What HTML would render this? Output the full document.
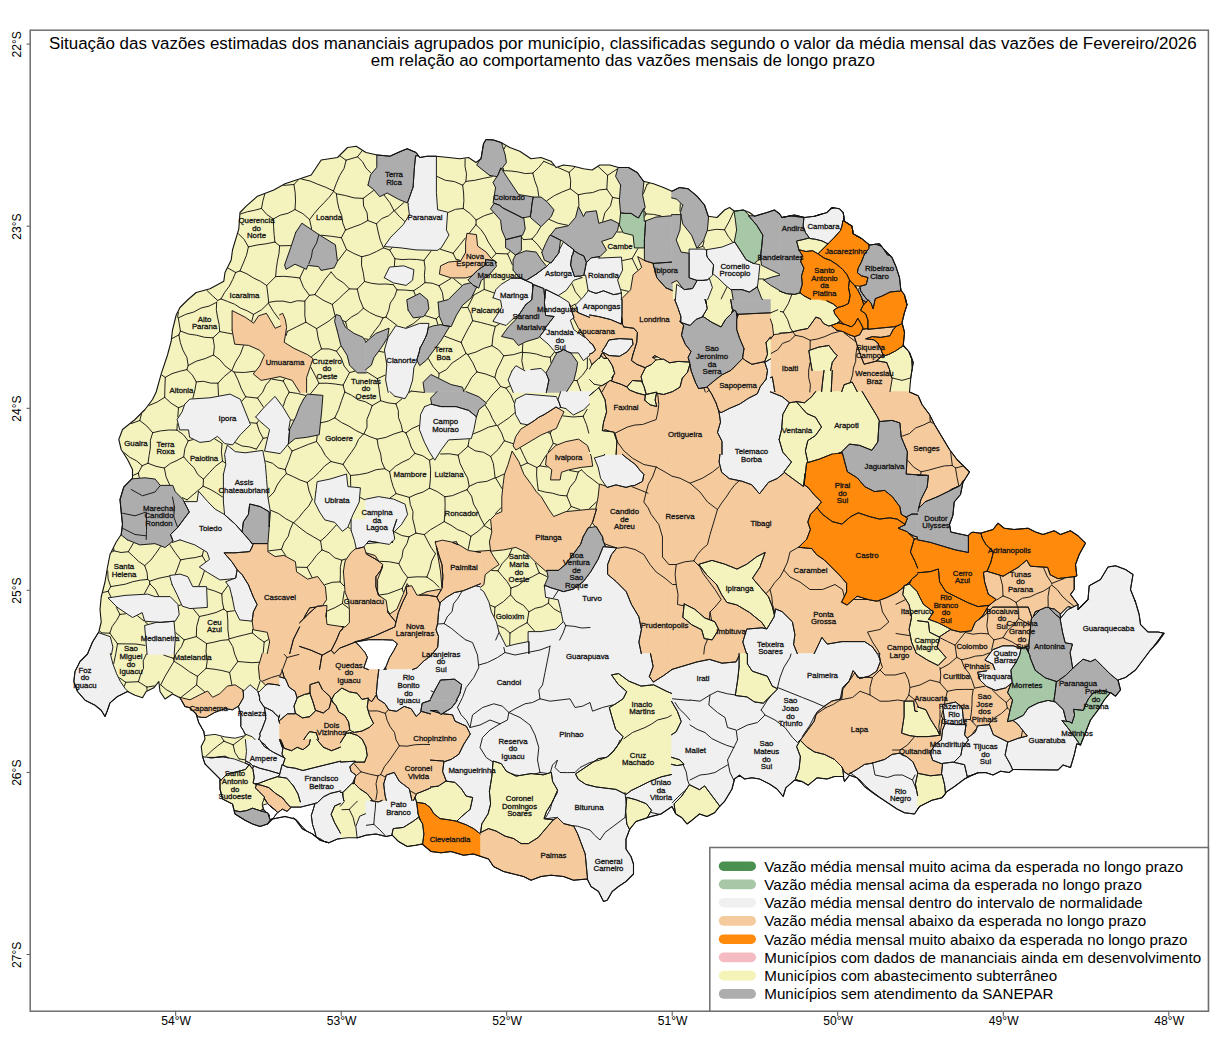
<!DOCTYPE html><html><head><meta charset="utf-8"><style>html,body{margin:0;padding:0;background:#fff}svg{display:block}text{font-family:"Liberation Sans",sans-serif;fill:#000}</style></head><body>
<svg width="1224" height="1049" viewBox="0 0 1224 1049">
<rect width="1224" height="1049" fill="#fff"/>
<path d="M156.2,392.0L152.5,399.5L145.0,409.5L135.0,419.5L122.5,429.5L118.8,439.5L121.2,449.5L127.5,459.5L132.5,469.5L132.5,478.2L123.8,487.0L120.0,499.5L121.2,512.0L122.5,524.5L121.2,534.5L116.2,542.0L110.0,554.5L107.5,567.0L105.0,582.0L101.2,597.0L100.0,609.5L101.2,622.0L98.8,632.0L92.5,642.0L87.5,654.0L80.0,661.5L75.0,671.5L73.8,681.5L77.5,691.5L85.0,700.2L95.0,705.2L101.2,710.2L105.0,716.5L107.5,710.2L110.0,702.8L117.5,696.5L127.5,691.5L135.0,695.2L142.5,697.8L146.2,691.5L153.8,687.8L158.8,681.5L160.0,691.5L165.0,699.0L172.5,694.0L180.0,697.8L185.0,706.5L190.0,707.8L196.2,714.0L198.8,722.8L203.8,731.5L205.0,739.0L201.2,746.5L202.5,756.5L205.0,764.0L212.5,771.5L220.0,779.0L220.0,789.0L222.5,799.0L232.5,804.0L235.0,814.0L245.0,820.2L252.5,824.0L260.0,826.5L267.5,824.0L272.5,819.0L285.0,816.5L295.0,819.0L302.5,829.0L312.5,834.0L320.0,840.2L328.8,842.8L337.5,839.0L347.5,837.8L357.5,837.8L366.0,835.2L376.0,834.0L386.0,836.5L392.2,835.2L398.5,841.5L407.2,846.5L416.0,845.2L422.2,844.0L431.0,851.5L441.0,852.8L451.0,851.5L463.5,855.2L473.5,854.0L481.0,856.5L488.5,859.0L493.5,866.5L503.5,871.5L513.5,874.0L523.5,876.5L531.0,880.2L541.0,876.5L551.0,875.2L563.5,876.5L573.5,880.2L587.2,879.0L591.0,886.5L598.5,891.5L603.5,901.5L607.2,900.2L612.2,891.5L618.5,886.5L626.0,881.5L633.5,874.0L633.5,864.0L631.0,856.5L626.0,849.0L626.0,839.0L629.8,829.0L636.0,821.5L651.0,816.5L661.0,814.0L672.0,806.5L675.8,814.0L682.0,817.8L687.0,824.0L692.0,820.2L699.5,814.0L707.0,816.5L714.5,812.8L719.5,806.5L724.5,801.5L732.0,789.0L734.5,779.0L739.5,775.2L744.5,779.0L752.0,777.8L759.5,779.0L769.5,784.0L777.0,789.0L783.2,796.5L785.8,787.8L794.5,780.2L802.0,781.5L808.2,785.2L817.0,777.8L827.0,779.0L834.5,776.5L843.2,776.5L844.5,781.5L849.5,775.2L857.0,777.8L864.5,786.5L874.5,794.0L882.0,799.0L889.5,804.0L897.0,809.0L904.5,812.8L914.5,814.0L919.5,806.5L924.5,804.0L932.0,800.2L942.0,797.8L947.0,791.5L954.5,786.5L964.5,779.0L972.0,775.2L978.0,772.8L985.5,772.5L993.0,775.0L1000.5,771.2L1009.2,772.5L1013.0,769.5L1058.0,770.0L1063.0,765.0L1070.5,767.5L1074.2,755.0L1076.8,743.8L1080.5,745.0L1085.5,732.5L1090.5,720.0L1098.0,710.0L1104.2,700.0L1110.5,692.5L1115.5,696.2L1120.5,690.0L1118.0,680.0L1125.5,677.5L1135.5,670.0L1143.0,660.0L1150.5,650.0L1158.0,642.0L1164.2,633.2L1158.0,632.0L1148.0,632.0L1140.5,624.5L1139.2,614.5L1135.5,602.0L1130.5,589.5L1133.0,574.5L1125.5,569.5L1115.5,565.8L1108.0,567.0L1100.5,579.5L1089.2,585.8L1088.0,599.5L1078.0,609.5L1078.0,604.5L1070.5,594.5L1074.2,589.5L1074.2,577.0L1076.8,575.8L1075.5,564.5L1079.2,554.5L1085.5,543.2L1078.0,535.8L1070.5,530.8L1060.5,534.5L1054.2,530.8L1043.0,534.5L1035.5,532.0L1028.0,528.2L1014.2,529.5L1004.2,528.2L998.0,523.2L993.0,529.5L980.5,533.2L973.1,532.2L971.0,532.8L968.0,535.8L962.3,534.5L962.0,534.5L950.8,532.0L949.5,524.5L952.6,516.2L953.0,514.5L954.2,502.0L960.5,494.5L963.0,482.0L963.1,482.4L963.2,482.0L969.5,472.0L957.0,459.5L949.5,449.5L942.0,437.0L934.5,424.5L929.5,414.5L922.0,404.5L918.2,395.8L909.5,392.0L910.8,377.5L913.2,362.5L909.5,352.5L903.2,345.0L904.5,332.5L902.0,322.5L904.5,312.5L907.0,305.0L904.5,295.0L900.8,290.0L899.5,277.5L895.8,266.2L892.0,257.5L884.5,250.0L879.5,243.8L869.5,245.0L862.0,238.8L853.2,233.8L852.0,226.2L844.5,221.2L843.2,212.5L839.5,208.8L832.0,207.5L827.0,212.5L814.5,216.2L804.5,217.5L794.5,215.0L782.0,217.5L779.5,213.8L774.5,210.0L767.0,212.5L754.5,216.2L749.5,212.5L743.2,210.0L734.5,211.2L729.5,207.5L724.5,210.0L717.0,217.5L708.2,216.2L704.5,205.0L697.0,196.2L688.2,188.8L679.5,187.5L672.0,191.2L663.5,187.5L653.5,183.8L643.5,181.2L637.2,172.5L628.5,167.5L618.5,167.5L609.8,165.0L599.8,165.0L592.2,170.0L583.5,168.8L573.5,166.2L563.5,165.0L556.0,167.5L551.0,161.2L541.0,157.5L531.0,158.8L519.8,151.2L509.8,147.5L501.0,142.5L493.5,140.0L486.0,139.5L483.5,143.8L481.0,158.8L476.0,162.5L468.5,157.5L459.8,158.8L448.5,157.5L436.0,156.2L427.2,156.2L419.8,157.5L416.0,152.5L407.2,148.8L401.0,151.2L389.8,156.2L377.2,155.0L366.0,152.5L356.2,146.2L347.5,147.5L337.5,157.5L321.2,160.0L311.2,175.0L300.0,178.8L285.0,183.8L273.8,190.0L257.5,196.2L246.2,206.2L240.0,212.5L238.8,228.8L232.5,250.0L231.2,260.0L225.0,272.5L223.8,281.2L210.0,288.8L196.2,292.5L187.5,300.0L180.0,307.5L176.2,315.0L172.5,330.0L171.2,341.2L167.5,355.0L161.2,373.8Z" fill="#f4f3bd" stroke="none"/>
<path d="M295.8,232.3L290.8,247.4L284.6,265.0L286.0,269.4L295.0,264.2L306.4,269.3L307.8,265.4L318.6,266.6L321.0,270.4L334.1,267.9L337.4,261.3L335.4,244.8L319.0,234.7L301.9,223.2Z" fill="#adadad" stroke="#adadad" stroke-width="0.6"/>
<path d="M232.1,330.0L234.7,344.2L248.7,345.4L259.8,350.3L264.5,355.1L259.7,366.0L253.2,373.9L261.1,380.4L267.6,379.2L280.0,376.6L292.2,380.3L299.8,392.4L306.6,392.4L306.6,377.6L310.4,366.3L313.0,358.7L307.7,354.7L294.0,348.4L284.2,342.3L286.6,327.5L285.4,319.9L282.7,313.3L279.6,314.8L280.8,325.9L275.2,328.3L270.3,319.8L266.4,313.3L258.5,315.9L253.7,323.2L245.2,317.2L232.1,310.6Z" fill="#f5cb9d" stroke="#f5cb9d" stroke-width="0.6"/>
<path d="M337.1,330.1L340.8,345.2L347.1,355.2L349.6,365.2L357.3,372.9L366.4,372.9L366.4,369.0L365.6,369.6L365.6,342.3L366.1,341.9L362.8,337.2L354.0,333.4L345.3,327.2L340.3,315.9L335.9,314.5L334.6,321.2Z" fill="#adadad" stroke="#adadad" stroke-width="0.6"/>
<path d="M368.0,185.2L373.2,189.1L379.7,196.7L387.2,193.0L398.3,199.2L407.4,203.0L413.1,187.2L414.4,167.5L415.6,155.8L418.6,155.8L416.0,152.5L407.2,148.8L401.0,151.2L389.8,156.2L376.8,154.9L376.8,167.4L370.6,174.8Z" fill="#adadad" stroke="#adadad" stroke-width="0.6"/>
<path d="M413.1,187.0L407.4,203.0L408.5,203.5L408.1,205.0L409.4,214.9L403.2,224.7L390.7,237.2L384.1,246.5L401.0,247.9L416.0,249.9L437.3,250.4L441.3,247.8L449.0,235.0L446.4,229.9L447.6,212.2L437.6,209.7L436.4,192.5L436.4,156.2L427.2,156.2L419.8,157.5L418.5,155.8L415.6,155.8L414.4,167.5Z" fill="#f0f0f0" stroke="#f0f0f0" stroke-width="0.6"/>
<path d="M489.6,175.4L497.0,176.6L498.1,174.8L500.9,167.9L501.7,169.1L502.5,167.7L506.4,162.6L505.2,154.9L501.5,142.8L501.0,142.5L493.5,140.0L486.0,139.5L483.5,143.8L481.0,158.8L480.1,159.4L476.7,165.1Z" fill="#adadad" stroke="#adadad" stroke-width="0.6"/>
<path d="M495.6,187.6L493.1,202.8L499.6,205.3L502.9,208.0L516.2,214.6L522.5,217.9L530.1,216.5L531.1,211.9L531.8,204.9L533.2,197.1L533.5,197.1L526.1,195.8L518.7,194.6L508.8,179.8L500.9,167.9L498.1,174.8L493.0,182.5Z" fill="#adadad" stroke="#adadad" stroke-width="0.6"/>
<path d="M505.6,239.7L521.4,235.7L521.4,235.9L522.5,235.3L525.2,228.9L523.7,217.6L522.4,217.8L503.1,208.1L499.6,205.3L494.2,203.2L490.5,208.8L500.6,220.2L501.8,230.1L505.6,238.9Z" fill="#adadad" stroke="#adadad" stroke-width="0.6"/>
<path d="M509.6,250.3L515.5,255.1L515.7,254.7L517.6,254.0L521.4,250.2L521.4,235.7L515.9,237.1L505.6,239.7L505.6,247.7Z" fill="#adadad" stroke="#adadad" stroke-width="0.6"/>
<path d="M531.2,211.6L530.1,216.6L530.7,216.5L530.6,217.7L541.0,226.7L551.3,216.4L554.0,209.9L547.5,202.2L541.1,197.1L533.2,197.1L531.8,204.9Z" fill="#adadad" stroke="#adadad" stroke-width="0.6"/>
<path d="M555.8,228.4L550.4,235.1L563.3,241.5L565.6,243.5L574.0,249.8L573.8,250.6L579.4,254.0L583.8,255.9L586.4,262.5L586.4,262.7L591.2,257.9L600.0,256.6L606.5,250.1L601.6,241.4L612.5,237.8L617.6,230.2L619.0,223.6L611.0,219.6L598.8,223.3L596.3,210.8L585.7,212.1L583.5,216.6L578.4,206.4L575.6,217.3L568.3,225.8Z" fill="#adadad" stroke="#adadad" stroke-width="0.6"/>
<path d="M620.6,185.1L619.4,200.0L620.6,212.9L624.8,213.4L631.1,213.4L636.3,216.9L638.5,218.0L643.9,208.5L643.9,209.7L645.2,207.6L642.6,195.0L643.9,181.3L643.5,181.2L637.2,172.5L628.5,167.5L618.5,167.5L618.1,167.4L615.6,176.3Z" fill="#adadad" stroke="#adadad" stroke-width="0.6"/>
<path d="M644.4,240.2L645.7,220.9L644.2,221.4L643.9,208.5L638.5,217.9L636.1,216.7L631.1,213.4L625.1,213.4L620.6,212.8L619.5,223.9L618.9,223.6L618.8,223.9L623.2,232.8L633.1,235.3L634.4,247.9L644.4,247.9Z" fill="#a6c8a6" stroke="#a6c8a6" stroke-width="0.6"/>
<path d="M671.6,262.1L671.6,215.8L655.9,217.1L645.6,220.9L644.4,240.0L644.4,260.5L653.5,263.4Z" fill="#adadad" stroke="#adadad" stroke-width="0.6"/>
<path d="M654.7,355.6L652.5,357.4L653.0,357.7L657.3,356.9ZM665.8,287.8L656.8,277.7L653.0,263.4L653.5,263.4L645.0,260.8L637.7,256.6L641.7,267.4L633.1,274.8L630.6,289.8L621.4,299.0L621.4,299.6L622.0,299.6L672.4,299.6L672.4,290.6Z" fill="#f5cb9d" stroke="#f5cb9d" stroke-width="0.6"/>
<path d="M665.8,287.8L672.4,290.6L672.4,282.7L671.6,283.1L671.6,262.1L653.0,263.4L656.8,277.7Z" fill="#adadad" stroke="#adadad" stroke-width="0.6"/>
<path d="M612.1,377.4L612.3,378.7L613.2,375.7ZM600.9,355.5L603.8,358.4L606.8,358.4L603.3,353.3L602.2,352.9ZM589.6,341.7L589.6,317.3L578.2,312.7L578.2,313.0L569.4,304.1L574.0,317.7L573.3,318.1L578.2,327.7L585.7,337.8ZM592.9,345.0L592.6,344.4L591.4,343.5Z" fill="#f5cb9d" stroke="#f5cb9d" stroke-width="0.6"/>
<path d="M588.1,290.3L590.6,291.5L596.0,293.4L603.5,290.8L613.5,294.6L618.3,293.8L621.5,292.8L617.6,280.0L622.6,270.1L621.4,257.1L598.4,258.1L600.0,256.5L591.2,257.8L586.3,262.7L583.8,275.4L585.6,275.1Z" fill="#f0f0f0" stroke="#f0f0f0" stroke-width="0.6"/>
<path d="M589.6,299.6L621.4,299.6L621.4,292.7L618.0,293.9L613.5,294.6L603.5,290.8L596.0,293.4L590.8,291.6L588.1,290.2L588.2,290.9L583.2,297.2L575.5,304.9L578.2,312.8L589.6,317.4ZM621.8,317.7L621.3,323.4L622.6,324.7L622.4,320.9Z" fill="#f0f0f0" stroke="#f0f0f0" stroke-width="0.6"/>
<path d="M536.2,274.1L526.1,280.4L518.2,276.4L519.8,278.5L521.1,278.5L532.5,283.6L532.9,287.0L533.2,284.5L543.8,288.6L544.8,298.5L545.7,289.5L558.5,295.8L558.3,295.6L566.3,290.3L573.7,280.3L582.3,277.5L578.2,276.1L574.5,276.6L570.6,265.0L571.8,256.0L572.7,254.8L574.0,249.8L563.4,241.9L559.2,250.2L558.9,252.7L551.1,263.0L550.3,262.6L545.8,267.2L544.1,268.1Z" fill="#f0f0f0" stroke="#f0f0f0" stroke-width="0.6"/>
<path d="M570.6,265.0L574.5,276.6L583.8,275.4L586.4,262.5L583.8,255.9L579.6,254.1L573.7,250.5L572.6,254.9L571.8,256.0Z" fill="#adadad" stroke="#adadad" stroke-width="0.6"/>
<path d="M513.1,270.1L518.2,276.5L526.0,280.5L536.2,274.1L543.9,268.3L545.8,267.2L546.6,266.4L541.3,259.8L536.2,252.1L526.0,250.8L515.7,254.7L513.1,259.9Z" fill="#adadad" stroke="#adadad" stroke-width="0.6"/>
<path d="M541.8,252.5L544.5,260.3L551.1,263.0L558.9,252.7L560.5,240.1L550.4,235.1L549.9,235.8L549.6,235.6L545.6,243.6Z" fill="#adadad" stroke="#adadad" stroke-width="0.6"/>
<path d="M493.0,297.8L500.6,300.3L501.8,307.4L492.9,321.4L506.1,325.5L511.3,320.3L519.4,314.2L525.7,304.7L531.8,299.8L532.9,286.8L532.6,283.5L521.1,278.4L510.9,278.4L500.7,284.7L495.7,289.8Z" fill="#f0f0f0" stroke="#f0f0f0" stroke-width="0.6"/>
<path d="M525.7,304.7L515.7,319.7L508.2,327.2L501.5,336.5L513.3,339.2L518.4,345.5L526.1,341.6L538.7,337.8L543.7,331.3L545.7,327.3L554.1,316.5L545.6,315.4L544.4,302.5L544.8,298.3L543.9,288.5L533.1,284.4L531.8,299.8Z" fill="#adadad" stroke="#adadad" stroke-width="0.6"/>
<path d="M543.8,331.1L539.5,336.8L548.2,344.1L555.9,353.0L560.8,351.3L563.5,349.5L568.5,352.1L570.9,352.9L578.3,352.9L583.4,360.6L589.6,355.5L589.6,354.1L592.7,352.9L595.5,349.9L592.9,344.9L589.6,342.1L589.6,341.6L585.5,337.4L585.1,337.7L573.8,329.7L570.3,320.2L574.0,317.7L568.8,302.2L558.7,295.9L545.7,289.4L544.4,302.5L545.6,315.4L554.1,316.5L545.7,327.3Z" fill="#f0f0f0" stroke="#f0f0f0" stroke-width="0.6"/>
<path d="M548.9,380.0L546.3,392.4L560.4,392.4L560.7,391.6L566.7,391.6L573.9,380.2L576.4,370.1L577.6,362.4L570.8,352.9L571.0,352.9L568.3,352.0L563.5,349.5L561.0,351.2L555.8,352.9L556.8,354.0L555.7,354.7L550.6,364.8L545.9,373.1L546.3,373.6Z" fill="#adadad" stroke="#adadad" stroke-width="0.6"/>
<path d="M511.9,371.0L508.1,380.0L513.2,392.4L546.3,392.4L548.9,380.0L546.3,373.6L541.1,368.4L530.9,369.6L524.9,370.8L515.9,365.7Z" fill="#f0f0f0" stroke="#f0f0f0" stroke-width="0.6"/>
<path d="M465.6,252.4L460.8,260.8L448.4,262.1L440.6,265.9L439.4,274.1L450.9,277.9L466.1,277.9L472.0,275.9L478.2,269.7L485.6,264.8L485.6,259.5L494.3,260.7L491.3,258.5L486.3,252.2L477.6,246.0L476.4,234.6L466.9,233.3L465.6,242.5ZM496.6,262.4L495.3,261.5L495.8,263.5Z" fill="#f5cb9d" stroke="#f5cb9d" stroke-width="0.6"/>
<path d="M485.6,264.8L478.2,269.7L467.9,280.0L473.3,285.3L478.7,288.1L481.3,280.3L488.8,275.3L496.4,266.3L495.1,260.8L485.6,259.5Z" fill="#adadad" stroke="#adadad" stroke-width="0.6"/>
<path d="M438.1,302.2L439.4,316.3L443.2,325.3L451.2,326.6L456.4,315.2L462.5,305.3L471.3,297.8L476.7,287.0L473.3,285.3L470.8,282.8L463.3,284.6L448.3,299.6Z" fill="#adadad" stroke="#adadad" stroke-width="0.6"/>
<path d="M408.1,310.1L413.3,317.9L423.7,316.6L428.9,308.9L427.6,299.8L419.9,293.3L406.8,299.8Z" fill="#adadad" stroke="#adadad" stroke-width="0.6"/>
<path d="M384.3,277.7L393.4,282.9L406.1,285.4L412.6,280.2L413.9,269.7L403.6,265.8L389.5,267.1Z" fill="#f0f0f0" stroke="#f0f0f0" stroke-width="0.6"/>
<path d="M386.8,365.0L385.6,380.0L388.2,392.4L390.8,392.4L390.0,391.6L409.0,391.6L412.6,380.1L413.9,367.6L417.2,360.9L416.8,360.0L419.4,351.4L420.2,347.7L421.7,345.1L425.6,337.3L427.2,333.3L429.0,323.4L419.7,323.4L406.0,328.4L395.8,325.7L388.1,337.3L384.4,350.0ZM408.8,392.4L408.9,392.2L408.7,392.4Z" fill="#f0f0f0" stroke="#f0f0f0" stroke-width="0.6"/>
<path d="M365.6,369.6L371.3,365.2L373.9,357.7L381.3,347.7L387.6,337.6L389.0,328.2L375.8,333.5L365.6,342.3Z" fill="#adadad" stroke="#adadad" stroke-width="0.6"/>
<path d="M416.8,360.0L419.7,365.6L426.3,360.3L441.3,340.2L449.7,326.3L443.2,325.3L441.0,324.6L433.4,325.8L428.2,327.7L427.1,333.5L425.6,337.3L421.8,344.9L420.1,347.6L419.3,351.6Z" fill="#adadad" stroke="#adadad" stroke-width="0.6"/>
<path d="M424.5,392.4L436.2,392.4L437.0,391.6L463.8,391.6L462.5,387.2L451.1,384.6L430.9,374.5L423.1,382.4Z" fill="#adadad" stroke="#adadad" stroke-width="0.6"/>
<path d="M891.7,377.8L889.5,370.5L832.3,370.5L831.2,391.6L841.7,391.6L844.2,384.7L852.2,382.0L857.2,391.6L862.2,391.6L890.0,391.6L892.3,378.0ZM867.9,328.4L867.9,328.4L867.9,328.1L867.9,328.4ZM815.6,391.6L821.6,391.6L822.8,380.0L824.0,370.5L812.1,370.5L779.6,370.5L779.6,333.9L773.6,334.6L773.6,335.1L770.4,339.0L770.4,358.1L770.4,359.0L770.4,377.7L772.3,376.9L774.8,391.6Z" fill="#f5cb9d" stroke="#f5cb9d" stroke-width="0.6"/>
<path d="M772.4,324.9L770.4,319.0L770.4,337.1L770.4,338.3L770.4,339.0L773.6,335.1ZM737.4,316.1L737.3,317.1L737.9,315.3L737.7,314.9L737.1,315.6Z" fill="#f5cb9d" stroke="#f5cb9d" stroke-width="0.6"/>
<path d="M830.6,370.5L824.0,370.5L822.8,380.0L821.6,391.6L831.2,391.6L832.3,370.5Z" fill="#f4f3bd" stroke="#f4f3bd" stroke-width="0.6"/>
<path d="M844.2,384.7L841.7,391.6L857.2,391.6L852.2,382.0Z" fill="#f4f3bd" stroke="#f4f3bd" stroke-width="0.6"/>
<path d="M910.8,377.9L910.8,377.5L912.1,369.3L911.9,370.5L890.8,370.5L889.9,370.5L889.5,370.5L891.7,377.8L902.0,380.4ZM913.2,362.5L909.5,352.5L908.9,351.8L911.7,358.8L912.3,367.9ZM903.5,345.3L902.8,345.7L906.4,348.8Z" fill="#f4f3bd" stroke="#f4f3bd" stroke-width="0.6"/>
<path d="M774.8,391.6L772.3,376.9L770.4,377.7L770.4,391.6Z" fill="#f0f0f0" stroke="#f0f0f0" stroke-width="0.6"/>
<path d="M682.7,205.1L680.4,212.5L680.8,214.6L681.2,214.6L680.9,217.7L681.5,217.7L682.8,224.0L691.6,235.2L696.9,248.3L703.6,240.2L707.4,230.1L708.6,216.3L708.2,216.2L704.5,205.0L697.0,196.2L688.2,188.8L679.5,187.5L672.0,191.2L671.6,191.0L671.6,197.8L676.8,199.2Z" fill="#adadad" stroke="#adadad" stroke-width="0.6"/>
<path d="M682.8,288.4L684.6,289.6L692.6,288.5L697.2,280.4L696.9,280.4L689.1,277.8L689.1,253.3L681.1,252.1L676.2,240.0L679.9,230.1L681.2,214.6L671.6,214.6L671.6,283.1L676.9,280.5Z" fill="#adadad" stroke="#adadad" stroke-width="0.6"/>
<path d="M734.2,242.2L734.7,242.0L739.8,249.8L746.1,259.7L753.3,263.4L754.1,263.6L760.5,258.3L760.4,257.5L761.6,247.5L762.8,235.1L756.7,225.2L748.6,215.8L749.7,215.8L744.2,210.4L743.2,210.0L734.5,211.2L734.0,210.9L735.4,220.1L736.6,230.0Z" fill="#a6c8a6" stroke="#a6c8a6" stroke-width="0.6"/>
<path d="M725.5,285.3L731.6,290.2L731.5,289.6L742.1,289.6L749.4,292.1L757.2,286.9L757.4,287.4L758.6,277.5L759.9,264.7L753.3,263.4L746.1,259.7L739.8,249.8L734.7,242.0L721.9,247.1L706.6,249.7L706.6,254.9L707.4,257.3L713.6,264.9L712.6,273.5L717.9,277.8Z" fill="#f0f0f0" stroke="#f0f0f0" stroke-width="0.6"/>
<path d="M702.8,280.4L707.8,279.8L712.4,275.2L713.6,264.9L707.4,257.3L706.6,255.0L706.6,249.7L705.1,249.9L704.8,249.1L689.1,249.1L689.1,277.8L696.9,280.4Z" fill="#f0f0f0" stroke="#f0f0f0" stroke-width="0.6"/>
<path d="M709.3,278.2L707.7,279.8L703.1,280.4L697.2,280.3L692.6,288.5L684.6,289.6L676.7,284.3L675.4,299.6L705.0,299.6L706.4,304.0L705.7,299.6L707.6,299.6L712.4,287.5Z" fill="#f0f0f0" stroke="#f0f0f0" stroke-width="0.6"/>
<path d="M779.6,274.2L779.6,214.1L779.7,214.2L779.5,213.8L774.5,210.0L767.0,212.5L754.5,216.2L754.0,215.8L748.6,215.8L756.7,225.2L762.8,235.1L761.6,247.5L760.4,257.5L761.6,265.3ZM763.7,279.9L770.6,285.3L779.6,290.5L779.6,275.2L771.9,277.1ZM782.0,217.5L790.2,215.9L803.9,217.4L794.5,215.0Z" fill="#adadad" stroke="#adadad" stroke-width="0.6"/>
<path d="M844.4,220.7L844.5,221.2L843.2,212.5L843.9,217.3L843.6,220.9L844.1,221.1L844.3,220.6ZM830.7,208.8L834.3,207.9L832.0,207.5ZM820.9,214.3L822.0,214.2L822.4,213.9L814.5,216.2Z" fill="#f0f0f0" stroke="#f0f0f0" stroke-width="0.6"/>
<path d="M860.7,291.0L860.1,287.5L857.7,289.9L861.4,297.2L862.3,299.8L866.1,302.2L867.8,300.5L864.0,295.8ZM901.0,290.3L900.8,290.0L900.7,288.7L900.4,290.7ZM890.2,255.7L884.5,250.0L883.7,249.1L887.3,254.8ZM875.8,244.2L881.6,246.4L879.5,243.8ZM869.5,245.0L869.2,244.7L869.2,244.7Z" fill="#adadad" stroke="#adadad" stroke-width="0.6"/>
<path d="M844.1,221.1L845.0,221.6L852.0,226.2L844.5,221.2L844.4,220.7L844.3,220.6ZM852.0,226.2L852.9,231.7L852.6,232.3L853.0,232.8L853.2,233.8ZM853.2,233.8L855.2,234.9L856.4,236.1L858.3,236.7L862.0,238.8ZM859.9,286.3L859.8,286.3L859.9,286.3ZM856.7,288.5L855.3,285.7L854.6,285.6ZM905.3,298.2L905.2,298.8L905.6,299.4ZM866.1,302.2L862.3,299.7L862.1,299.4L863.7,304.6ZM905.6,299.4L907.0,305.0L905.6,299.4ZM843.5,324.1L840.0,320.5L838.9,321.4L839.1,322.3L837.0,323.3L838.4,322.8Z" fill="#ff8a0b" stroke="#ff8a0b" stroke-width="0.6"/>
<path d="M737.2,313.5L737.9,315.3L738.1,314.8ZM757.2,286.9L749.4,292.1L742.1,289.6L731.5,289.6L733.2,299.6L762.3,299.6L761.2,297.3Z" fill="#adadad" stroke="#adadad" stroke-width="0.6"/>
<path d="M737.2,317.4L737.3,317.1L737.4,316.1L736.8,315.2ZM732.7,309.9L731.9,312.2L734.1,310.8L733.5,309.7L733.2,309.5Z" fill="#adadad" stroke="#adadad" stroke-width="0.6"/>
<path d="M184.7,404.3L182.1,411.8L177.1,419.4L179.7,429.9L188.5,429.9L189.6,437.3L199.9,442.4L210.1,441.2L217.5,436.3L224.8,443.6L232.7,444.9L240.3,434.8L250.5,424.6L240.3,399.2L230.1,394.1L210.0,397.8L189.8,399.1Z" fill="#f0f0f0" stroke="#f0f0f0" stroke-width="0.6"/>
<path d="M255.7,417.0L259.7,421.1L269.6,429.6L264.5,451.1L280.2,453.6L286.6,446.0L286.6,445.5L288.4,444.1L289.7,429.3L289.1,430.4L288.6,430.2L290.4,419.4L282.8,406.8L275.0,396.4L264.7,406.7Z" fill="#f0f0f0" stroke="#f0f0f0" stroke-width="0.6"/>
<path d="M303.5,399.3L299.6,406.8L295.8,416.8L289.6,429.4L288.3,444.1L295.2,438.6L306.3,437.4L319.2,434.8L321.6,412.0L322.9,395.4L307.3,394.1Z" fill="#adadad" stroke="#adadad" stroke-width="0.6"/>
<path d="M223.4,474.5L223.4,502.0L224.6,514.7L224.7,514.8L235.3,524.2L242.1,531.9L243.4,521.9L248.4,514.4L249.7,504.0L260.2,506.6L269.2,511.8L269.2,527.0L270.4,512.0L267.9,497.0L266.6,479.5L265.4,464.4L262.8,450.4L245.0,452.8L235.2,451.6L227.3,445.1L224.6,454.5L225.8,464.5ZM252.2,543.5L250.3,541.4L251.8,543.0Z" fill="#f0f0f0" stroke="#f0f0f0" stroke-width="0.6"/>
<path d="M242.1,531.9L245.3,535.5L250.3,541.4L252.3,543.6L267.5,543.6L267.9,543.6L269.2,527.0L269.2,511.8L260.2,506.6L249.7,504.0L248.4,514.4L243.4,521.9Z" fill="#adadad" stroke="#adadad" stroke-width="0.6"/>
<path d="M180.0,539.9L194.8,544.9L207.2,552.3L209.5,559.4L199.3,567.0L207.3,572.3L219.9,579.9L233.4,578.8L235.8,577.9L237.1,569.6L232.2,562.2L224.1,552.8L235.0,552.8L249.7,551.6L252.1,547.0L253.0,544.4L245.3,535.5L235.3,524.2L224.0,514.2L215.2,509.2L207.8,501.7L198.5,491.1L197.1,501.6L184.0,501.6L189.3,512.0L185.3,517.2L177.8,527.3L170.5,534.6L173.0,540.9L172.0,541.7L172.2,542.5Z" fill="#f0f0f0" stroke="#f0f0f0" stroke-width="0.6"/>
<path d="M232.1,597.1L234.6,609.6L239.7,619.9L252.2,621.2L253.4,611.9L257.1,604.5L253.4,597.2L248.4,584.7L242.2,574.8L237.1,569.6L235.8,577.9L233.6,578.8L231.3,578.9L231.5,579.6L225.6,581.8L229.6,587.2Z" fill="#f0f0f0" stroke="#f0f0f0" stroke-width="0.6"/>
<path d="M172.1,584.6L177.1,594.7L182.2,606.1L190.0,608.6L207.4,607.4L206.6,586.6L192.7,586.6L187.8,576.7L180.0,574.1L169.5,575.5Z" fill="#f0f0f0" stroke="#f0f0f0" stroke-width="0.6"/>
<path d="M117.2,607.3L132.5,617.5L142.2,612.6L144.7,621.2L160.0,622.4L175.2,621.2L179.2,614.6L177.9,604.3L170.2,596.6L155.1,596.6L147.6,594.1L125.0,595.4L108.0,597.9Z" fill="#f0f0f0" stroke="#f0f0f0" stroke-width="0.6"/>
<path d="M147.1,654.4L174.2,654.4L175.4,637.0L174.0,621.2L160.0,622.4L156.4,622.1L156.4,622.4L144.6,625.5Z" fill="#f0f0f0" stroke="#f0f0f0" stroke-width="0.6"/>
<path d="M110.3,653.6L110.5,654.4L111.5,654.4L112.9,647.0L110.3,636.7L98.6,632.7L98.8,631.9L92.5,642.0L87.6,653.6Z" fill="#f0f0f0" stroke="#f0f0f0" stroke-width="0.6"/>
<path d="M127.3,539.8L139.9,544.9L154.9,543.6L165.1,547.5L173.0,540.9L170.5,534.6L177.8,527.3L185.3,517.2L189.3,512.0L182.8,499.3L175.3,491.8L172.8,485.4L160.2,485.4L155.2,479.1L145.0,477.8L131.8,478.9L123.8,487.0L120.0,499.5L121.2,512.0L122.5,524.5L121.2,534.5L121.0,534.8Z" fill="#adadad" stroke="#adadad" stroke-width="0.6"/>
<path d="M315.8,492.0L314.6,502.1L319.7,512.2L324.8,519.9L334.8,522.4L342.4,531.3L347.8,527.3L352.9,514.7L359.2,502.1L360.4,487.8L347.9,486.6L346.5,474.0L329.9,479.1L317.1,481.7Z" fill="#f0f0f0" stroke="#f0f0f0" stroke-width="0.6"/>
<path d="M253.4,597.2L257.1,604.5L253.4,611.9L252.1,620.8L253.4,629.8L267.2,632.3L269.6,642.0L267.2,653.6L289.7,653.6L293.4,639.4L299.6,626.9L299.6,622.8L303.6,618.8L305.8,614.3L309.8,607.8L316.1,607.1L317.0,606.3L322.5,605.8L326.6,599.6L325.4,586.8L317.7,576.5L307.6,579.1L296.6,571.8L295.4,561.7L283.9,555.4L275.1,556.6L267.9,551.8L267.9,543.6L252.3,543.6L251.6,542.8L252.9,544.4L252.0,547.2L249.7,551.6L235.0,552.8L224.1,552.8L232.2,562.2L237.2,569.8L242.2,574.8L248.4,584.7Z" fill="#f5cb9d" stroke="#f5cb9d" stroke-width="0.6"/>
<path d="M299.6,646.4L299.6,626.9L293.4,639.4L289.7,653.6L299.6,653.6L299.6,647.3ZM341.8,629.8L342.4,629.3L342.6,628.4ZM343.0,626.6L340.9,626.5L342.9,626.8ZM326.2,616.8L326.6,611.8L326.5,611.7L326.1,616.1ZM310.0,612.4L316.1,607.1L309.8,607.8L305.8,614.3L303.6,618.8Z" fill="#f5cb9d" stroke="#f5cb9d" stroke-width="0.6"/>
<path d="M431.7,404.3L441.0,406.6L456.1,406.6L468.7,410.4L476.4,416.8L476.4,417.1L478.8,409.7L486.6,403.2L478.7,396.7L466.1,391.6L437.0,391.6L430.6,398.1Z" fill="#adadad" stroke="#adadad" stroke-width="0.6"/>
<path d="M424.5,406.7L420.6,414.4L419.4,429.6L424.4,442.2L429.5,452.2L434.8,460.2L441.3,449.7L448.7,439.9L471.3,438.6L473.9,429.6L476.4,416.8L468.7,410.4L456.1,406.6L441.0,406.6L431.0,404.1Z" fill="#f0f0f0" stroke="#f0f0f0" stroke-width="0.6"/>
<path d="M394.6,396.2L405.0,398.7L409.2,391.6L390.0,391.6Z" fill="#f0f0f0" stroke="#f0f0f0" stroke-width="0.6"/>
<path d="M520.7,423.6L527.7,424.8L530.8,422.9L534.0,420.8L538.7,417.3L543.6,414.9L550.8,410.5L556.0,407.0L558.3,408.4L561.0,407.4L560.7,407.3L558.8,401.8L556.3,396.6L541.0,395.4L525.9,394.1L515.7,399.2L514.4,404.5L515.6,414.6Z" fill="#f0f0f0" stroke="#f0f0f0" stroke-width="0.6"/>
<path d="M565.8,408.6L573.4,415.0L583.7,409.8L589.6,404.0L589.6,395.4L594.1,391.6L560.7,391.6L557.9,400.0L558.9,402.0L560.7,407.3Z" fill="#f0f0f0" stroke="#f0f0f0" stroke-width="0.6"/>
<path d="M543.8,414.8L538.7,417.3L533.8,421.0L520.7,429.2L515.6,436.8L513.1,445.9L515.9,450.0L541.2,434.9L556.3,428.5L560.2,419.7L564.0,411.8L556.0,407.0Z" fill="#f5cb9d" stroke="#f5cb9d" stroke-width="0.6"/>
<path d="M626.0,487.4L616.0,484.9L607.0,487.5L606.2,486.2L599.5,484.0L598.1,496.9L595.7,509.1L596.5,509.1L592.6,522.2L592.2,522.7L595.3,526.7L596.2,526.6L602.6,536.9L603.0,540.3L605.5,546.8L616.8,547.9L611.4,554.7L607.6,564.6L607.6,574.3L616.3,581.7L626.3,591.8L631.4,604.3L638.9,616.9L641.4,629.5L638.9,642.0L641.3,653.6L650.5,653.6L671.6,653.6L671.6,454.4L622.3,454.4L625.8,457.3L635.7,464.8L639.8,470.2L643.9,474.4L642.6,481.1L641.9,481.4L641.8,481.7L634.7,485.4L631.5,485.8Z" fill="#f5cb9d" stroke="#f5cb9d" stroke-width="0.6"/>
<path d="M631.3,485.9L634.7,485.5L641.9,481.8L642.0,481.4L642.6,481.1L643.9,474.4L640.0,470.4L635.7,464.7L625.8,457.3L622.4,454.3L604.5,454.3L604.6,455.1L594.3,457.9L598.1,467.1L600.6,478.4L607.0,487.5L616.0,484.9L626.0,487.4Z" fill="#f0f0f0" stroke="#f0f0f0" stroke-width="0.6"/>
<path d="M545.6,464.7L551.8,469.7L550.5,479.9L560.1,479.9L561.4,472.3L568.6,469.9L581.1,467.4L592.7,466.2L591.4,456.9L590.5,454.4L589.6,454.4L589.6,451.6L587.5,445.6L578.6,439.1L565.9,441.6L555.8,445.5L546.8,454.3Z" fill="#f5cb9d" stroke="#f5cb9d" stroke-width="0.6"/>
<path d="M504.4,474.4L503.1,484.5L501.8,497.0L501.8,511.7L495.8,514.2L490.6,519.4L491.8,532.0L489.4,542.0L490.7,551.2L503.6,549.9L515.9,547.4L525.8,552.3L535.7,562.3L545.8,571.2L546.9,571.2L546.7,570.4L558.4,570.4L565.7,564.2L580.6,544.3L583.1,536.8L588.2,527.8L589.3,527.7L592.6,522.2L596.5,509.1L591.0,509.1L578.5,510.4L565.9,511.6L553.7,516.5L548.8,509.3L541.3,496.8L536.3,491.7L531.3,484.3L523.9,474.3L518.9,461.8L512.1,451.0L508.1,464.4Z" fill="#f5cb9d" stroke="#f5cb9d" stroke-width="0.6"/>
<path d="M565.7,564.2L558.4,570.4L546.7,570.4L548.1,577.0L544.6,585.3L551.1,587.8L563.5,591.6L573.3,589.1L583.2,581.7L590.7,571.8L598.1,559.3L603.2,546.6L605.6,546.8L603.0,540.1L602.6,536.9L596.2,526.6L588.2,527.8L583.1,536.8L580.6,544.3ZM544.4,586.1L544.4,585.7L544.3,586.0Z" fill="#adadad" stroke="#adadad" stroke-width="0.6"/>
<path d="M583.2,581.7L573.3,589.1L563.5,591.6L551.1,587.8L544.3,585.2L545.6,597.3L558.2,599.8L560.6,609.6L563.1,621.9L555.8,629.1L541.0,631.6L528.1,631.6L528.1,641.7L528.9,641.5L528.9,653.6L641.3,653.6L638.9,642.0L641.4,629.5L638.9,616.9L631.4,604.3L626.3,591.8L616.3,581.7L607.6,574.3L607.6,564.6L611.4,554.7L616.8,547.9L603.2,546.6L598.1,559.3L590.7,571.8Z" fill="#f0f0f0" stroke="#f0f0f0" stroke-width="0.6"/>
<path d="M498.9,631.9L496.4,621.9L491.4,611.9L488.9,601.9L483.8,591.7L480.4,589.1L480.4,653.6L528.9,653.6L528.9,641.5L515.9,644.1L506.2,646.5Z" fill="#f0f0f0" stroke="#f0f0f0" stroke-width="0.6"/>
<path d="M480.4,583.8L480.4,587.3L483.9,584.7L485.2,574.7L491.2,569.8L499.1,564.6L493.8,556.8L490.0,550.4L475.1,551.5L480.4,552.3L480.4,582.9ZM456.2,541.6L452.2,542.3L458.3,544.8ZM435.5,541.4L435.6,541.9L436.4,541.7ZM440.6,572.0L441.8,587.1L442.1,587.9L442.9,576.6L442.0,564.7L438.6,554.4L436.3,546.2Z" fill="#f5cb9d" stroke="#f5cb9d" stroke-width="0.6"/>
<path d="M427.1,591.6L419.3,595.1L427.0,595.1L437.1,596.8L441.4,589.5L441.2,589.1ZM408.8,586.1L407.1,583.6L406.0,586.6ZM389.9,613.9L387.6,610.5L387.9,612.5L395.9,622.1L398.3,612.6L402.6,602.2L406.8,593.7L406.0,586.7L403.1,594.4L396.9,609.2ZM382.2,566.3L381.0,570.0L375.9,576.7L375.9,586.8L378.4,595.2L379.7,596.1L377.6,591.9L377.6,579.6L382.6,567.0ZM375.7,559.2L379.2,561.7L375.1,555.5L366.0,552.8L366.4,554.0Z" fill="#f5cb9d" stroke="#f5cb9d" stroke-width="0.6"/>
<path d="M378.3,542.6L368.8,541.0L366.6,543.6ZM392.6,542.4L392.7,541.1L391.4,542.4ZM393.9,532.2L401.3,524.8L407.6,514.6L405.1,504.2L393.6,499.1L378.5,496.6L365.6,499.2L365.6,519.6L396.7,519.6L393.1,530.3L393.7,533.4Z" fill="#f0f0f0" stroke="#f0f0f0" stroke-width="0.6"/>
<path d="M909.1,533.5L914.6,539.1L917.6,538.6L917.6,537.2L914.3,536.2ZM804.1,484.7L805.5,472.5L804.9,474.6L803.5,486.5L794.3,479.8L784.5,472.5L777.2,478.5L768.5,482.3L759.5,493.8L751.8,484.8L741.9,481.2L729.3,478.6L721.6,472.2L719.1,462.0L719.9,454.4L671.6,454.4L671.6,653.6L672.4,653.6L739.1,653.6L740.1,653.6L746.5,653.6L742.8,642.0L746.7,629.1L762.0,627.8L766.1,628.8L761.7,622.3L749.3,612.3L736.8,604.9L726.8,602.4L721.7,594.7L716.7,584.7L706.7,574.8L698.8,564.3L712.0,560.4L724.6,564.1L737.0,569.1L746.8,564.2L756.8,556.7L765.2,552.4L759.9,567.2L752.5,578.2L759.8,586.7L768.5,596.8L772.4,606.9L774.4,615.1L775.5,608.9L782.2,611.7L792.4,621.8L794.9,634.5L793.6,644.4L797.3,653.6L814.2,653.6L821.9,637.4L827.2,644.1L842.0,641.6L864.6,641.6L872.3,646.7L877.2,653.6L879.0,653.6L916.4,653.6L911.6,642.1L909.1,629.5L911.6,617.0L909.1,604.7L902.8,594.6L904.0,586.8L897.2,592.3L887.2,597.4L877.0,601.2L869.4,599.9L857.1,596.2L847.1,605.0L841.5,602.2L846.6,591.9L846.6,583.3L839.2,574.8L824.2,559.8L816.7,554.8L811.8,548.6L798.6,547.3L806.7,539.3L810.4,529.5L807.8,522.0L810.5,514.3L816.7,507.9L821.5,502.0L814.2,494.8L807.9,487.3ZM684.2,603.9L694.7,609.2L704.7,617.9L714.8,621.7L718.7,629.5L712.2,639.9L704.2,638.6L701.7,629.8L691.8,624.8L682.8,617.2ZM906.1,585.0L909.2,584.2L910.8,581.0ZM906.4,517.4L906.5,517.2L905.4,516.8ZM841.8,452.8L841.7,452.5L838.8,453.2ZM925.3,501.7L937.8,496.6L949.6,490.8L951.8,489.2L958.7,486.2L960.2,485.5L963.7,480.1L963.8,480.2L963.5,481.5L969.5,472.0L957.0,459.5L949.5,449.5L942.0,437.0L934.5,424.5L929.5,414.5L922.0,404.5L918.2,395.8L909.5,392.0L909.5,391.6L862.2,391.6L877.4,416.8L879.7,421.6L892.0,420.4L899.9,422.9L901.2,436.9L907.4,451.9L906.2,474.1L927.0,475.4L928.4,475.4L927.2,487.1L920.9,499.6L919.4,505.7L919.2,507.7ZM797.2,401.6L804.4,402.8L811.7,396.7L815.6,391.6L770.4,391.6L770.4,391.9L782.2,396.7L789.6,402.8L796.2,401.7L796.0,401.4L797.0,401.6L797.2,401.6Z" fill="#f5cb9d" stroke="#f5cb9d" stroke-width="0.6"/>
<path d="M722.0,454.4L719.9,454.4L719.1,462.0L721.6,472.2L729.3,478.6L741.9,481.2L751.8,484.8L759.5,493.8L768.5,482.3L777.2,478.5L784.5,472.5L783.9,472.1L791.5,462.0L782.8,452.2L779.1,439.5L781.6,429.4L782.8,414.4L789.2,402.8L789.6,402.8L782.2,396.7L770.4,391.9L770.4,454.4L722.8,454.4Z" fill="#f0f0f0" stroke="#f0f0f0" stroke-width="0.6"/>
<path d="M779.1,439.5L782.8,452.2L791.5,462.0L783.9,472.1L794.3,479.8L803.5,486.5L804.9,474.6L805.5,472.5L806.6,462.9L808.4,462.4L807.9,462.5L805.4,450.8L807.8,440.6L815.5,435.5L821.5,427.0L815.5,417.3L806.8,413.5L796.2,401.7L789.2,402.8L782.8,414.4L781.6,429.4ZM797.0,401.6L797.2,401.6L797.2,401.6Z" fill="#f4f3bd" stroke="#f4f3bd" stroke-width="0.6"/>
<path d="M815.5,417.3L821.5,427.0L815.5,435.5L807.8,440.6L805.4,450.8L807.9,462.5L808.4,462.4L819.4,459.1L831.9,454.1L838.8,453.2L841.7,452.5L841.6,451.9L849.4,444.1L859.6,445.4L871.9,450.3L877.8,441.9L879.1,421.6L879.7,421.6L877.4,416.8L862.2,391.6L815.6,391.6L811.7,396.7L804.4,402.8L796.0,401.4L806.8,413.5Z" fill="#f4f3bd" stroke="#f4f3bd" stroke-width="0.6"/>
<path d="M841.6,451.9L841.8,452.8L842.3,452.8L847.3,471.7L857.3,477.9L864.8,486.7L874.6,491.6L884.6,490.4L892.3,496.7L899.9,506.8L901.2,514.3L905.4,516.8L906.5,517.2L906.7,516.7L911.9,514.1L917.6,514.1L917.6,511.5L917.6,509.3L917.6,475.4L927.0,475.4L906.2,474.1L907.4,451.9L901.2,436.9L899.9,422.9L892.0,420.4L879.1,421.6L877.8,441.9L871.9,450.3L859.6,445.4L849.4,444.1ZM919.2,507.7L919.4,505.7L918.7,508.2Z" fill="#adadad" stroke="#adadad" stroke-width="0.6"/>
<path d="M911.9,514.1L906.7,516.7L906.4,517.4L907.5,518.0L905.0,524.3L905.3,524.6L904.8,524.8L904.7,525.1L904.5,525.0L898.0,528.2L907.2,531.7L909.1,533.5L914.3,536.2L917.6,537.2L917.6,514.1ZM951.8,489.2L949.6,490.8L950.3,490.4L958.7,486.2Z" fill="#adadad" stroke="#adadad" stroke-width="0.6"/>
<path d="M807.9,487.3L814.2,494.8L821.5,502.0L816.7,507.9L817.0,507.6L822.3,514.2L832.2,521.6L841.9,524.1L850.6,516.7L858.2,512.8L869.6,516.6L879.5,519.1L889.5,517.8L897.2,519.1L905.0,524.3L907.5,518.0L901.2,514.3L899.9,506.8L892.3,496.7L884.6,490.4L874.6,491.6L864.8,486.7L857.3,477.9L847.3,471.7L842.3,452.8L831.9,454.1L819.4,459.1L806.6,462.9L804.1,484.7ZM904.7,525.1L904.8,524.8L904.5,525.0Z" fill="#ff8a0b" stroke="#ff8a0b" stroke-width="0.6"/>
<path d="M811.8,548.6L816.7,554.8L824.2,559.8L839.2,574.8L846.6,583.3L846.6,591.9L841.5,602.2L847.1,605.0L857.1,596.2L869.4,599.9L877.0,601.2L887.2,597.4L897.2,592.3L904.0,586.8L904.1,585.5L906.1,585.0L910.8,581.0L911.7,579.2L917.6,574.3L917.6,573.6L917.6,572.8L917.6,568.0L915.4,562.2L910.4,552.0L914.2,539.1L914.6,539.1L907.2,531.7L898.0,528.2L905.3,524.6L897.2,519.1L889.5,517.8L879.5,519.1L869.6,516.6L858.2,512.8L850.6,516.7L841.9,524.1L832.2,521.6L822.3,514.2L817.0,507.6L810.5,514.3L807.8,522.0L810.4,529.5L806.7,539.3L798.6,547.3Z" fill="#ff8a0b" stroke="#ff8a0b" stroke-width="0.6"/>
<path d="M914.2,539.1L910.4,552.0L915.4,562.2L917.6,568.0L917.6,539.8L917.6,539.0L917.6,538.6Z" fill="#ff8a0b" stroke="#ff8a0b" stroke-width="0.6"/>
<path d="M909.2,584.2L909.6,584.1L917.6,592.0L917.6,574.3L911.7,579.2Z" fill="#ff8a0b" stroke="#ff8a0b" stroke-width="0.6"/>
<path d="M917.6,653.6L917.6,653.1L917.6,620.7L917.6,594.6L917.6,592.8L917.6,592.0L909.6,584.1L904.1,585.5L902.8,594.6L909.1,604.7L911.6,617.0L909.1,629.5L911.6,642.1L916.4,653.6Z" fill="#f4f3bd" stroke="#f4f3bd" stroke-width="0.6"/>
<path d="M716.7,584.7L721.7,594.7L726.8,602.4L736.8,604.9L749.3,612.3L761.7,622.3L766.1,628.8L766.8,629.0L774.1,616.9L774.4,615.1L772.4,606.9L768.5,596.8L759.8,586.7L752.5,578.2L759.9,567.2L765.2,552.4L756.8,556.7L746.8,564.2L737.0,569.1L724.6,564.1L712.0,560.4L698.8,564.3L706.7,574.8Z" fill="#f4f3bd" stroke="#f4f3bd" stroke-width="0.6"/>
<path d="M682.8,617.2L691.8,624.8L701.7,629.8L704.2,638.6L712.2,639.9L718.7,629.5L714.8,621.7L704.7,617.9L694.7,609.2L684.2,603.9Z" fill="#f4f3bd" stroke="#f4f3bd" stroke-width="0.6"/>
<path d="M747.4,653.6L797.3,653.6L793.6,644.4L794.9,634.5L792.4,621.8L782.2,611.7L775.5,608.9L774.1,616.9L766.8,629.0L762.0,627.8L746.7,629.1L742.8,642.0L746.5,653.6Z" fill="#f0f0f0" stroke="#f0f0f0" stroke-width="0.6"/>
<path d="M872.3,646.7L864.6,641.6L842.0,641.6L827.2,644.1L821.9,637.4L814.2,653.6L877.2,653.6Z" fill="#f0f0f0" stroke="#f0f0f0" stroke-width="0.6"/>
<path d="M1072.0,607.6L1077.6,604.8L1077.6,604.0L1078.0,604.5L1070.5,594.5L1074.2,589.5L1074.2,577.0L1074.6,576.8L1074.6,576.6L1057.9,578.6L1050.2,574.8L1047.7,567.4L1030.3,566.2L1026.7,560.1L1018.2,567.3L1003.1,576.2L986.8,571.2L983.4,572.3L984.6,581.9L988.3,594.2L996.2,599.5L988.3,606.1L983.3,614.7L977.8,620.3L985.2,614.7L992.8,607.1L1028.3,607.1L1032.0,618.1L1033.3,616.7L1035.2,611.7L1039.8,610.1L1040.3,609.7L1042.7,608.8L1045.5,607.4L1046.3,607.6L1048.1,607.0L1049.1,608.0L1054.4,609.1L1060.5,614.0L1067.9,606.6ZM1025.7,647.0L1026.7,649.1L1028.4,649.1L1028.4,649.6L1029.1,648.2L1028.9,645.6L1025.3,647.1Z" fill="#f5cb9d" stroke="#f5cb9d" stroke-width="0.6"/>
<path d="M1003.1,576.2L1018.2,567.3L1026.7,560.1L1030.3,566.2L1047.7,567.4L1050.2,574.8L1057.9,578.6L1068.1,577.4L1075.6,576.4L1076.8,575.8L1075.5,564.5L1079.2,554.5L1085.5,543.2L1078.0,535.8L1070.5,530.8L1060.5,534.5L1054.2,530.8L1043.0,534.5L1035.5,532.0L1028.0,528.2L1014.2,529.5L1004.2,528.2L998.0,523.2L993.0,529.5L980.5,533.2L980.9,533.1L982.2,538.0L985.8,544.3L993.4,551.9L990.9,562.1L987.1,571.1L986.8,571.2Z" fill="#ff8a0b" stroke="#ff8a0b" stroke-width="0.6"/>
<path d="M988.3,594.2L984.6,581.9L983.4,572.3L987.1,571.1L990.9,562.1L993.4,551.9L985.8,544.3L982.2,538.0L980.9,533.1L980.5,533.2L973.1,532.2L971.0,532.8L968.3,535.5L968.4,535.5L968.4,552.5L955.4,549.9L942.9,546.2L930.4,542.4L917.6,539.8L917.6,572.8L930.4,571.6L938.4,569.0L939.6,581.9L945.8,591.7L955.7,596.6L968.2,602.8L978.1,606.6L988.7,605.3L988.3,606.1L996.2,599.5Z" fill="#ff8a0b" stroke="#ff8a0b" stroke-width="0.6"/>
<path d="M983.3,614.7L988.7,605.3L978.1,606.6L968.2,602.8L955.7,596.6L945.8,591.7L939.6,581.9L938.4,569.0L930.4,571.6L917.6,572.8L917.6,592.8L923.3,604.2L933.5,611.9L928.6,619.3L938.2,622.8L951.2,629.4L950.9,629.7L960.5,632.1L971.5,630.8L975.2,622.2L977.8,620.3Z" fill="#ff8a0b" stroke="#ff8a0b" stroke-width="0.6"/>
<path d="M937.8,496.6L925.3,501.7L918.7,508.2L917.9,511.5L917.6,511.5L917.6,539.8L930.4,542.4L942.9,546.2L955.4,549.9L968.4,552.5L968.4,535.5L968.3,535.5L968.0,535.8L962.3,534.5L962.0,534.5L950.8,532.0L949.5,524.5L952.6,516.2L953.0,514.5L954.2,502.0L960.5,494.5L963.0,482.0L963.1,482.4L963.2,482.0L963.5,481.5L963.8,480.2L963.7,480.1L960.2,485.5L950.3,490.4Z" fill="#adadad" stroke="#adadad" stroke-width="0.6"/>
<path d="M917.6,511.5L917.9,511.5L920.9,499.6L927.2,487.1L928.4,475.4L917.6,475.4Z" fill="#adadad" stroke="#adadad" stroke-width="0.6"/>
<path d="M1060.5,614.0L1054.4,609.1L1049.1,608.0L1055.8,614.7L1060.4,618.3L1060.6,618.1L1060.1,614.4ZM1033.3,616.7L1039.8,610.1L1035.2,611.7Z" fill="#adadad" stroke="#adadad" stroke-width="0.6"/>
<path d="M1060.6,618.1L1067.7,609.7L1072.0,607.6L1067.9,606.6L1060.1,614.4ZM1158.0,642.0L1164.2,633.2L1163.4,633.0L1158.3,640.2L1153.0,647.3ZM1130.5,589.5L1133.0,574.5L1125.5,569.5L1115.5,565.8L1108.0,567.0L1100.5,579.5L1089.2,585.8L1088.0,599.5L1078.0,609.5L1087.9,599.6L1134.5,599.6L1135.5,602.0Z" fill="#f0f0f0" stroke="#f0f0f0" stroke-width="0.6"/>
<path d="M928.6,619.3L933.5,611.9L923.3,604.2L917.6,592.8L917.6,620.7L928.4,622.1L929.6,632.2L939.2,637.0L950.4,629.6L950.9,629.7L951.2,629.4L938.2,622.8Z" fill="#f4f3bd" stroke="#f4f3bd" stroke-width="0.6"/>
<path d="M1026.7,649.1L1028.4,652.4L1028.4,649.1Z" fill="#a6c8a6" stroke="#a6c8a6" stroke-width="0.6"/>
<path d="M128.2,691.6L125.3,688.7L120.3,681.3L116.6,673.8L112.9,663.9L110.3,653.6L87.7,653.6L87.5,654.0L80.0,661.5L75.0,671.5L73.8,681.5L77.5,691.5L85.0,700.2L95.0,705.2L101.2,710.2L105.0,716.5L107.5,710.2L110.0,702.8L117.5,696.5L127.5,691.5L128.0,691.7Z" fill="#f0f0f0" stroke="#f0f0f0" stroke-width="0.6"/>
<path d="M185.0,706.5L190.0,707.8L196.2,714.0L196.4,714.8L198.6,716.9L201.6,717.4L206.1,717.4L214.8,712.4L225.0,708.6L232.4,709.8L238.5,706.2L243.4,697.7L243.4,693.1L242.9,690.0L235.1,684.8L227.3,686.1L219.8,693.7L212.6,697.3L207.6,691.0L199.8,694.8L190.0,699.8L179.2,697.2L179.3,697.5L180.0,697.8Z" fill="#f5cb9d" stroke="#f5cb9d" stroke-width="0.6"/>
<path d="M203.8,731.5L204.2,734.1L204.7,735.6L215.0,734.4L224.9,736.9L235.0,738.2L245.6,735.5L243.4,730.5L240.8,726.6L240.8,714.1L238.4,706.5L238.5,706.2L232.4,709.8L225.0,708.6L214.8,712.4L206.1,717.4L201.9,717.4L198.6,716.8L196.3,714.6L198.8,722.8Z" fill="#ffffff" stroke="#ffffff" stroke-width="0.6"/>
<path d="M255.0,739.6L258.7,739.6L260.2,735.7L259.6,734.0L262.1,728.8L265.8,718.9L264.6,707.9L259.6,700.3L259.6,697.4L257.9,691.3L250.0,684.7L244.0,690.7L242.8,689.9L243.4,693.3L243.4,697.7L238.4,706.5L240.8,714.1L240.8,726.6L243.2,730.3L244.8,733.9L252.3,736.8Z" fill="#f0f0f0" stroke="#f0f0f0" stroke-width="0.6"/>
<path d="M279.6,685.6L277.6,684.8L269.0,683.8L266.8,684.1L258.8,692.1L257.8,691.2L259.6,697.5L259.6,700.3L264.6,707.9L264.5,707.1L272.8,711.2L275.4,714.3L278.7,716.9L279.1,716.9L279.6,715.1Z" fill="#f0f0f0" stroke="#f0f0f0" stroke-width="0.6"/>
<path d="M282.2,747.1L279.5,739.6L279.6,739.6L279.6,723.1L278.4,719.0L279.1,716.8L278.7,716.9L275.2,714.1L272.8,711.2L264.5,707.1L265.8,718.9L262.1,728.8L259.6,734.0L260.2,735.7L258.6,739.6L259.7,739.6L261.8,742.8L264.0,743.7L268.7,749.3L273.4,752.3L283.6,757.4L282.0,753.8L283.0,747.6Z" fill="#f0f0f0" stroke="#f0f0f0" stroke-width="0.6"/>
<path d="M261.8,742.8L264.4,746.6L268.7,749.3L264.0,743.7ZM245.9,761.1L245.6,763.4L249.1,764.8L249.2,764.6L249.8,765.0L249.6,765.2L252.5,769.0L253.4,766.4L250.1,763.2Z" fill="#f0f0f0" stroke="#f0f0f0" stroke-width="0.6"/>
<path d="M215.0,757.4L207.8,757.4L211.4,757.9L222.9,756.8L228.7,757.9L225.1,756.1Z" fill="#f0f0f0" stroke="#f0f0f0" stroke-width="0.6"/>
<path d="M344.0,800.4L343.7,800.4L342.8,800.4L340.4,800.4L340.4,803.5L340.4,804.4L340.4,806.2L344.2,801.6ZM320.0,840.2L328.8,842.8L328.8,842.8L328.7,842.8L324.6,841.6L319.9,838.8L315.7,836.7L315.6,836.6L315.3,836.3L315.1,836.1L313.0,834.4ZM342.8,792.6L342.4,792.9L342.8,795.1Z" fill="#f0f0f0" stroke="#f0f0f0" stroke-width="0.6"/>
<path d="M266.7,812.6L267.8,812.9L268.4,814.2L269.2,815.1L269.0,816.5L270.1,819.6L273.0,818.6L277.5,812.4L275.8,810.6L270.9,806.8L267.6,803.6L262.4,805.2L263.3,808.8L262.0,809.6L264.0,809.9ZM293.7,818.2L292.6,818.4L294.8,818.9ZM268.0,823.5L269.4,822.1L269.4,821.4ZM267.8,823.7L267.9,823.6L267.9,823.6ZM295.1,819.2L302.5,829.0L306.4,830.9L302.6,827.2L296.9,820.4Z" fill="#ffffff" stroke="#ffffff" stroke-width="0.6"/>
<path d="M267.5,824.0L267.6,823.9L267.4,824.0ZM268.0,823.5L268.0,823.5L267.9,823.6ZM269.2,815.1L268.2,814.0L269.0,816.5ZM264.0,809.8L262.2,809.6L260.4,810.8L266.7,812.6Z" fill="#adadad" stroke="#adadad" stroke-width="0.6"/>
<path d="M266.7,802.0L264.2,798.1L264.0,798.8ZM275.8,810.6L274.0,808.9L270.0,805.7L270.9,806.8ZM256.6,784.0L256.3,783.9L255.1,783.9L256.0,784.2Z" fill="#f5cb9d" stroke="#f5cb9d" stroke-width="0.6"/>
<path d="M346.5,731.9L346.1,732.2L345.8,733.4ZM279.6,720.5L279.6,719.4L279.6,715.1L278.4,719.0L279.6,723.1Z" fill="#f5cb9d" stroke="#f5cb9d" stroke-width="0.6"/>
<path d="M265.7,685.3L266.9,684.1L268.8,683.8L277.6,684.9L279.7,685.6L279.6,676.9L284.4,678.1L282.0,669.6L299.6,669.6L299.6,653.6L262.2,653.6L258.4,666.5L259.6,679.2ZM331.6,700.4L331.7,700.8L333.2,702.5L332.0,700.4Z" fill="#f5cb9d" stroke="#f5cb9d" stroke-width="0.6"/>
<path d="M354.8,778.3L352.8,782.9L353.2,783.6L354.1,783.6Z" fill="#f5cb9d" stroke="#f5cb9d" stroke-width="0.6"/>
<path d="M357.1,837.8L357.5,837.8L365.6,835.3L365.6,813.7L359.7,816.2L355.8,826.4Z" fill="#f0f0f0" stroke="#f0f0f0" stroke-width="0.6"/>
<path d="M370.6,800.4L365.6,800.4L365.6,835.3L366.0,835.2L376.0,834.0L386.0,836.5L392.2,835.2L391.8,835.3L393.2,828.6L403.4,827.4L413.3,821.2L418.6,817.2L420.3,820.1L418.1,814.1L416.8,802.9L415.0,797.2L413.6,800.4L411.9,800.4L411.1,800.4L387.1,800.4L386.3,800.4L382.1,800.4L378.5,801.9L370.8,800.6ZM625.6,811.5L626.8,797.3L636.1,799.8L646.2,803.7L651.5,810.2L647.2,817.8L651.0,816.5L661.0,814.0L671.7,806.7L671.6,806.6L671.6,774.5L661.1,776.9L648.7,781.9L638.7,786.9L631.2,790.5L626.0,794.5L615.9,789.4L606.0,788.2L595.9,786.9L585.8,784.4L578.2,779.3L575.5,773.9L598.4,758.6L607.0,757.4L613.2,751.2L620.7,741.3L623.0,736.6L615.6,729.2L611.8,716.6L609.3,707.6L615.8,703.7L623.2,698.7L626.7,691.6L618.2,684.3L611.5,674.9L618.6,673.6L628.7,681.1L641.1,686.1L653.6,684.8L666.2,691.1L671.6,693.4L671.6,669.8L663.7,675.5L653.4,682.0L649.3,676.6L653.1,666.5L650.5,653.6L480.4,653.6L480.4,700.4L457.0,700.4L456.3,701.7L451.3,708.1L442.2,713.7L452.5,714.8L455.1,721.2L466.3,726.2L470.3,734.0L463.8,744.2L458.8,754.3L451.2,759.4L443.9,761.8L442.6,771.5L446.3,781.1L455.0,782.4L461.3,788.7L466.2,796.1L472.7,797.5L470.2,809.2L461.3,816.8L456.7,821.3L466.2,824.8L473.7,828.7L480.2,833.8L480.6,841.5L480.6,833.5L480.5,833.5L480.6,832.8L480.6,832.6L480.6,832.5L481.8,823.9L488.1,813.8L490.6,804.0L489.4,791.5L491.8,776.5L493.1,761.0L501.3,763.7L506.3,771.2L516.1,776.1L531.0,773.6L543.5,774.8L551.3,772.3L552.6,781.4L557.6,790.2L552.6,801.7L546.4,811.7L544.0,818.7L553.4,819.8L557.3,817.3L563.7,823.6L573.8,826.2L577.6,833.8L585.2,853.9L587.6,879.4L587.4,879.4L591.0,886.5L598.5,891.5L603.5,901.5L607.2,900.2L612.2,891.5L618.5,886.5L626.0,881.5L633.5,874.0L633.5,864.0L631.0,856.5L626.0,849.0L626.0,839.0L629.8,829.0L629.6,829.6L626.8,824.1ZM384.4,669.1L384.4,669.0L384.0,669.6L384.8,669.6ZM431.2,710.6L439.6,713.2L437.0,710.6Z" fill="#f0f0f0" stroke="#f0f0f0" stroke-width="0.6"/>
<path d="M384.8,669.6L385.9,669.6L385.6,667.1L384.4,669.0L384.4,669.1Z" fill="#f5cb9d" stroke="#f5cb9d" stroke-width="0.6"/>
<path d="M463.8,744.2L470.3,734.0L466.3,726.2L455.1,721.2L452.5,714.8L442.2,713.7L440.9,714.5L439.6,713.2L431.2,710.6L430.4,710.6L430.4,713.1L430.4,713.9L430.4,760.1L444.0,761.1L443.9,761.8L451.2,759.4L458.8,754.3Z" fill="#f5cb9d" stroke="#f5cb9d" stroke-width="0.6"/>
<path d="M445.9,781.1L446.3,781.1L442.6,771.5L444.0,761.1L430.4,760.1L430.4,787.1L438.4,786.1Z" fill="#f5cb9d" stroke="#f5cb9d" stroke-width="0.6"/>
<path d="M372.5,800.4L371.5,800.4L370.6,800.4L370.8,800.6L378.5,801.9L382.1,800.4Z" fill="#f5cb9d" stroke="#f5cb9d" stroke-width="0.6"/>
<path d="M437.0,710.6L440.9,714.5L451.3,708.1L456.3,701.7L457.0,700.4L456.3,700.4L430.4,700.4L430.4,700.4L430.4,701.3L430.4,710.6Z" fill="#adadad" stroke="#adadad" stroke-width="0.6"/>
<path d="M470.2,809.2L472.7,797.5L466.2,796.1L461.3,788.7L455.0,782.4L445.9,781.1L438.4,786.1L430.4,787.1L430.4,788.1L422.7,791.3L416.7,793.6L415.0,797.2L416.8,802.9L416.7,802.3L425.0,803.6L430.1,807.5L433.8,813.7L440.0,818.6L448.6,819.8L456.1,821.1L456.7,821.3L461.3,816.8Z" fill="#f4f3bd" stroke="#f4f3bd" stroke-width="0.6"/>
<path d="M422.6,823.9L423.9,834.0L422.6,844.3L431.0,851.5L441.0,852.8L451.0,851.5L463.5,855.2L473.5,854.0L480.6,856.4L480.6,841.5L480.2,833.8L473.7,828.7L466.2,824.8L456.1,821.1L448.6,819.8L440.0,818.6L433.8,813.7L430.1,807.5L425.0,803.6L416.7,802.3L418.1,814.1L420.3,820.1Z" fill="#ff8a0b" stroke="#ff8a0b" stroke-width="0.6"/>
<path d="M391.8,835.3L392.2,835.2L398.5,841.5L407.2,846.5L416.0,845.2L422.2,844.0L422.6,844.3L423.9,834.0L422.6,823.9L418.6,817.2L413.3,821.2L403.4,827.4L393.2,828.6Z" fill="#f4f3bd" stroke="#f4f3bd" stroke-width="0.6"/>
<path d="M489.4,791.5L490.6,804.0L488.1,813.8L481.8,823.9L480.6,832.5L488.5,828.6L496.2,831.1L505.0,836.1L513.7,838.6L521.1,843.6L528.4,843.6L538.2,837.5L553.2,819.9L553.4,819.8L544.0,818.7L546.4,811.7L552.6,801.7L557.6,790.2L552.6,781.4L551.3,772.3L543.5,774.8L531.0,773.6L516.1,776.1L506.3,771.2L501.3,763.7L493.1,761.0L491.8,776.5ZM480.5,833.5L480.6,833.5L480.6,832.8Z" fill="#f4f3bd" stroke="#f4f3bd" stroke-width="0.6"/>
<path d="M480.6,856.4L481.0,856.5L488.5,859.0L493.5,866.5L503.5,871.5L513.5,874.0L523.5,876.5L531.0,880.2L541.0,876.5L551.0,875.2L563.5,876.5L573.5,880.2L587.2,879.0L587.4,879.4L587.6,879.4L585.2,853.9L577.6,833.8L573.8,826.2L563.7,823.6L557.3,817.3L553.2,819.9L538.2,837.5L528.4,843.6L521.1,843.6L513.7,838.6L505.0,836.1L496.2,831.1L488.5,828.6L480.6,832.6Z" fill="#f5cb9d" stroke="#f5cb9d" stroke-width="0.6"/>
<path d="M615.8,703.7L609.3,707.6L611.8,716.6L615.6,729.2L623.0,736.6L620.7,741.3L613.2,751.2L607.0,757.4L598.4,758.6L575.5,773.9L578.2,779.3L585.8,784.4L595.9,786.9L606.0,788.2L615.9,789.4L626.0,794.5L631.2,790.5L638.7,786.9L648.7,781.9L661.1,776.9L671.6,774.5L671.6,764.3L671.6,757.3L671.6,734.7L671.6,701.3L671.6,693.4L666.2,691.1L653.6,684.8L641.1,686.1L628.7,681.1L618.6,673.6L611.5,674.9L618.2,684.3L626.7,691.6L623.2,698.7Z" fill="#f4f3bd" stroke="#f4f3bd" stroke-width="0.6"/>
<path d="M625.6,811.5L626.8,824.1L629.6,829.6L629.8,829.0L636.0,821.5L647.2,817.8L651.5,810.2L646.2,803.7L636.1,799.8L626.8,797.3Z" fill="#f4f3bd" stroke="#f4f3bd" stroke-width="0.6"/>
<path d="M653.4,682.0L663.7,675.5L671.6,669.8L671.6,669.5L671.6,653.6L650.5,653.6L653.1,666.5L649.3,676.6Z" fill="#f5cb9d" stroke="#f5cb9d" stroke-width="0.6"/>
<path d="M785.8,787.8L794.5,780.2L802.0,781.5L800.1,781.2L795.3,779.2L799.1,768.9L800.4,756.6L796.6,746.5L800.3,740.3L800.3,740.2L800.5,740.0L800.7,739.6L800.8,739.6L804.2,735.0L814.1,721.3L816.6,712.6L824.3,706.2L831.8,701.1L841.6,698.7L842.8,688.8L849.1,681.3L853.1,670.7L859.6,678.6L869.3,676.1L876.7,671.2L880.4,661.5L879.0,653.6L747.4,653.6L747.4,663.9L752.3,671.2L767.3,676.2L772.3,686.2L777.7,688.9L763.3,703.2L754.4,701.9L746.9,696.9L735.3,695.5L737.8,678.9L739.1,666.5L739.1,655.7L736.1,661.9L722.0,663.2L709.5,659.4L697.1,661.9L684.6,665.6L671.6,669.5L671.6,701.3L677.4,711.3L681.2,721.5L676.1,731.8L671.6,734.7L671.6,757.3L679.7,759.8L684.0,764.3L677.0,765.6L671.6,764.3L671.6,806.6L671.7,806.7L672.0,806.5L675.3,812.9L674.1,803.9L681.7,796.2L689.4,784.7L699.5,789.7L704.6,785.9L719.8,806.2L724.5,801.5L732.0,789.0L734.5,779.0L739.5,775.2L744.5,779.0L752.0,777.8L759.5,779.0L769.5,784.0L777.0,789.0L783.2,796.5ZM882.0,799.0L889.5,804.0L897.0,809.0L904.5,812.8L914.5,814.0L919.2,807.0L917.6,809.3L917.6,795.5L915.4,784.0L917.6,773.7L917.6,773.3L917.6,772.4L912.9,761.8L906.8,756.8L899.4,753.2L892.1,754.4L884.7,759.4L872.1,763.2L864.6,764.4L857.2,769.3L848.2,774.5L844.2,771.8L842.7,768.7L843.7,776.9L843.3,776.9L843.2,776.5L844.5,781.5L849.5,775.2L857.0,777.8L864.5,786.5L874.5,794.0ZM978.0,772.8L972.2,775.1L967.7,776.4L966.5,777.6L966.1,778.2L965.6,778.4L965.6,778.4L964.5,779.0L972.0,775.2Z" fill="#f0f0f0" stroke="#f0f0f0" stroke-width="0.6"/>
<path d="M684.6,665.6L697.1,661.9L709.5,659.4L722.0,663.2L736.1,661.9L739.1,655.7L739.1,653.6L671.6,653.6L671.6,669.5Z" fill="#f5cb9d" stroke="#f5cb9d" stroke-width="0.6"/>
<path d="M739.1,666.5L737.8,678.9L735.3,695.5L746.9,696.9L754.4,701.9L763.3,703.2L777.7,688.9L772.3,686.2L767.3,676.2L752.3,671.2L747.4,663.9L747.4,653.6L739.1,653.6Z" fill="#f4f3bd" stroke="#f4f3bd" stroke-width="0.6"/>
<path d="M671.6,734.7L676.1,731.8L681.2,721.5L677.4,711.3L671.6,701.3Z" fill="#f4f3bd" stroke="#f4f3bd" stroke-width="0.6"/>
<path d="M671.6,764.3L677.0,765.6L684.0,764.3L679.7,759.8L671.6,757.3Z" fill="#f4f3bd" stroke="#f4f3bd" stroke-width="0.6"/>
<path d="M681.7,796.2L674.1,803.9L675.3,812.9L675.8,814.0L682.0,817.8L687.0,824.0L692.0,820.2L699.5,814.0L707.0,816.5L714.5,812.8L719.5,806.5L719.8,806.2L704.6,785.9L699.5,789.7L689.4,784.7Z" fill="#f4f3bd" stroke="#f4f3bd" stroke-width="0.6"/>
<path d="M800.4,756.6L799.1,768.9L795.3,779.2L800.1,781.2L802.0,781.5L808.2,785.2L817.0,777.8L827.0,779.0L834.5,776.5L843.2,776.5L843.3,776.9L843.7,776.9L842.7,768.7L841.7,766.7L834.3,759.3L824.4,754.4L814.3,751.9L806.7,746.8L800.3,740.3L796.6,746.5ZM800.7,739.6L800.5,740.0L800.8,739.6Z" fill="#f4f3bd" stroke="#f4f3bd" stroke-width="0.6"/>
<path d="M899.4,753.2L906.8,756.8L912.9,761.8L917.6,772.4L917.6,736.7L909.4,735.6L901.6,733.1L904.1,716.5L904.1,701.1L913.6,701.1L914.9,711.1L917.6,711.5L917.6,707.8L917.6,706.9L917.6,654.0L917.6,653.6L879.0,653.6L880.4,661.5L876.7,671.2L869.3,676.1L859.6,678.6L853.1,670.7L849.1,681.3L842.8,688.8L841.6,698.7L831.8,701.1L824.3,706.2L816.6,712.6L814.1,721.3L804.2,735.0L800.3,740.2L806.7,746.8L814.3,751.9L824.4,754.4L834.3,759.3L841.7,766.7L844.2,771.8L848.2,774.5L857.2,769.3L864.6,764.4L872.1,763.2L884.7,759.4L892.1,754.4Z" fill="#f5cb9d" stroke="#f5cb9d" stroke-width="0.6"/>
<path d="M917.6,736.7L917.6,736.6L917.6,735.8L917.6,711.5L914.9,711.1L913.6,701.1L904.1,701.1L904.1,716.5L901.6,733.1L909.4,735.6Z" fill="#f4f3bd" stroke="#f4f3bd" stroke-width="0.6"/>
<path d="M919.5,806.5L919.2,807.0L919.2,807.0ZM944.8,794.3L944.8,794.3L942.0,797.8ZM917.6,773.7L915.4,784.0L917.6,795.5L917.6,774.1ZM947.3,791.3L947.0,791.5L947.3,791.3Z" fill="#f4f3bd" stroke="#f4f3bd" stroke-width="0.6"/>
<path d="M930.1,752.4L935.2,744.7L941.4,739.8L942.6,729.9L945.1,723.8L943.8,715.1L942.6,704.7L955.6,702.1L962.2,707.3L963.4,719.9L965.7,724.6L966.0,724.6L965.9,724.9L966.1,725.4L965.9,725.4L964.6,734.9L967.2,738.2L975.2,732.2L977.7,725.8L989.5,724.6L993.3,734.7L1008.0,742.1L1017.9,738.4L1027.3,736.0L1017.7,724.1L1012.9,720.4L1007.5,721.7L1010.1,709.9L1012.6,700.1L1007.6,692.6L1010.9,683.7L1005.7,687.9L995.5,690.4L986.6,686.5L980.2,680.2L977.5,672.2L986.7,670.8L994.9,669.7L992.7,664.1L984.9,660.1L992.7,649.7L1002.9,645.8L1013.1,645.8L1020.5,648.4L1025.3,647.1L1028.9,645.6L1028.8,645.0L1030.1,632.5L1031.4,618.6L1032.0,618.1L1028.3,607.1L992.8,607.1L985.2,614.7L975.2,622.2L971.5,630.8L960.5,632.1L950.4,629.6L939.2,637.0L939.7,637.3L937.2,647.4L946.0,657.5L938.1,665.5L927.8,660.3L917.6,654.0L917.6,706.9L925.8,709.7L930.8,719.8L937.2,729.8L939.8,735.3L928.0,736.6L917.6,736.6L917.6,773.3L930.5,775.8L941.4,774.6L942.6,764.1L932.7,760.3Z" fill="#f5cb9d" stroke="#f5cb9d" stroke-width="0.6"/>
<path d="M972.2,775.1L978.0,772.8L985.5,772.5L993.0,775.0L1000.5,771.2L1009.2,772.5L1013.0,769.5L1012.7,769.8L1010.1,764.0L1005.1,755.1L1007.7,742.2L1008.0,742.1L993.3,734.7L989.5,724.6L977.7,725.8L975.2,732.2L967.2,738.2L968.5,740.0L962.2,747.7L960.9,755.2L953.8,762.3L964.5,764.7L967.2,776.3L967.1,776.5Z" fill="#f0f0f0" stroke="#f0f0f0" stroke-width="0.6"/>
<path d="M1017.9,738.4L1007.7,742.2L1005.1,755.1L1010.1,764.0L1012.7,769.8L1013.0,769.5L1058.0,770.0L1063.0,765.0L1070.5,767.5L1074.2,755.0L1076.8,743.8L1080.5,745.0L1079.9,744.8L1075.2,737.7L1067.7,727.7L1062.1,720.7L1067.5,721.5L1065.9,719.8L1063.4,709.8L1055.7,702.2L1053.9,701.6L1048.0,700.4L1038.1,702.9L1028.3,707.8L1023.3,715.3L1013.1,720.4L1012.9,720.4L1017.7,724.1L1027.3,736.0Z" fill="#f0f0f0" stroke="#f0f0f0" stroke-width="0.6"/>
<path d="M1007.6,692.6L1012.6,700.1L1010.1,709.9L1007.5,721.7L1013.1,720.4L1023.3,715.3L1028.3,707.8L1038.1,702.9L1048.0,700.4L1054.1,701.6L1053.8,701.5L1055.1,692.4L1056.4,681.5L1045.3,677.9L1035.2,670.3L1030.1,657.6L1029.9,655.4L1025.7,647.0L1020.5,648.4L1021.0,648.5L1019.6,655.1L1015.8,662.7L1010.9,670.1L1012.2,682.7L1010.9,683.7Z" fill="#a6c8a6" stroke="#a6c8a6" stroke-width="0.6"/>
<path d="M1062.1,720.7L1067.7,727.7L1075.2,737.7L1079.9,744.8L1080.5,745.0L1085.5,732.5L1090.5,720.0L1098.0,710.0L1104.2,700.0L1110.2,692.8L1103.0,690.4L1093.2,692.9L1088.3,699.0L1085.9,704.0L1083.3,710.4L1073.5,709.3L1074.6,715.0L1072.0,723.1L1069.4,721.7Z" fill="#a6c8a6" stroke="#a6c8a6" stroke-width="0.6"/>
<path d="M1072.0,723.1L1074.6,715.0L1073.5,709.3L1083.3,710.4L1085.9,704.0L1088.3,699.0L1093.2,692.9L1103.0,690.4L1110.2,692.8L1110.5,692.5L1115.5,696.2L1120.5,690.0L1118.0,680.0L1118.1,680.4L1117.9,680.4L1110.2,674.1L1095.4,659.3L1090.5,661.6L1083.1,659.2L1073.3,667.8L1065.8,675.3L1056.9,681.6L1056.4,681.5L1055.1,692.4L1053.7,701.5L1055.7,702.2L1063.3,709.8L1065.8,719.8L1067.5,721.5L1069.5,721.8Z" fill="#adadad" stroke="#adadad" stroke-width="0.6"/>
<path d="M1028.4,649.6L1028.4,652.4L1029.9,655.5L1030.1,657.6L1035.2,670.3L1045.3,677.9L1056.9,681.6L1065.8,675.3L1073.3,667.8L1072.7,668.3L1070.1,652.5L1072.5,644.1L1065.2,642.8L1062.6,632.6L1060.1,618.7L1060.4,618.3L1055.8,614.7L1048.1,607.0L1046.4,607.6L1045.5,607.4L1042.5,608.9L1040.3,609.7L1031.4,618.6L1028.8,645.0L1029.1,648.1Z" fill="#adadad" stroke="#adadad" stroke-width="0.6"/>
<path d="M1062.6,632.6L1065.2,642.8L1072.5,644.1L1070.1,652.5L1072.7,668.3L1083.1,659.2L1090.5,661.6L1095.4,659.3L1102.7,666.5L1110.2,674.1L1117.9,680.4L1118.1,680.4L1118.0,680.0L1125.5,677.5L1135.5,670.0L1143.0,660.0L1150.5,650.0L1153.0,647.3L1158.3,640.2L1163.4,633.0L1158.0,632.0L1148.0,632.0L1140.5,624.5L1139.2,614.5L1135.5,602.0L1134.5,599.6L1087.9,599.6L1078.0,609.5L1078.0,604.5L1077.6,604.0L1077.6,604.8L1067.7,609.7L1060.1,618.7Z" fill="#f0f0f0" stroke="#f0f0f0" stroke-width="0.6"/>
<path d="M992.7,664.1L994.9,669.7L986.7,670.8L977.5,672.2L980.2,680.2L986.6,686.5L995.5,690.4L1005.7,687.9L1012.2,682.7L1010.9,670.1L1015.8,662.7L1019.6,655.1L1021.0,648.5L1013.1,645.8L1002.9,645.8L992.7,649.7L984.9,660.1Z" fill="#f0f0f0" stroke="#f0f0f0" stroke-width="0.6"/>
<path d="M945.1,723.8L945.2,723.4L955.5,724.6L965.7,724.6L963.4,719.9L962.2,707.3L955.6,702.1L942.6,704.7L943.8,715.1ZM966.1,725.4L965.9,724.9L965.9,725.4Z" fill="#f0f0f0" stroke="#f0f0f0" stroke-width="0.6"/>
<path d="M941.4,739.8L935.2,744.7L930.1,752.4L932.7,760.3L942.6,764.1L942.6,763.4L953.0,762.1L953.8,762.3L960.9,755.2L962.2,747.7L968.5,740.0L964.6,734.9L966.0,724.6L955.5,724.6L945.2,723.4L942.6,729.9Z" fill="#f0f0f0" stroke="#f0f0f0" stroke-width="0.6"/>
<path d="M944.8,794.3L947.0,791.5L954.5,786.5L964.5,779.0L966.1,778.2L967.2,776.3L964.5,764.7L953.0,762.1L942.6,763.4L941.4,774.6L942.1,774.6L944.6,784.9L945.5,793.4L944.8,794.3Z" fill="#f0f0f0" stroke="#f0f0f0" stroke-width="0.6"/>
<path d="M917.6,809.3L919.5,806.5L924.5,804.0L932.0,800.2L942.0,797.8L945.5,793.4L944.6,784.9L942.1,774.6L930.5,775.8L917.6,773.3Z" fill="#f4f3bd" stroke="#f4f3bd" stroke-width="0.6"/>
<path d="M917.6,736.6L928.0,736.6L939.8,735.3L937.2,729.8L930.8,719.8L925.8,709.7L917.6,706.9Z" fill="#f4f3bd" stroke="#f4f3bd" stroke-width="0.6"/>
<path d="M917.6,654.0L927.8,660.3L938.1,665.5L946.0,657.5L937.2,647.4L939.7,637.3L929.6,632.2L928.4,622.1L917.6,620.7Z" fill="#f4f3bd" stroke="#f4f3bd" stroke-width="0.6"/>
<path d="M343.6,626.9L327.0,624.4L326.1,616.1L327.0,605.4L317.0,606.3L310.0,612.4L299.6,622.8L299.6,646.4L310.4,650.0L322.3,655.2L331.4,650.1L336.5,639.9L340.0,631.3L341.8,629.8Z" fill="#f5cb9d" stroke="#f5cb9d" stroke-width="0.6"/>
<path d="M307.9,693.7L307.9,693.7L307.8,693.7ZM310.4,650.0L299.6,646.4L299.6,669.6L319.5,669.6L321.9,655.3L322.3,655.2Z" fill="#f5cb9d" stroke="#f5cb9d" stroke-width="0.6"/>
<path d="M357.4,643.7L355.7,642.3L354.7,642.5L354.7,642.3L346.4,645.7L339.7,648.1L334.3,653.6L331.2,650.5L331.4,650.1L321.9,655.3L319.5,669.6L368.3,669.6L363.8,667.8L367.4,657.3L364.9,652.3L360.6,647.3ZM310.0,693.3L310.0,692.6L307.9,693.7L307.9,693.7ZM331.6,700.4L332.0,700.4L331.6,699.8L331.8,699.4L330.7,698.3Z" fill="#f5cb9d" stroke="#f5cb9d" stroke-width="0.6"/>
<path d="M435.2,689.7L440.5,680.0L454.5,679.2L461.7,684.5L460.0,693.4L456.3,700.4L480.4,700.4L480.4,583.8L471.8,587.3L463.1,590.8L454.5,592.5L446.1,597.5L440.2,602.6L438.5,612.7L437.7,623.1L436.0,629.8L438.5,636.6L437.7,647.2L430.7,655.9L423.8,661.0L416.9,667.9L412.5,669.6L430.4,669.6L430.4,699.1Z" fill="#f0f0f0" stroke="#f0f0f0" stroke-width="0.6"/>
<path d="M343.4,571.5L345.1,592.2L348.5,600.7L349.4,609.2L349.4,622.8L345.0,627.1L343.5,626.9L342.6,628.4L342.4,629.3L340.0,631.3L336.5,639.9L331.2,650.5L334.3,653.6L339.7,648.1L354.7,642.3L354.6,641.9L363.4,639.7L373.7,636.3L394.9,626.9L395.9,622.1L387.9,612.5L386.2,600.4L378.4,595.2L375.9,586.8L375.9,576.7L381.0,570.0L382.9,564.5L375.7,559.2L366.4,554.0L364.0,546.7L363.7,547.0L356.3,548.8L356.2,548.2L351.2,552.3L345.1,561.0Z" fill="#f5cb9d" stroke="#f5cb9d" stroke-width="0.6"/>
<path d="M363.4,639.7L354.6,641.9L354.7,642.5L356.1,642.3L355.8,641.9L368.6,639.7L382.4,639.7L392.8,640.1L397.4,643.8L393.8,650.6L389.6,657.5L386.2,666.1L385.6,667.1L385.9,669.6L412.5,669.6L416.9,667.9L423.8,661.0L430.7,655.9L437.7,647.2L438.5,636.6L436.0,629.8L437.7,623.1L438.5,612.7L440.2,602.6L439.7,603.0L436.8,597.2L437.1,596.8L427.0,595.1L416.9,595.1L411.7,585.7L406.0,586.6L406.8,593.7L402.6,602.2L398.3,612.6L395.7,622.9L394.9,626.9L385.6,631.1L373.7,636.3Z" fill="#f5cb9d" stroke="#f5cb9d" stroke-width="0.6"/>
<path d="M363.8,667.8L368.3,669.6L384.0,669.6L386.2,666.1L389.6,657.5L393.8,650.6L397.4,643.8L392.8,640.1L382.4,639.7L368.6,639.7L355.8,641.9L356.1,642.2L355.6,642.3L357.6,643.9L364.9,652.3L367.4,657.3Z" fill="#ffffff" stroke="#ffffff" stroke-width="0.6"/>
<path d="M438.6,554.4L442.0,564.7L442.9,576.6L442.0,588.5L436.8,597.2L439.7,603.0L446.1,597.5L454.5,592.5L463.1,590.8L471.8,587.3L480.4,583.8L480.4,552.3L468.3,550.5L459.8,545.3L451.1,541.9L442.4,540.2L435.1,542.0Z" fill="#f5cb9d" stroke="#f5cb9d" stroke-width="0.6"/>
<path d="M430.4,699.1L430.4,700.4L456.3,700.4L460.0,693.4L461.7,684.5L454.5,679.2L440.5,680.0L435.2,689.7Z" fill="#adadad" stroke="#adadad" stroke-width="0.6"/>
<path d="M351.1,530.4L354.5,540.7L356.3,548.8L363.7,547.0L368.8,541.0L378.8,542.7L389.3,544.4L394.8,539.0L393.1,530.3L396.7,519.6L351.1,519.6Z" fill="#f0f0f0" stroke="#f0f0f0" stroke-width="0.6"/>
<path d="M716.1,403.1L711.8,394.3L707.4,387.2L698.6,388.6L695.5,382.6L691.1,370.7L689.9,364.2L687.5,372.3L682.3,378.1L680.0,387.1L672.6,391.6L663.5,394.5L656.5,393.1L655.1,400.0L656.8,406.5L650.1,404.8L644.7,400.2L645.4,395.2L637.0,393.0L629.4,390.0L627.2,387.1L620.8,384.2L611.6,381.2L611.8,380.5L609.9,380.5L609.4,381.2L601.9,385.7L601.0,385.5L598.5,387.9L598.9,387.6L605.1,399.9L606.6,411.8L603.6,422.2L602.3,430.6L613.8,432.0L616.9,441.1L616.1,454.4L722.0,454.4L722.0,441.3L717.5,432.4L720.5,422.1L719.0,411.9Z" fill="#f5cb9d" stroke="#f5cb9d" stroke-width="0.6"/>
<path d="M591.8,364.7L598.6,358.4L599.5,358.4L602.2,353.0L603.3,353.4L606.8,358.4L607.8,358.4L612.5,366.0L614.7,373.6L613.2,375.7L611.6,381.2L620.8,384.2L627.2,387.1L627.0,386.8L632.4,380.5L641.8,381.2L642.4,382.8L641.1,376.4L645.4,367.8L636.9,364.4L631.4,360.5L633.0,354.3L636.7,342.5L637.4,332.5L633.9,328.3L623.5,326.9L623.2,325.3L621.3,323.4L621.3,324.1L610.5,319.5L598.7,316.6L589.6,315.0L589.6,342.1L592.6,344.4L595.5,349.9L592.7,352.9L589.6,354.1L589.6,358.9ZM632.2,339.3L633.0,344.2L627.1,351.8L619.5,356.3L609.0,355.5L601.9,351.6L605.9,345.4L608.8,340.0L619.4,338.6Z" fill="#f5cb9d" stroke="#f5cb9d" stroke-width="0.6"/>
<path d="M633.0,354.3L631.4,360.5L636.9,364.4L645.4,367.8L645.6,367.3L651.6,364.4L656.0,359.9L656.3,359.9L652.5,357.4L654.7,355.6L662.1,359.3L663.6,359.2L669.5,362.8L678.2,361.4L689.5,362.1L688.1,357.4L691.0,351.5L685.3,344.3L681.5,335.3L683.7,325.1L679.7,321.2L680.8,321.5L680.8,316.3L677.8,307.5L674.7,299.6L622.0,299.6L622.0,314.7L621.8,317.7L622.3,320.7L622.5,324.7L623.2,325.4L623.5,326.9L633.9,328.3L637.4,332.5L636.7,342.5Z" fill="#f5cb9d" stroke="#f5cb9d" stroke-width="0.6"/>
<path d="M646.2,394.4L656.7,392.1L656.5,393.1L663.5,394.5L672.6,391.6L680.0,387.1L682.3,378.1L687.5,372.3L689.9,364.2L689.6,362.6L689.5,362.1L678.2,361.4L669.5,362.8L663.6,359.2L656.0,359.9L651.6,364.4L645.6,367.3L641.1,376.4L642.4,382.8L644.1,386.7Z" fill="#f4f3bd" stroke="#f4f3bd" stroke-width="0.6"/>
<path d="M637.0,393.0L645.4,395.2L645.5,394.6L646.2,394.4L644.1,386.7L641.8,381.2L632.4,380.5L627.0,386.8L629.4,390.0Z" fill="#f4f3bd" stroke="#f4f3bd" stroke-width="0.6"/>
<path d="M644.7,400.2L650.1,404.8L656.8,406.5L655.1,400.0L656.7,392.1L645.5,394.6Z" fill="#f4f3bd" stroke="#f4f3bd" stroke-width="0.6"/>
<path d="M594.2,384.2L601.9,385.7L609.4,381.2L609.8,380.6L611.8,380.6L612.4,378.7L612.1,377.3L614.7,373.6L612.5,366.0L607.8,358.4L603.9,358.4L600.9,355.4L599.4,358.4L598.6,358.4L591.9,364.5L589.6,369.0L589.6,379.6Z" fill="#f4f3bd" stroke="#f4f3bd" stroke-width="0.6"/>
<path d="M589.6,454.4L616.1,454.4L616.9,441.1L613.8,432.0L602.3,430.6L603.6,422.2L606.6,411.8L605.1,399.9L598.9,387.6L589.6,395.4Z" fill="#f4f3bd" stroke="#f4f3bd" stroke-width="0.6"/>
<path d="M605.9,345.4L601.9,351.6L609.0,355.5L619.5,356.3L627.1,351.8L633.0,344.2L632.2,339.3L619.4,338.6L608.8,340.0Z" fill="#f0f0f0" stroke="#f0f0f0" stroke-width="0.6"/>
<path d="M589.6,315.0L598.7,316.6L610.5,319.5L621.3,324.1L622.0,314.7L622.0,299.6L589.6,299.6Z" fill="#f0f0f0" stroke="#f0f0f0" stroke-width="0.6"/>
<path d="M689.6,362.6L691.1,370.7L695.5,382.6L698.6,388.6L707.4,387.2L707.1,386.7L716.3,379.1L722.2,374.7L731.0,370.3L736.8,364.4L742.5,358.6L744.0,348.6L739.6,338.3L736.7,329.5L736.7,319.0L737.2,317.4L736.3,312.1L735.3,310.6L734.8,310.3L731.9,312.2L731.6,313.4L725.6,319.3L721.1,327.0L711.9,322.4L703.2,316.6L696.1,319.4L690.1,325.5L681.0,322.5L683.7,325.1L681.5,335.3L685.3,344.3L691.0,351.5L688.1,357.4ZM680.8,322.3L680.8,321.5L679.7,321.2Z" fill="#adadad" stroke="#adadad" stroke-width="0.6"/>
<path d="M680.8,316.3L680.8,322.4L690.1,325.5L696.1,319.4L703.2,316.6L702.7,316.3L707.2,308.7L706.4,304.0L705.0,299.6L674.7,299.6L677.8,307.5Z" fill="#f0f0f0" stroke="#f0f0f0" stroke-width="0.6"/>
<path d="M702.7,316.3L711.9,322.4L721.1,327.0L725.6,319.3L731.6,313.4L732.8,309.4L732.2,309.1L730.7,299.6L705.7,299.6L707.2,308.7Z" fill="#f4f3bd" stroke="#f4f3bd" stroke-width="0.6"/>
<path d="M738.2,314.3L770.4,312.8L770.4,299.6L730.7,299.6L732.2,309.1L733.4,309.6L734.1,310.8L734.9,310.4L735.3,310.6L736.2,312.0L736.8,315.2L737.1,315.6L737.8,314.9L737.3,313.6L738.1,314.8Z" fill="#adadad" stroke="#adadad" stroke-width="0.6"/>
<path d="M744.0,348.6L742.5,358.6L742.9,358.2L744.6,360.0L751.9,364.3L759.0,362.8L764.7,361.5L767.5,354.3L766.1,342.5L770.4,337.1L770.4,312.8L751.8,313.6L738.2,314.3L736.7,319.0L736.7,329.5L739.6,338.3Z" fill="#f5cb9d" stroke="#f5cb9d" stroke-width="0.6"/>
<path d="M719.0,411.9L718.8,410.7L721.0,412.7L729.5,408.4L739.8,404.0L748.6,398.2L757.3,393.8L760.3,386.6L766.1,379.2L767.5,370.6L764.8,362.4L764.2,362.7L764.6,361.8L764.5,361.6L764.7,361.5L764.7,361.5L759.0,362.8L751.9,364.3L744.6,360.0L742.9,358.2L736.8,364.4L731.0,370.3L722.2,374.7L716.3,379.1L707.1,386.7L711.8,394.3L716.1,403.1Z" fill="#f5cb9d" stroke="#f5cb9d" stroke-width="0.6"/>
<path d="M766.1,379.2L760.3,386.6L757.3,393.8L748.6,398.2L739.8,404.0L729.5,408.4L721.0,412.7L718.8,410.7L720.5,422.1L717.5,432.4L722.0,441.3L722.0,454.4L770.4,454.4L770.4,359.0L764.8,362.4L767.5,370.6ZM764.5,361.6L764.6,361.8L764.7,361.5Z" fill="#f0f0f0" stroke="#f0f0f0" stroke-width="0.6"/>
<path d="M766.1,342.5L767.5,354.3L764.2,362.7L770.4,359.0L770.4,337.1Z" fill="#f4f3bd" stroke="#f4f3bd" stroke-width="0.6"/>
<path d="M347.9,733.1L348.6,733.3L349.2,732.8ZM413.6,800.4L416.7,793.6L422.7,791.3L430.4,788.1L430.4,713.9L421.4,711.4L416.3,716.5L411.1,708.7L404.1,706.4L396.6,711.3L388.9,710.1L385.1,703.8L377.5,698.7L376.5,694.6L371.8,701.6L368.3,699.2L367.2,707.2L369.7,715.8L373.5,723.4L369.5,727.3L361.9,731.1L354.3,732.4L353.2,731.9L349.4,732.8L357.1,735.3L362.1,739.1L365.9,746.8L367.2,755.5L364.6,762.1L354.6,762.1L349.8,766.8L351.1,771.5L356.1,775.3L354.8,778.3L354.1,783.6L354.6,783.6L359.6,788.7L367.1,793.7L372.5,800.4L386.3,800.4L385.0,795.3L383.7,784.0L386.3,775.1L394.2,772.4L399.3,781.3L409.3,788.8L411.9,800.4Z" fill="#f5cb9d" stroke="#f5cb9d" stroke-width="0.6"/>
<path d="M298.4,697.0L304.7,694.4L307.8,693.7L310.0,692.6L310.0,684.6L318.6,681.9L322.4,689.6L329.9,696.5L330.7,698.3L331.8,699.4L334.2,694.5L341.9,688.1L349.5,691.9L357.1,693.2L362.0,699.4L368.5,698.0L368.3,699.2L371.8,701.6L376.5,694.6L376.3,693.6L377.5,679.9L378.8,669.6L282.0,669.6L284.4,678.1L285.3,678.4L289.0,687.1L295.2,691.5L297.1,697.9L297.0,698.2L297.2,698.2Z" fill="#f5cb9d" stroke="#f5cb9d" stroke-width="0.6"/>
<path d="M309.6,716.7L315.6,710.8L313.1,702.3L310.0,693.3L304.7,694.4L298.4,697.0L297.0,698.4L294.0,706.0L295.3,713.2L302.4,717.9Z" fill="#f4f3bd" stroke="#f4f3bd" stroke-width="0.6"/>
<path d="M313.1,702.3L315.6,710.8L315.9,710.4L323.3,713.0L329.2,708.2L331.2,700.2L331.7,700.8L329.9,696.5L322.4,689.6L318.6,681.9L310.0,684.6L310.0,693.7Z" fill="#f5cb9d" stroke="#f5cb9d" stroke-width="0.6"/>
<path d="M333.2,702.5L336.1,705.8L338.6,711.8L344.8,715.6L348.6,722.0L349.8,729.7L349.4,730.0L354.3,732.4L361.9,731.1L369.5,727.3L373.5,723.4L369.7,715.8L367.2,707.2L368.5,698.0L362.0,699.4L357.1,693.2L349.5,691.9L341.9,688.1L334.2,694.5L331.6,699.8Z" fill="#f4f3bd" stroke="#f4f3bd" stroke-width="0.6"/>
<path d="M316.3,732.9L318.5,739.6L340.4,739.6L340.4,742.8L344.2,736.6L345.2,735.9L346.1,732.2L349.8,729.7L348.6,722.0L344.8,715.6L338.6,711.8L336.1,705.8L331.2,700.2L329.2,708.2L323.3,713.0L315.9,710.4L309.6,716.7L302.4,717.9L295.3,713.2L295.4,713.8L287.5,713.8L279.6,720.5L279.6,739.5L279.6,739.6L280.6,739.6L303.9,739.6L305.7,736.7L309.6,731.6ZM283.1,747.0L280.0,740.8L282.2,747.2L283.0,747.6Z" fill="#f5cb9d" stroke="#f5cb9d" stroke-width="0.6"/>
<path d="M303.9,739.6L310.3,739.6L317.0,739.6L318.5,739.6L316.3,732.9L309.6,731.6L305.7,736.7ZM283.6,757.4L283.7,757.4L283.6,757.1Z" fill="#f4f3bd" stroke="#f4f3bd" stroke-width="0.6"/>
<path d="M364.6,762.1L367.2,755.5L365.9,746.8L362.1,739.1L357.1,735.3L349.3,732.8L348.6,733.3L348.0,733.1L345.6,733.7L345.1,736.0L344.2,736.6L340.4,742.8L340.4,762.0L355.4,761.2L354.6,762.1Z" fill="#f4f3bd" stroke="#f4f3bd" stroke-width="0.6"/>
<path d="M376.3,693.6L377.5,698.7L385.1,703.8L388.9,710.1L396.6,711.3L404.1,706.4L411.1,708.7L416.3,716.5L421.4,711.4L420.8,711.2L422.2,703.2L430.4,700.4L430.4,669.6L378.8,669.6L377.5,679.9Z" fill="#f0f0f0" stroke="#f0f0f0" stroke-width="0.6"/>
<path d="M420.8,711.2L430.4,713.9L430.4,700.4L422.2,703.2Z" fill="#adadad" stroke="#adadad" stroke-width="0.6"/>
<path d="M342.4,792.9L342.8,792.6L342.8,792.5L346.6,788.7L351.7,783.6L352.5,783.6L356.1,775.3L351.1,771.5L349.8,766.8L355.4,761.2L342.0,762.0L340.4,762.0L340.4,762.0L340.4,791.0L340.4,791.8L340.4,792.5L342.3,792.3Z" fill="#f0f0f0" stroke="#f0f0f0" stroke-width="0.6"/>
<path d="M372.5,800.4L367.1,793.7L359.6,788.7L354.6,783.6L351.7,783.6L346.6,788.7L342.8,792.5L342.8,795.1L343.7,800.4Z" fill="#f4f3bd" stroke="#f4f3bd" stroke-width="0.6"/>
<path d="M342.3,792.3L340.4,792.5L340.4,800.4L343.7,800.4Z" fill="#f0f0f0" stroke="#f0f0f0" stroke-width="0.6"/>
<path d="M383.7,784.0L385.0,795.3L386.3,800.4L411.9,800.4L409.3,788.8L399.3,781.3L394.2,772.4L386.3,775.1Z" fill="#f0f0f0" stroke="#f0f0f0" stroke-width="0.6"/>
<path d="M279.6,720.5L287.5,713.8L295.4,713.8L294.0,706.0L296.5,699.9L297.1,697.9L295.2,691.5L289.0,687.1L285.3,678.4L279.6,676.9Z" fill="#f0f0f0" stroke="#f0f0f0" stroke-width="0.6"/>
<path d="M340.4,747.2L331.5,750.7L323.3,747.2L317.0,739.6L310.3,739.6L309.1,744.8L303.0,749.7L297.2,747.3L291.5,750.7L284.3,748.3L280.6,739.6L279.5,739.6L283.1,747.0L282.0,753.8L283.7,757.4L285.1,758.1L282.9,765.0L287.0,767.1L295.0,768.2L302.9,770.5L312.0,768.2L325.7,764.8L340.4,761.2Z" fill="#f4f3bd" stroke="#f4f3bd" stroke-width="0.6"/>
<path d="M284.3,748.3L291.5,750.7L297.2,747.3L303.0,749.7L309.1,744.8L310.3,739.6L280.6,739.6Z" fill="#f5cb9d" stroke="#f5cb9d" stroke-width="0.6"/>
<path d="M323.3,747.2L331.5,750.7L340.4,747.2L340.4,739.6L317.0,739.6Z" fill="#f5cb9d" stroke="#f5cb9d" stroke-width="0.6"/>
<path d="M205.0,764.0L212.5,771.5L220.0,779.0L220.0,780.1L221.2,780.3L221.3,779.8L227.3,773.9L237.6,771.6L245.6,769.4L249.1,764.7L243.6,762.5L234.4,759.0L222.9,756.8L211.4,757.9L203.0,756.7L203.0,758.0ZM249.8,765.0L249.5,764.9L249.7,765.2Z" fill="#f0f0f0" stroke="#f0f0f0" stroke-width="0.6"/>
<path d="M250.1,763.2L253.3,766.4L253.6,765.8L259.6,768.2L268.7,770.5L279.8,773.8L282.1,764.6L282.9,765.0L285.1,758.1L273.4,752.3L264.4,746.6L259.7,739.6L245.4,739.6L246.5,751.4L245.4,760.8Z" fill="#f0f0f0" stroke="#f0f0f0" stroke-width="0.6"/>
<path d="M256.9,783.9L259.4,783.1L268.5,779.6L278.6,776.3L279.7,774.2L279.8,773.8L268.7,770.5L259.6,768.2L253.6,765.8L252.5,768.9L253.0,769.5L254.2,777.7L253.2,782.6L253.4,783.3L255.1,783.9Z" fill="#f0f0f0" stroke="#f0f0f0" stroke-width="0.6"/>
<path d="M300.3,801.9L298.0,794.0L293.5,786.0L286.7,778.1L278.3,776.9L278.6,776.3L268.5,779.6L259.4,783.1L256.0,784.2L256.1,784.2L261.9,785.4L268.8,787.6L275.7,793.5L282.7,798.0L287.2,803.8L290.6,807.1L300.3,807.1Z" fill="#f4f3bd" stroke="#f4f3bd" stroke-width="0.6"/>
<path d="M293.5,786.0L298.0,794.0L300.3,801.9L300.3,807.1L300.7,807.1L314.3,803.7L317.6,802.6L323.3,796.9L330.3,793.4L340.4,791.0L340.4,761.2L325.7,764.8L312.0,768.2L302.9,770.5L295.0,768.2L287.0,767.1L282.1,764.6L279.7,774.2L278.3,776.9L286.7,778.1Z" fill="#f0f0f0" stroke="#f0f0f0" stroke-width="0.6"/>
<path d="M315.7,836.7L319.9,838.8L324.6,841.6L328.7,842.8L328.8,842.8L337.5,839.0L340.4,838.7L340.4,833.1L334.6,822.6L331.1,814.3L334.7,806.0L340.4,803.5L340.4,791.0L330.3,793.4L323.3,796.9L317.6,802.6L314.3,803.7L315.0,803.5L313.1,809.9L311.3,815.5L312.5,824.5L314.8,831.4L316.1,836.8L315.6,836.6Z" fill="#f0f0f0" stroke="#f0f0f0" stroke-width="0.6"/>
<path d="M334.7,806.0L331.1,814.3L334.6,822.6L340.4,833.1L340.4,803.5Z" fill="#f4f3bd" stroke="#f4f3bd" stroke-width="0.6"/>
<path d="M285.0,816.5L292.6,818.4L293.7,818.2L294.8,818.9L295.0,819.0L295.1,819.2L296.9,820.4L302.6,827.2L306.4,830.9L312.5,834.0L315.6,836.6L316.1,836.8L314.8,831.4L312.5,824.5L311.3,815.5L313.1,809.9L315.0,803.5L300.7,807.1L290.6,807.1L291.0,807.5L287.0,811.4L282.4,809.1L277.8,812.6L277.5,812.4L273.0,818.6L270.1,819.6L270.2,820.2L269.4,821.4L269.4,822.1L272.5,819.0Z" fill="#ffffff" stroke="#ffffff" stroke-width="0.6"/>
<path d="M268.3,804.4L274.0,808.9L277.8,812.6L282.4,809.1L287.0,811.4L291.0,807.5L287.2,803.8L282.7,798.0L275.7,793.5L268.8,787.6L261.9,785.4L256.1,784.2L256.5,784.3L255.4,787.9L258.6,791.2L264.6,797.1L264.2,798.1Z" fill="#f5cb9d" stroke="#f5cb9d" stroke-width="0.6"/>
<path d="M240.0,811.7L246.8,810.5L252.6,808.2L260.4,810.8L263.4,808.8L262.2,804.1L264.6,797.1L255.4,787.9L256.5,784.3L253.1,783.2L254.2,777.7L253.0,769.5L249.2,764.5L245.6,769.4L237.6,771.6L227.3,773.9L221.3,779.8L221.2,780.3L219.9,780.0L220.0,789.0L222.5,799.0L232.5,804.0L234.1,810.5Z" fill="#f4f3bd" stroke="#f4f3bd" stroke-width="0.6"/>
<path d="M267.6,823.9L267.9,823.6L270.2,820.2L267.8,812.9L259.6,810.5L252.6,808.2L246.8,810.5L240.0,811.7L234.1,810.5L235.0,814.0L245.0,820.2L252.5,824.0L260.0,826.5L267.4,824.0Z" fill="#adadad" stroke="#adadad" stroke-width="0.6"/>
<path d="M828.8,345.5L833.8,352.1L837.2,355.6L832.3,362.3L830.6,370.5L889.9,370.5L886.7,362.5L877.3,360.9L870.9,362.5L864.1,364.2L860.7,355.7L857.4,346.0L854.3,336.5L849.5,334.9L843.1,331.7L836.5,330.1L831.1,325.5L831.7,325.3L828.6,326.0L823.5,323.5L820.2,318.6L815.9,317.2L812.7,321.8L807.8,328.5L799.6,330.1L789.8,332.5L779.6,333.3L779.6,370.5L812.1,370.5L810.4,360.6L808.8,350.5L818.8,347.1Z" fill="#f5cb9d" stroke="#f5cb9d" stroke-width="0.6"/>
<path d="M810.4,360.6L812.1,370.5L830.6,370.5L832.3,362.3L837.2,355.6L833.8,352.1L828.8,345.5L818.8,347.1L808.8,350.5Z" fill="#f4f3bd" stroke="#f4f3bd" stroke-width="0.6"/>
<path d="M815.9,317.2L820.2,318.6L823.5,323.5L828.6,326.0L831.7,325.3L837.0,323.3L839.1,322.3L838.9,321.4L840.0,320.5L834.7,313.7L833.8,310.0L837.7,307.7L833.3,304.0L826.9,300.9L818.9,299.3L810.7,299.3L804.1,295.9L800.2,292.8L794.6,294.4L786.4,293.6L779.6,291.1L779.6,333.3L789.8,332.5L799.6,330.1L807.8,328.5Z" fill="#f4f3bd" stroke="#f4f3bd" stroke-width="0.6"/>
<path d="M800.2,292.8L799.8,292.5L802.3,284.3L801.5,276.2L803.9,268.1L800.7,261.6L802.3,255.2L799.3,250.7L799.2,250.6L799.1,250.5L798.6,249.7L798.9,249.7L796.5,241.0L804.2,239.3L809.3,237.9L805.5,232.6L803.1,226.0L803.9,217.5L804.2,217.4L803.9,217.4L790.2,215.9L782.0,217.5L779.7,214.2L779.6,214.1L779.6,291.1L786.4,293.6L794.6,294.4Z" fill="#adadad" stroke="#adadad" stroke-width="0.6"/>
<path d="M827.9,243.9L822.0,240.9L815.6,239.3L809.8,238.5L809.3,237.9L804.2,239.3L796.5,241.0L798.9,249.7L805.9,251.5L812.5,250.7L818.0,253.8ZM799.2,250.6L799.3,250.7L799.1,250.5Z" fill="#f4f3bd" stroke="#f4f3bd" stroke-width="0.6"/>
<path d="M805.5,232.6L809.8,238.5L815.6,239.3L822.0,240.9L827.9,243.9L834.8,237.0L840.4,230.6L842.0,225.8L842.9,220.5L843.6,220.9L843.9,217.3L843.2,212.5L839.5,208.8L834.3,207.9L830.7,208.8L827.0,212.5L822.4,213.9L822.0,214.2L820.9,214.3L814.5,216.2L804.5,217.5L804.2,217.4L803.9,217.5L803.1,226.0Z" fill="#f0f0f0" stroke="#f0f0f0" stroke-width="0.6"/>
<path d="M864.0,295.8L867.8,300.5L868.3,299.9L871.2,303.5L873.1,308.8L875.3,298.6L881.9,296.1L890.1,292.0L898.3,291.2L899.8,291.4L900.4,291.1L900.7,288.7L899.5,277.5L895.8,266.2L892.0,257.5L890.2,255.7L887.3,254.8L884.0,249.4L881.6,246.4L875.8,244.2L869.5,245.0L869.2,244.8L868.7,248.8L864.6,253.7L861.5,261.8L858.2,268.2L857.4,272.7L861.3,275.8L868.0,277.5L866.2,284.6L860.2,286.3L859.9,286.3L860.7,291.0Z" fill="#adadad" stroke="#adadad" stroke-width="0.6"/>
<path d="M876.3,360.7L883.2,355.5L880.9,349.3L877.8,343.0L873.8,339.8L865.7,338.8L872.4,336.6L880.5,337.4L889.9,335.8L893.2,329.5L896.4,326.2L893.6,326.8L883.7,327.7L875.6,328.5L867.9,329.3L867.9,328.4L867.9,328.4L863.3,329.3L862.9,328.6L859.7,334.8L854.6,336.6L854.3,336.5L857.4,346.0L860.7,355.7L864.1,364.2L870.9,362.5L877.3,360.9Z" fill="#f5cb9d" stroke="#f5cb9d" stroke-width="0.6"/>
<path d="M886.7,362.5L889.9,370.5L911.9,370.5L912.3,367.9L911.7,358.8L908.9,351.8L906.4,348.8L902.8,345.7L902.8,346.1L895.3,351.1L888.8,354.4L883.5,356.1L883.2,355.5L876.3,360.7Z" fill="#f4f3bd" stroke="#f4f3bd" stroke-width="0.6"/>
<path d="M834.8,237.0L818.0,253.8L818.3,254.0L824.0,258.0L830.5,260.4L836.9,264.5L842.7,269.4L846.8,274.4L850.0,280.9L854.1,284.8L854.6,285.6L860.2,286.3L866.2,284.6L868.0,277.5L861.3,275.8L857.4,272.7L858.2,268.2L861.5,261.8L864.6,253.7L868.7,248.8L869.2,244.8L862.0,238.8L858.3,236.7L856.4,236.1L855.2,234.9L853.2,233.8L853.0,232.8L852.6,232.3L852.9,231.7L852.0,226.2L845.0,221.6L842.9,220.5L842.0,225.8L840.4,230.6Z" fill="#ff8a0b" stroke="#ff8a0b" stroke-width="0.6"/>
<path d="M800.7,261.6L803.9,268.1L801.5,276.2L802.3,284.3L799.8,292.5L804.1,295.9L810.7,299.3L818.9,299.3L826.9,300.9L833.3,304.0L837.7,307.7L838.2,307.4L843.9,305.8L848.5,303.4L850.1,295.6L848.5,287.5L849.4,280.3L850.0,280.9L846.8,274.4L842.7,269.4L836.9,264.5L830.5,260.4L824.0,258.0L818.3,254.0L812.5,250.7L805.9,251.5L798.6,249.7L802.3,255.2Z" fill="#ff8a0b" stroke="#ff8a0b" stroke-width="0.6"/>
<path d="M848.5,303.4L843.9,305.8L838.2,307.4L833.8,310.0L834.7,313.7L839.7,320.3L843.5,324.1L844.9,324.4L851.2,326.8L854.3,324.5L857.8,318.3L860.6,323.0L863.1,328.1L862.9,328.6L863.3,329.3L867.9,328.4L867.9,328.1L867.9,320.1L865.6,313.8L860.6,310.3L863.2,305.2L863.7,304.6L861.5,297.2L858.1,290.6L854.1,284.8L849.4,280.3L848.5,287.5L850.1,295.6Z" fill="#ff8a0b" stroke="#ff8a0b" stroke-width="0.6"/>
<path d="M836.5,330.1L843.1,331.7L849.5,334.9L854.6,336.6L859.7,334.8L863.1,328.1L860.6,323.0L857.8,318.3L854.3,324.5L851.2,326.8L844.9,324.4L838.4,322.8L831.1,325.5Z" fill="#ff8a0b" stroke="#ff8a0b" stroke-width="0.6"/>
<path d="M867.9,329.3L893.6,326.8L896.4,326.2L900.6,324.4L901.8,323.6L902.1,323.0L902.0,322.5L904.5,312.5L907.0,305.0L905.6,299.4L905.2,298.8L905.3,298.2L904.5,295.0L901.1,290.3L900.4,290.7L900.3,291.0L899.7,291.3L898.3,291.2L890.1,292.0L881.9,296.1L875.3,298.6L873.1,308.8L871.2,303.5L868.3,299.9L863.2,305.2L860.6,310.3L865.6,313.8L867.9,320.1Z" fill="#ff8a0b" stroke="#ff8a0b" stroke-width="0.6"/>
<path d="M893.2,329.5L889.9,335.8L880.5,337.4L872.4,336.6L865.7,338.8L873.8,339.8L877.8,343.0L880.9,349.3L883.5,356.1L888.8,354.4L895.3,351.1L902.8,346.1L902.8,345.8L903.5,345.3L903.3,345.0L904.6,332.5L902.2,323.4L900.6,324.4L896.5,326.1Z" fill="#ff8a0b" stroke="#ff8a0b" stroke-width="0.6"/>
<path d="M295.8,232.3L290.8,247.4L284.6,265.0L286.0,269.4L295.0,264.2L306.4,269.3L307.8,265.4L318.6,266.6L321.0,270.4L334.1,267.9L337.4,261.3L335.4,244.8L319.0,234.7L301.9,223.2L295.8,232.3M232.1,330.0L234.7,344.2L248.7,345.4L259.8,350.3L264.5,355.1L259.7,366.0L253.2,373.9L261.1,380.4L267.6,379.2L280.0,376.6L292.2,380.3L299.8,392.4M306.6,392.4L306.6,377.6L310.4,366.3L313.0,358.7L307.7,354.7L294.0,348.4L284.2,342.3L286.6,327.5L285.4,319.9L282.7,313.3L279.6,314.8M280.8,325.9L275.2,328.3L270.3,319.8L266.4,313.3L258.5,315.9L253.7,323.2L245.2,317.2L232.1,310.6L232.1,330.0M337.1,330.1L340.8,345.2L347.1,355.2L349.6,365.2L357.3,372.9L366.4,372.9M366.1,341.9L362.8,337.2L354.0,333.4L345.3,327.2L340.3,315.9L335.9,314.5L334.6,321.2L337.1,330.1M368.0,185.2L373.2,189.1L379.7,196.7L387.2,193.0L398.3,199.2L407.4,203.0L413.1,187.2L414.4,167.5L415.6,155.8L418.6,155.8L416.0,152.5L407.2,148.8L401.0,151.2L389.8,156.2L376.8,154.9L376.8,167.4L370.6,174.8L368.0,185.2M413.1,187.0L407.4,203.0L408.5,203.5L408.1,205.0L409.4,214.9L403.2,224.7L390.7,237.2L384.1,246.5L401.0,247.9L416.0,249.9L437.3,250.4L441.3,247.8L449.0,235.0L446.4,229.9L447.6,212.2L437.6,209.7L436.4,192.5L436.4,156.2L427.2,156.2L419.8,157.5L418.5,155.8L415.6,155.8L414.4,167.5L413.1,187.0M489.6,175.4L497.0,176.6L498.1,174.8L500.9,167.9L501.7,169.1L502.5,167.7L506.4,162.6L505.2,154.9L501.5,142.8L501.0,142.5L493.5,140.0L486.0,139.5L483.5,143.8L481.0,158.8L480.1,159.4L476.7,165.1L489.6,175.4M495.6,187.6L493.1,202.8L499.6,205.3L502.9,208.0L516.2,214.6L522.5,217.9L530.1,216.5L531.1,211.9L531.8,204.9L533.2,197.1L533.5,197.1L526.1,195.8L518.7,194.6L508.8,179.8L500.9,167.9L498.1,174.8L493.0,182.5L495.6,187.6M505.6,239.7L521.4,235.7L521.4,235.9L522.5,235.3L525.2,228.9L523.7,217.6L522.4,217.8L503.1,208.1L499.6,205.3L494.2,203.2L490.5,208.8L500.6,220.2L501.8,230.1L505.6,238.9L505.6,239.7M509.6,250.3L515.5,255.1L515.7,254.7L517.6,254.0L521.4,250.2L521.4,235.7L515.9,237.1L505.6,239.7L505.6,247.7L509.6,250.3M531.2,211.6L530.1,216.6L530.7,216.5L530.6,217.7L541.0,226.7L551.3,216.4L554.0,209.9L547.5,202.2L541.1,197.1L533.2,197.1L531.8,204.9L531.2,211.6M555.8,228.4L550.4,235.1L563.3,241.5L565.6,243.5L574.0,249.8L573.8,250.6L579.4,254.0L583.8,255.9L586.4,262.5L586.4,262.7L591.2,257.9L600.0,256.6L606.5,250.1L601.6,241.4L612.5,237.8L617.6,230.2L619.0,223.6L611.0,219.6L598.8,223.3L596.3,210.8L585.7,212.1L583.5,216.6L578.4,206.4L575.6,217.3L568.3,225.8L555.8,228.4M620.6,185.1L619.4,200.0L620.6,212.9L624.8,213.4L631.1,213.4L636.3,216.9L638.5,218.0L643.9,208.5L643.9,209.7L645.2,207.6L642.6,195.0L643.9,181.3L643.5,181.2L637.2,172.5L628.5,167.5L618.5,167.5L618.1,167.4L615.6,176.3L620.6,185.1M644.4,240.2L645.7,220.9L644.2,221.4L643.9,208.5L638.5,217.9L636.1,216.7L631.1,213.4L625.1,213.4L620.6,212.8L619.5,223.9L618.9,223.6L618.8,223.9L623.2,232.8L633.1,235.3L634.4,247.9L644.4,247.9L644.4,240.2M671.6,215.8L655.9,217.1L645.6,220.9L644.4,240.0L644.4,260.5L653.5,263.4L671.6,262.1M654.7,355.6L652.5,357.4L653.0,357.7L657.3,356.9L654.7,355.6M665.8,287.8L656.8,277.7L653.0,263.4L653.5,263.4L645.0,260.8L637.7,256.6L641.7,267.4L633.1,274.8L630.6,289.8L621.4,299.0L621.4,299.6M672.4,290.6L665.8,287.8M665.8,287.8L672.4,290.6M671.6,262.1L653.0,263.4L656.8,277.7L665.8,287.8M612.1,377.4L612.3,378.7L613.2,375.7L612.1,377.4M600.9,355.5L603.8,358.4L606.8,358.4L603.3,353.3L602.2,352.9L600.9,355.5M589.6,317.3L578.2,312.7L578.2,313.0L569.4,304.1L574.0,317.7L573.3,318.1L578.2,327.7L585.7,337.8L589.6,341.7M592.9,345.0L592.6,344.4L591.4,343.5L592.9,345.0M588.1,290.3L590.6,291.5L596.0,293.4L603.5,290.8L613.5,294.6L618.3,293.8L621.5,292.8L617.6,280.0L622.6,270.1L621.4,257.1L598.4,258.1L600.0,256.5L591.2,257.8L586.3,262.7L583.8,275.4L585.6,275.1L588.1,290.3M621.4,299.6L621.4,292.7L618.0,293.9L613.5,294.6L603.5,290.8L596.0,293.4L590.8,291.6L588.1,290.2L588.2,290.9L583.2,297.2L575.5,304.9L578.2,312.8L589.6,317.4M621.8,317.7L621.3,323.4L622.6,324.7L622.4,320.9L621.8,317.7M536.2,274.1L526.1,280.4L518.2,276.4L519.8,278.5L521.1,278.5L532.5,283.6L532.9,287.0L533.2,284.5L543.8,288.6L544.8,298.5L545.7,289.5L558.5,295.8L558.3,295.6L566.3,290.3L573.7,280.3L582.3,277.5L578.2,276.1L574.5,276.6L570.6,265.0L571.8,256.0L572.7,254.8L574.0,249.8L563.4,241.9L559.2,250.2L558.9,252.7L551.1,263.0L550.3,262.6L545.8,267.2L544.1,268.1L536.2,274.1M570.6,265.0L574.5,276.6L583.8,275.4L586.4,262.5L583.8,255.9L579.6,254.1L573.7,250.5L572.6,254.9L571.8,256.0L570.6,265.0M513.1,270.1L518.2,276.5L526.0,280.5L536.2,274.1L543.9,268.3L545.8,267.2L546.6,266.4L541.3,259.8L536.2,252.1L526.0,250.8L515.7,254.7L513.1,259.9L513.1,270.1M541.8,252.5L544.5,260.3L551.1,263.0L558.9,252.7L560.5,240.1L550.4,235.1L549.9,235.8L549.6,235.6L545.6,243.6L541.8,252.5M493.0,297.8L500.6,300.3L501.8,307.4L492.9,321.4L506.1,325.5L511.3,320.3L519.4,314.2L525.7,304.7L531.8,299.8L532.9,286.8L532.6,283.5L521.1,278.4L510.9,278.4L500.7,284.7L495.7,289.8L493.0,297.8M525.7,304.7L515.7,319.7L508.2,327.2L501.5,336.5L513.3,339.2L518.4,345.5L526.1,341.6L538.7,337.8L543.7,331.3L545.7,327.3L554.1,316.5L545.6,315.4L544.4,302.5L544.8,298.3L543.9,288.5L533.1,284.4L531.8,299.8L525.7,304.7M543.8,331.1L539.5,336.8L548.2,344.1L555.9,353.0L560.8,351.3L563.5,349.5L568.5,352.1L570.9,352.9L578.3,352.9L583.4,360.6L589.6,355.5M589.6,354.1L592.7,352.9L595.5,349.9L592.9,344.9L589.6,342.1M589.6,341.6L585.5,337.4L585.1,337.7L573.8,329.7L570.3,320.2L574.0,317.7L568.8,302.2L558.7,295.9L545.7,289.4L544.4,302.5L545.6,315.4L554.1,316.5L545.7,327.3L543.8,331.1M548.9,380.0L546.3,392.4M566.7,391.6L573.9,380.2L576.4,370.1L577.6,362.4L570.8,352.9L571.0,352.9L568.3,352.0L563.5,349.5L561.0,351.2L555.8,352.9L556.8,354.0L555.7,354.7L550.6,364.8L545.9,373.1L546.3,373.6L548.9,380.0M511.9,371.0L508.1,380.0L513.2,392.4M546.3,392.4L548.9,380.0L546.3,373.6L541.1,368.4L530.9,369.6M524.9,370.8L515.9,365.7L511.9,371.0M465.6,252.4L460.8,260.8L448.4,262.1L440.6,265.9L439.4,274.1L450.9,277.9L466.1,277.9L472.0,275.9L478.2,269.7L485.6,264.8L485.6,259.5L494.3,260.7L491.3,258.5L486.3,252.2L477.6,246.0L476.4,234.6L466.9,233.3L465.6,242.5L465.6,252.4M496.6,262.4L495.3,261.5L495.8,263.5L496.6,262.4M485.6,264.8L478.2,269.7L467.9,280.0L473.3,285.3L478.7,288.1L481.3,280.3L488.8,275.3L496.4,266.3L495.1,260.8L485.6,259.5L485.6,264.8M438.1,302.2L439.4,316.3L443.2,325.3L451.2,326.6L456.4,315.2L462.5,305.3L471.3,297.8L476.7,287.0L473.3,285.3L470.8,282.8L463.3,284.6L448.3,299.6L438.1,302.2M408.1,310.1L413.3,317.9L423.7,316.6L428.9,308.9L427.6,299.8L419.9,293.3L406.8,299.8L408.1,310.1M384.3,277.7L393.4,282.9L406.1,285.4L412.6,280.2L413.9,269.7L403.6,265.8L389.5,267.1L384.3,277.7M386.8,365.0L385.6,380.0L388.2,392.4M409.0,391.6L412.6,380.1L413.9,367.6L417.2,360.9L416.8,360.0L419.4,351.4L420.2,347.7L421.7,345.1L425.6,337.3L427.2,333.3L429.0,323.4L419.7,323.4L406.0,328.4L395.8,325.7L388.1,337.3L384.4,350.0L386.8,365.0M365.6,369.6L371.3,365.2L373.9,357.7L381.3,347.7L387.6,337.6L389.0,328.2L375.8,333.5L365.6,342.3M416.8,360.0L419.7,365.6L426.3,360.3L441.3,340.2L449.7,326.3L443.2,325.3L441.0,324.6L433.4,325.8L428.2,327.7L427.1,333.5L425.6,337.3L421.8,344.9L420.1,347.6L419.3,351.6L416.8,360.0M463.8,391.6L462.5,387.2L451.1,384.6L430.9,374.5L423.1,382.4L424.5,392.4M891.7,377.8L889.5,370.5M832.3,370.5L831.2,391.6M841.7,391.6L844.2,384.7L852.2,382.0L857.2,391.6M890.0,391.6L892.3,378.0L891.7,377.8M867.9,328.4L867.9,328.4L867.9,328.1L867.9,328.4L867.9,328.4M821.6,391.6L822.8,380.0L824.0,370.5M779.6,333.9L773.6,334.6L773.6,335.1L770.4,339.0M770.4,377.7L772.3,376.9L774.8,391.6M772.4,324.9L770.4,319.0M770.4,339.0L773.6,335.1L772.4,324.9M737.4,316.1L737.3,317.1L737.9,315.3L737.7,314.9L737.1,315.6L737.4,316.1M824.0,370.5L822.8,380.0L821.6,391.6M831.2,391.6L832.3,370.5M844.2,384.7L841.7,391.6M857.2,391.6L852.2,382.0L844.2,384.7M910.8,377.9L910.8,377.5L912.1,369.3M889.5,370.5L891.7,377.8L902.0,380.4L910.8,377.9M913.2,362.5L909.5,352.5L908.9,351.8L911.7,358.8L912.3,367.9L913.2,362.5M903.5,345.3L902.8,345.7L906.4,348.8L903.5,345.3M774.8,391.6L772.3,376.9L770.4,377.7M682.7,205.1L680.4,212.5L680.8,214.6L681.2,214.6L680.9,217.7L681.5,217.7L682.8,224.0L691.6,235.2L696.9,248.3L703.6,240.2L707.4,230.1L708.6,216.3L708.2,216.2L704.5,205.0L697.0,196.2L688.2,188.8L679.5,187.5L672.0,191.2M671.6,197.8L676.8,199.2L682.7,205.1M682.8,288.4L684.6,289.6L692.6,288.5L697.2,280.4L696.9,280.4L689.1,277.8L689.1,253.3L681.1,252.1L676.2,240.0L679.9,230.1L681.2,214.6L671.6,214.6M671.6,283.1L676.9,280.5L682.8,288.4M734.2,242.2L734.7,242.0L739.8,249.8L746.1,259.7L753.3,263.4L754.1,263.6L760.5,258.3L760.4,257.5L761.6,247.5L762.8,235.1L756.7,225.2L748.6,215.8L749.7,215.8L744.2,210.4L743.2,210.0L734.5,211.2L734.0,210.9L735.4,220.1L736.6,230.0L734.2,242.2M725.5,285.3L731.6,290.2L731.5,289.6L742.1,289.6L749.4,292.1L757.2,286.9L757.4,287.4L758.6,277.5L759.9,264.7L753.3,263.4L746.1,259.7L739.8,249.8L734.7,242.0L721.9,247.1L706.6,249.7L706.6,254.9L707.4,257.3L713.6,264.9L712.6,273.5L717.9,277.8L725.5,285.3M702.8,280.4L707.8,279.8L712.4,275.2L713.6,264.9L707.4,257.3L706.6,255.0L706.6,249.7L705.1,249.9L704.8,249.1L689.1,249.1L689.1,277.8L696.9,280.4L702.8,280.4M709.3,278.2L707.7,279.8L703.1,280.4L697.2,280.3L692.6,288.5L684.6,289.6L676.7,284.3L675.4,299.6M705.0,299.6L706.4,304.0L705.7,299.6M707.6,299.6L712.4,287.5L709.3,278.2M779.5,213.8L774.5,210.0L767.0,212.5L754.5,216.2L754.0,215.8L748.6,215.8L756.7,225.2L762.8,235.1L761.6,247.5L760.4,257.5L761.6,265.3L779.6,274.2M763.7,279.9L770.6,285.3L779.6,290.5M779.6,275.2L771.9,277.1L763.7,279.9M782.0,217.5L790.2,215.9L803.9,217.4L794.5,215.0L782.0,217.5M844.4,220.7L844.5,221.2L843.2,212.5L843.9,217.3L843.6,220.9L844.1,221.1L844.3,220.6L844.4,220.7M830.7,208.8L834.3,207.9L832.0,207.5L830.7,208.8M820.9,214.3L822.0,214.2L822.4,213.9L814.5,216.2L820.9,214.3M860.7,291.0L860.1,287.5L857.7,289.9L861.4,297.2L862.3,299.8L866.1,302.2L867.8,300.5L864.0,295.8L860.7,291.0M901.0,290.3L900.8,290.0L900.7,288.7L900.4,290.7L901.0,290.3M890.2,255.7L884.5,250.0L883.7,249.1L887.3,254.8L890.2,255.7M875.8,244.2L881.6,246.4L879.5,243.8L875.8,244.2M869.5,245.0L869.2,244.7L869.2,244.7L869.5,245.0M844.1,221.1L845.0,221.6L852.0,226.2L844.5,221.2L844.4,220.7L844.3,220.6L844.1,221.1M852.0,226.2L852.9,231.7L852.6,232.3L853.0,232.8L853.2,233.8L852.0,226.2M853.2,233.8L855.2,234.9L856.4,236.1L858.3,236.7L862.0,238.8L853.2,233.8M859.9,286.3L859.8,286.3L859.9,286.3L859.9,286.3M856.7,288.5L855.3,285.7L854.6,285.6L856.7,288.5M905.3,298.2L905.2,298.8L905.6,299.4L905.3,298.2M866.1,302.2L862.3,299.7M862.1,299.4L863.7,304.6L866.1,302.2M905.6,299.4L907.0,305.0L905.6,299.4M843.5,324.1L840.0,320.5L838.9,321.4L839.1,322.3L837.0,323.3L838.4,322.8L843.5,324.1M737.2,313.5L737.9,315.3L738.1,314.8L737.2,313.5M757.2,286.9L749.4,292.1L742.1,289.6L731.5,289.6L733.2,299.6M762.3,299.6L761.2,297.3L757.2,286.9M737.2,317.4L737.3,317.1L737.4,316.1L736.8,315.2L737.2,317.4M732.7,309.9L731.9,312.2L734.1,310.8L733.5,309.7L733.2,309.5L732.7,309.9M184.7,404.3L182.1,411.8L177.1,419.4L179.7,429.9L188.5,429.9L189.6,437.3L199.9,442.4L210.1,441.2L217.5,436.3L224.8,443.6L232.7,444.9L240.3,434.8L250.5,424.6L240.3,399.2L230.1,394.1L210.0,397.8L189.8,399.1L184.7,404.3M255.7,417.0L259.7,421.1L269.6,429.6L264.5,451.1L280.2,453.6L286.6,446.0L286.6,445.5L288.4,444.1L289.7,429.3L289.1,430.4L288.6,430.2L290.4,419.4L282.8,406.8L275.0,396.4L264.7,406.7L255.7,417.0M303.5,399.3L299.6,406.8L295.8,416.8L289.6,429.4L288.3,444.1L295.2,438.6L306.3,437.4L319.2,434.8L321.6,412.0L322.9,395.4L307.3,394.1L303.5,399.3M223.4,474.5L223.4,502.0L224.6,514.7L224.7,514.8L235.3,524.2L242.1,531.9L243.4,521.9L248.4,514.4L249.7,504.0L260.2,506.6L269.2,511.8L269.2,527.0L270.4,512.0L267.9,497.0L266.6,479.5L265.4,464.4L262.8,450.4L245.0,452.8L235.2,451.6L227.3,445.1L224.6,454.5L225.8,464.5L223.4,474.5M252.2,543.5L250.3,541.4L251.8,543.0L252.2,543.5M242.1,531.9L245.3,535.5L250.3,541.4L252.3,543.6L267.5,543.6L267.9,543.6L269.2,527.0L269.2,511.8L260.2,506.6L249.7,504.0L248.4,514.4L243.4,521.9L242.1,531.9M180.0,539.9L194.8,544.9L207.2,552.3L209.5,559.4L199.3,567.0L207.3,572.3L219.9,579.9L233.4,578.8L235.8,577.9L237.1,569.6L232.2,562.2L224.1,552.8L235.0,552.8L249.7,551.6L252.1,547.0L253.0,544.4L245.3,535.5L235.3,524.2L224.0,514.2L215.2,509.2L207.8,501.7L198.5,491.1L197.1,501.6L184.0,501.6L189.3,512.0L185.3,517.2L177.8,527.3L170.5,534.6L173.0,540.9L172.0,541.7L172.2,542.5L180.0,539.9M232.1,597.1L234.6,609.6L239.7,619.9L252.2,621.2L253.4,611.9L257.1,604.5L253.4,597.2L248.4,584.7L242.2,574.8L237.1,569.6L235.8,577.9L233.6,578.8L231.3,578.9L231.5,579.6L225.6,581.8L229.6,587.2L232.1,597.1M172.1,584.6L177.1,594.7L182.2,606.1L190.0,608.6L207.4,607.4L206.6,586.6L192.7,586.6L187.8,576.7L180.0,574.1L169.5,575.5L172.1,584.6M117.2,607.3L132.5,617.5L142.2,612.6L144.7,621.2L160.0,622.4L175.2,621.2L179.2,614.6L177.9,604.3L170.2,596.6L155.1,596.6L147.6,594.1L125.0,595.4L108.0,597.9L117.2,607.3M174.2,654.4L175.4,637.0L174.0,621.2L160.0,622.4L156.4,622.1L156.4,622.4L144.6,625.5L147.1,654.4M111.5,654.4L112.9,647.0L110.3,636.7L98.6,632.7L98.8,631.9L92.5,642.0L87.6,653.6M127.3,539.8L139.9,544.9L154.9,543.6L165.1,547.5L173.0,540.9L170.5,534.6L177.8,527.3L185.3,517.2L189.3,512.0L182.8,499.3L175.3,491.8L172.8,485.4L160.2,485.4L155.2,479.1L145.0,477.8L131.8,478.9L123.8,487.0L120.0,499.5L121.2,512.0L122.5,524.5L121.2,534.5L121.0,534.8L127.3,539.8M315.8,492.0L314.6,502.1L319.7,512.2L324.8,519.9L334.8,522.4L342.4,531.3L347.8,527.3L352.9,514.7L359.2,502.1L360.4,487.8L347.9,486.6L346.5,474.0L329.9,479.1L317.1,481.7L315.8,492.0M253.4,597.2L257.1,604.5L253.4,611.9L252.1,620.8L253.4,629.8L267.2,632.3L269.6,642.0L267.2,653.6M289.7,653.6L293.4,639.4L299.6,626.9M299.6,622.8L303.6,618.8L305.8,614.3L309.8,607.8L316.1,607.1L317.0,606.3L322.5,605.8L326.6,599.6L325.4,586.8L317.7,576.5L307.6,579.1L296.6,571.8L295.4,561.7L283.9,555.4L275.1,556.6L267.9,551.8L267.9,543.6L252.3,543.6L251.6,542.8L252.9,544.4L252.0,547.2L249.7,551.6L235.0,552.8L224.1,552.8L232.2,562.2L237.2,569.8L242.2,574.8L248.4,584.7L253.4,597.2M299.6,626.9L293.4,639.4L289.7,653.6M341.8,629.8L342.4,629.3L342.6,628.4L341.8,629.8M343.0,626.6L340.9,626.5L342.9,626.8L343.0,626.6M326.2,616.8L326.6,611.8L326.5,611.7L326.1,616.1L326.2,616.8M310.0,612.4L316.1,607.1L309.8,607.8L305.8,614.3L303.6,618.8L310.0,612.4M431.7,404.3L441.0,406.6L456.1,406.6L468.7,410.4L476.4,416.8L476.4,417.1L478.8,409.7L486.6,403.2L478.7,396.7L466.1,391.6M437.0,391.6L430.6,398.1L431.7,404.3M424.5,406.7L420.6,414.4L419.4,429.6L424.4,442.2L429.5,452.2L434.8,460.2L441.3,449.7L448.7,439.9L471.3,438.6L473.9,429.6L476.4,416.8L468.7,410.4L456.1,406.6L441.0,406.6L431.0,404.1L424.5,406.7M394.6,396.2L405.0,398.7L409.2,391.6M390.0,391.6L394.6,396.2M520.7,423.6L527.7,424.8L530.8,422.9L534.0,420.8L538.7,417.3L543.6,414.9L550.8,410.5L556.0,407.0L558.3,408.4L561.0,407.4L560.7,407.3L558.8,401.8L556.3,396.6L541.0,395.4L525.9,394.1L515.7,399.2L514.4,404.5L515.6,414.6L520.7,423.6M565.8,408.6L573.4,415.0L583.7,409.8L589.6,404.0M589.6,395.4L594.1,391.6M560.7,391.6L557.9,400.0L558.9,402.0L560.7,407.3L565.8,408.6M543.8,414.8L538.7,417.3L533.8,421.0L520.7,429.2L515.6,436.8L513.1,445.9L515.9,450.0L541.2,434.9L556.3,428.5L560.2,419.7L564.0,411.8L556.0,407.0L543.8,414.8M626.0,487.4L616.0,484.9L607.0,487.5L606.2,486.2L599.5,484.0L598.1,496.9L595.7,509.1L596.5,509.1L592.6,522.2L592.2,522.7L595.3,526.7L596.2,526.6L602.6,536.9L603.0,540.3L605.5,546.8L616.8,547.9L611.4,554.7L607.6,564.6L607.6,574.3L616.3,581.7L626.3,591.8L631.4,604.3L638.9,616.9L641.4,629.5L638.9,642.0L641.3,653.6M622.3,454.4L625.8,457.3L635.7,464.8L639.8,470.2L643.9,474.4L642.6,481.1L641.9,481.4L641.8,481.7L634.7,485.4L631.5,485.8L626.0,487.4M631.3,485.9L634.7,485.5L641.9,481.8L642.0,481.4L642.6,481.1L643.9,474.4L640.0,470.4L635.7,464.7L625.8,457.3L622.4,454.3M604.5,454.3L604.6,455.1L594.3,457.9L598.1,467.1L600.6,478.4L607.0,487.5L616.0,484.9L626.0,487.4L631.3,485.9M545.6,464.7L551.8,469.7L550.5,479.9L560.1,479.9L561.4,472.3L568.6,469.9L581.1,467.4L592.7,466.2L591.4,456.9L590.5,454.4M589.6,451.6L587.5,445.6L578.6,439.1L565.9,441.6L555.8,445.5L546.8,454.3L545.6,464.7M504.4,474.4L503.1,484.5L501.8,497.0L501.8,511.7L495.8,514.2L490.6,519.4L491.8,532.0L489.4,542.0L490.7,551.2L503.6,549.9L515.9,547.4L525.8,552.3L535.7,562.3L545.8,571.2L546.9,571.2L546.7,570.4L558.4,570.4L565.7,564.2L580.6,544.3L583.1,536.8L588.2,527.8L589.3,527.7L592.6,522.2L596.5,509.1L591.0,509.1L578.5,510.4L565.9,511.6L553.7,516.5L548.8,509.3L541.3,496.8L536.3,491.7L531.3,484.3L523.9,474.3L518.9,461.8L512.1,451.0L508.1,464.4L504.4,474.4M565.7,564.2L558.4,570.4L546.7,570.4L548.1,577.0L544.6,585.3L551.1,587.8L563.5,591.6L573.3,589.1L583.2,581.7L590.7,571.8L598.1,559.3L603.2,546.6L605.6,546.8L603.0,540.1L602.6,536.9L596.2,526.6L588.2,527.8L583.1,536.8L580.6,544.3L565.7,564.2M544.4,586.1L544.4,585.7L544.3,586.0L544.4,586.1M583.2,581.7L573.3,589.1L563.5,591.6L551.1,587.8L544.3,585.2L545.6,597.3L558.2,599.8L560.6,609.6L563.1,621.9L555.8,629.1L541.0,631.6L528.1,631.6L528.1,641.7L528.9,641.5L528.9,653.6M641.3,653.6L638.9,642.0L641.4,629.5L638.9,616.9L631.4,604.3L626.3,591.8L616.3,581.7L607.6,574.3L607.6,564.6L611.4,554.7L616.8,547.9L603.2,546.6L598.1,559.3L590.7,571.8L583.2,581.7M498.9,631.9L496.4,621.9L491.4,611.9L488.9,601.9L483.8,591.7L480.4,589.1M528.9,653.6L528.9,641.5L515.9,644.1L506.2,646.5L498.9,631.9M480.4,587.3L483.9,584.7L485.2,574.7L491.2,569.8L499.1,564.6L493.8,556.8L490.0,550.4L475.1,551.5L480.4,552.3M456.2,541.6L452.2,542.3L458.3,544.8L456.2,541.6M435.5,541.4L435.6,541.9L436.4,541.7L435.5,541.4M440.6,572.0L441.8,587.1L442.1,587.9L442.9,576.6L442.0,564.7L438.6,554.4L436.3,546.2L440.6,572.0M427.1,591.6L419.3,595.1L427.0,595.1L437.1,596.8L441.4,589.5L441.2,589.1L427.1,591.6M408.8,586.1L407.1,583.6L406.0,586.6L408.8,586.1M389.9,613.9L387.6,610.5L387.9,612.5L395.9,622.1L398.3,612.6L402.6,602.2L406.8,593.7L406.0,586.7L403.1,594.4L396.9,609.2L389.9,613.9M382.2,566.3L381.0,570.0L375.9,576.7L375.9,586.8L378.4,595.2L379.7,596.1L377.6,591.9L377.6,579.6L382.6,567.0L382.2,566.3M375.7,559.2L379.2,561.7L375.1,555.5L366.0,552.8M366.4,554.0L375.7,559.2M378.3,542.6L368.8,541.0L366.6,543.6L378.3,542.6M392.6,542.4L392.7,541.1L391.4,542.4L392.6,542.4M393.9,532.2L401.3,524.8L407.6,514.6L405.1,504.2L393.6,499.1L378.5,496.6L365.6,499.2M396.7,519.6L393.1,530.3L393.7,533.4L393.9,532.2M909.1,533.5L914.6,539.1L917.6,538.6M917.6,537.2L914.3,536.2L909.1,533.5M804.1,484.7L805.5,472.5L804.9,474.6L803.5,486.5L794.3,479.8L784.5,472.5L777.2,478.5L768.5,482.3L759.5,493.8L751.8,484.8L741.9,481.2L729.3,478.6L721.6,472.2L719.1,462.0L719.9,454.4M746.5,653.6L742.8,642.0L746.7,629.1L762.0,627.8L766.1,628.8L761.7,622.3L749.3,612.3L736.8,604.9L726.8,602.4L721.7,594.7L716.7,584.7L706.7,574.8L698.8,564.3L712.0,560.4L724.6,564.1L737.0,569.1L746.8,564.2L756.8,556.7L765.2,552.4L759.9,567.2L752.5,578.2L759.8,586.7L768.5,596.8L772.4,606.9L774.4,615.1L775.5,608.9L782.2,611.7L792.4,621.8L794.9,634.5L793.6,644.4L797.3,653.6M814.2,653.6L821.9,637.4L827.2,644.1L842.0,641.6L864.6,641.6L872.3,646.7L877.2,653.6M916.4,653.6L911.6,642.1L909.1,629.5L911.6,617.0L909.1,604.7L902.8,594.6L904.0,586.8L897.2,592.3L887.2,597.4L877.0,601.2L869.4,599.9L857.1,596.2L847.1,605.0L841.5,602.2L846.6,591.9L846.6,583.3L839.2,574.8L824.2,559.8L816.7,554.8L811.8,548.6L798.6,547.3L806.7,539.3L810.4,529.5L807.8,522.0L810.5,514.3L816.7,507.9L821.5,502.0L814.2,494.8L807.9,487.3L804.1,484.7M684.2,603.9L694.7,609.2L704.7,617.9L714.8,621.7L718.7,629.5L712.2,639.9L704.2,638.6L701.7,629.8L691.8,624.8L682.8,617.2L684.2,603.9M906.1,585.0L909.2,584.2L910.8,581.0L906.1,585.0M906.4,517.4L906.5,517.2L905.4,516.8L906.4,517.4M841.8,452.8L841.7,452.5L838.8,453.2L841.8,452.8M925.3,501.7L937.8,496.6L949.6,490.8L951.8,489.2L958.7,486.2L960.2,485.5L963.7,480.1L963.8,480.2L963.5,481.5L969.5,472.0L957.0,459.5L949.5,449.5L942.0,437.0L934.5,424.5L929.5,414.5L922.0,404.5L918.2,395.8L909.5,392.0M862.2,391.6L877.4,416.8L879.7,421.6L892.0,420.4L899.9,422.9L901.2,436.9L907.4,451.9L906.2,474.1L927.0,475.4L928.4,475.4L927.2,487.1L920.9,499.6L919.4,505.7L919.2,507.7L925.3,501.7M797.2,401.6L804.4,402.8L811.7,396.7L815.6,391.6M770.4,391.9L782.2,396.7L789.6,402.8L796.2,401.7L796.0,401.4L797.0,401.6L797.2,401.6L797.2,401.6M719.9,454.4L719.1,462.0L721.6,472.2L729.3,478.6L741.9,481.2L751.8,484.8L759.5,493.8L768.5,482.3L777.2,478.5L784.5,472.5L783.9,472.1L791.5,462.0L782.8,452.2L779.1,439.5L781.6,429.4L782.8,414.4L789.2,402.8L789.6,402.8L782.2,396.7L770.4,391.9M779.1,439.5L782.8,452.2L791.5,462.0L783.9,472.1L794.3,479.8L803.5,486.5L804.9,474.6L805.5,472.5L806.6,462.9L808.4,462.4L807.9,462.5L805.4,450.8L807.8,440.6L815.5,435.5L821.5,427.0L815.5,417.3L806.8,413.5L796.2,401.7L789.2,402.8L782.8,414.4L781.6,429.4L779.1,439.5M797.0,401.6L797.2,401.6L797.2,401.6L797.0,401.6M815.5,417.3L821.5,427.0L815.5,435.5L807.8,440.6L805.4,450.8L807.9,462.5L808.4,462.4L819.4,459.1L831.9,454.1M838.8,453.2L841.7,452.5L841.6,451.9L849.4,444.1L859.6,445.4L871.9,450.3L877.8,441.9L879.1,421.6L879.7,421.6L877.4,416.8L862.2,391.6M815.6,391.6L811.7,396.7L804.4,402.8L796.0,401.4L806.8,413.5L815.5,417.3M841.6,451.9L841.8,452.8L842.3,452.8L847.3,471.7L857.3,477.9L864.8,486.7L874.6,491.6L884.6,490.4L892.3,496.7L899.9,506.8L901.2,514.3L905.4,516.8L906.5,517.2L906.7,516.7L911.9,514.1L917.6,514.1M917.6,475.4L927.0,475.4L906.2,474.1L907.4,451.9L901.2,436.9L899.9,422.9L892.0,420.4L879.1,421.6L877.8,441.9L871.9,450.3L859.6,445.4L849.4,444.1L841.6,451.9M919.2,507.7L919.4,505.7L918.7,508.2L919.2,507.7M911.9,514.1L906.7,516.7L906.4,517.4L907.5,518.0L905.0,524.3L905.3,524.6L904.8,524.8L904.7,525.1L904.5,525.0L898.0,528.2L907.2,531.7L909.1,533.5L914.3,536.2L917.6,537.2M917.6,514.1L911.9,514.1M951.8,489.2L949.6,490.8L950.3,490.4L958.7,486.2L951.8,489.2M807.9,487.3L814.2,494.8L821.5,502.0L816.7,507.9L817.0,507.6L822.3,514.2L832.2,521.6L841.9,524.1L850.6,516.7L858.2,512.8L869.6,516.6L879.5,519.1L889.5,517.8L897.2,519.1L905.0,524.3L907.5,518.0L901.2,514.3L899.9,506.8L892.3,496.7L884.6,490.4L874.6,491.6L864.8,486.7L857.3,477.9L847.3,471.7L842.3,452.8L831.9,454.1L819.4,459.1L806.6,462.9L804.1,484.7L807.9,487.3M904.7,525.1L904.8,524.8L904.5,525.0L904.7,525.1M811.8,548.6L816.7,554.8L824.2,559.8L839.2,574.8L846.6,583.3L846.6,591.9L841.5,602.2L847.1,605.0L857.1,596.2L869.4,599.9L877.0,601.2L887.2,597.4L897.2,592.3L904.0,586.8L904.1,585.5L906.1,585.0L910.8,581.0L911.7,579.2L917.6,574.3M917.6,568.0L915.4,562.2L910.4,552.0L914.2,539.1L914.6,539.1L907.2,531.7L898.0,528.2L905.3,524.6L897.2,519.1L889.5,517.8L879.5,519.1L869.6,516.6L858.2,512.8L850.6,516.7L841.9,524.1L832.2,521.6L822.3,514.2L817.0,507.6L810.5,514.3L807.8,522.0L810.4,529.5L806.7,539.3L798.6,547.3L811.8,548.6M914.2,539.1L910.4,552.0L915.4,562.2L917.6,568.0M917.6,538.6L914.2,539.1M909.2,584.2L909.6,584.1L917.6,592.0M917.6,574.3L911.7,579.2L909.2,584.2M917.6,592.0L909.6,584.1L904.1,585.5L902.8,594.6L909.1,604.7L911.6,617.0L909.1,629.5L911.6,642.1L916.4,653.6M716.7,584.7L721.7,594.7L726.8,602.4L736.8,604.9L749.3,612.3L761.7,622.3L766.1,628.8L766.8,629.0L774.1,616.9L774.4,615.1L772.4,606.9L768.5,596.8L759.8,586.7L752.5,578.2L759.9,567.2L765.2,552.4L756.8,556.7L746.8,564.2L737.0,569.1L724.6,564.1L712.0,560.4L698.8,564.3L706.7,574.8L716.7,584.7M682.8,617.2L691.8,624.8L701.7,629.8L704.2,638.6L712.2,639.9L718.7,629.5L714.8,621.7L704.7,617.9L694.7,609.2L684.2,603.9L682.8,617.2M797.3,653.6L793.6,644.4L794.9,634.5L792.4,621.8L782.2,611.7L775.5,608.9L774.1,616.9L766.8,629.0L762.0,627.8L746.7,629.1L742.8,642.0L746.5,653.6M872.3,646.7L864.6,641.6L842.0,641.6L827.2,644.1L821.9,637.4L814.2,653.6M877.2,653.6L872.3,646.7M1072.0,607.6L1077.6,604.8L1077.6,604.0L1078.0,604.5L1070.5,594.5L1074.2,589.5L1074.2,577.0L1074.6,576.8L1074.6,576.6L1057.9,578.6L1050.2,574.8L1047.7,567.4L1030.3,566.2L1026.7,560.1L1018.2,567.3L1003.1,576.2L986.8,571.2L983.4,572.3L984.6,581.9L988.3,594.2L996.2,599.5L988.3,606.1L983.3,614.7L977.8,620.3L985.2,614.7L992.8,607.1L1028.3,607.1L1032.0,618.1L1033.3,616.7L1035.2,611.7L1039.8,610.1L1040.3,609.7L1042.7,608.8L1045.5,607.4L1046.3,607.6L1048.1,607.0L1049.1,608.0L1054.4,609.1L1060.5,614.0L1067.9,606.6L1072.0,607.6M1025.7,647.0L1026.7,649.1L1028.4,649.1L1028.4,649.6L1029.1,648.2L1028.9,645.6L1025.3,647.1L1025.7,647.0M1003.1,576.2L1018.2,567.3L1026.7,560.1L1030.3,566.2L1047.7,567.4L1050.2,574.8L1057.9,578.6L1068.1,577.4L1075.6,576.4L1076.8,575.8L1075.5,564.5L1079.2,554.5L1085.5,543.2L1078.0,535.8L1070.5,530.8L1060.5,534.5L1054.2,530.8L1043.0,534.5L1035.5,532.0L1028.0,528.2L1014.2,529.5L1004.2,528.2L998.0,523.2L993.0,529.5L980.5,533.2L980.9,533.1L982.2,538.0L985.8,544.3L993.4,551.9L990.9,562.1L987.1,571.1L986.8,571.2L1003.1,576.2M988.3,594.2L984.6,581.9L983.4,572.3L987.1,571.1L990.9,562.1L993.4,551.9L985.8,544.3L982.2,538.0L980.9,533.1L980.5,533.2L973.1,532.2L971.0,532.8L968.3,535.5L968.4,535.5L968.4,552.5L955.4,549.9L942.9,546.2L930.4,542.4L917.6,539.8M917.6,572.8L930.4,571.6L938.4,569.0L939.6,581.9L945.8,591.7L955.7,596.6L968.2,602.8L978.1,606.6L988.7,605.3L988.3,606.1L996.2,599.5L988.3,594.2M983.3,614.7L988.7,605.3L978.1,606.6L968.2,602.8L955.7,596.6L945.8,591.7L939.6,581.9L938.4,569.0L930.4,571.6L917.6,572.8M917.6,592.8L923.3,604.2L933.5,611.9L928.6,619.3L938.2,622.8L951.2,629.4L950.9,629.7L960.5,632.1L971.5,630.8L975.2,622.2L977.8,620.3L983.3,614.7M937.8,496.6L925.3,501.7L918.7,508.2M917.6,539.8L930.4,542.4L942.9,546.2L955.4,549.9L968.4,552.5L968.4,535.5L968.3,535.5L968.0,535.8L962.3,534.5L962.0,534.5L950.8,532.0L949.5,524.5L952.6,516.2L953.0,514.5L954.2,502.0L960.5,494.5L963.0,482.0L963.1,482.4L963.2,482.0L963.5,481.5L963.8,480.2L963.7,480.1L960.2,485.5L950.3,490.4L937.8,496.6M917.9,511.5L920.9,499.6L927.2,487.1L928.4,475.4L917.6,475.4M1060.5,614.0L1054.4,609.1L1049.1,608.0L1055.8,614.7L1060.4,618.3L1060.6,618.1L1060.1,614.4L1060.5,614.0M1033.3,616.7L1039.8,610.1L1035.2,611.7L1033.3,616.7M1060.6,618.1L1067.7,609.7L1072.0,607.6L1067.9,606.6L1060.1,614.4L1060.6,618.1M1158.0,642.0L1164.2,633.2L1163.4,633.0L1158.3,640.2L1153.0,647.3L1158.0,642.0M1130.5,589.5L1133.0,574.5L1125.5,569.5L1115.5,565.8L1108.0,567.0L1100.5,579.5L1089.2,585.8L1088.0,599.5L1078.0,609.5L1087.9,599.6M1134.5,599.6L1135.5,602.0L1130.5,589.5M928.6,619.3L933.5,611.9L923.3,604.2L917.6,592.8M917.6,620.7L928.4,622.1L929.6,632.2L939.2,637.0L950.4,629.6L950.9,629.7L951.2,629.4L938.2,622.8L928.6,619.3M1026.7,649.1L1028.4,652.4L1028.4,649.1L1026.7,649.1M128.2,691.6L125.3,688.7L120.3,681.3L116.6,673.8L112.9,663.9L110.3,653.6M87.5,654.0L80.0,661.5L75.0,671.5L73.8,681.5L77.5,691.5L85.0,700.2L95.0,705.2L101.2,710.2L105.0,716.5L107.5,710.2L110.0,702.8L117.5,696.5L127.5,691.5L128.0,691.7L128.2,691.6M185.0,706.5L190.0,707.8L196.2,714.0L196.4,714.8L198.6,716.9L201.6,717.4L206.1,717.4L214.8,712.4L225.0,708.6L232.4,709.8L238.5,706.2L243.4,697.7L243.4,693.1L242.9,690.0L235.1,684.8L227.3,686.1L219.8,693.7L212.6,697.3L207.6,691.0L199.8,694.8L190.0,699.8L179.2,697.2L179.3,697.5L180.0,697.8L185.0,706.5M203.8,731.5L204.2,734.1L204.7,735.6L215.0,734.4L224.9,736.9L235.0,738.2L245.6,735.5L243.4,730.5L240.8,726.6L240.8,714.1L238.4,706.5L238.5,706.2L232.4,709.8L225.0,708.6L214.8,712.4L206.1,717.4L201.9,717.4L198.6,716.8L196.3,714.6L198.8,722.8L203.8,731.5M258.7,739.6L260.2,735.7L259.6,734.0L262.1,728.8L265.8,718.9L264.6,707.9L259.6,700.3L259.6,697.4L257.9,691.3L250.0,684.7L244.0,690.7L242.8,689.9L243.4,693.3L243.4,697.7L238.4,706.5L240.8,714.1L240.8,726.6L243.2,730.3L244.8,733.9L252.3,736.8L255.0,739.6M279.6,685.6L277.6,684.8L269.0,683.8L266.8,684.1L258.8,692.1L257.8,691.2L259.6,697.5L259.6,700.3L264.6,707.9L264.5,707.1L272.8,711.2L275.4,714.3L278.7,716.9L279.1,716.9L279.6,715.1M282.2,747.1L279.5,739.6M279.6,723.1L278.4,719.0L279.1,716.8L278.7,716.9L275.2,714.1L272.8,711.2L264.5,707.1L265.8,718.9L262.1,728.8L259.6,734.0L260.2,735.7L258.6,739.6M259.7,739.6L261.8,742.8L264.0,743.7L268.7,749.3L273.4,752.3L283.6,757.4L282.0,753.8L283.0,747.6L282.2,747.1M261.8,742.8L264.4,746.6L268.7,749.3L264.0,743.7L261.8,742.8M245.9,761.1L245.6,763.4L249.1,764.8L249.2,764.6L249.8,765.0L249.6,765.2L252.5,769.0L253.4,766.4L250.1,763.2L245.9,761.1M215.0,757.4L207.8,757.4L211.4,757.9L222.9,756.8L228.7,757.9L225.1,756.1L215.0,757.4M340.4,806.2L344.2,801.6L344.0,800.4M320.0,840.2L328.8,842.8L328.8,842.8L328.7,842.8L324.6,841.6L319.9,838.8L315.7,836.7L315.6,836.6L315.3,836.3L315.1,836.1L313.0,834.4L320.0,840.2M342.8,792.6L342.4,792.9L342.8,795.1L342.8,792.6M266.7,812.6L267.8,812.9L268.4,814.2L269.2,815.1L269.0,816.5L270.1,819.6L273.0,818.6L277.5,812.4L275.8,810.6L270.9,806.8L267.6,803.6L262.4,805.2L263.3,808.8L262.0,809.6L264.0,809.9L266.7,812.6M293.7,818.2L292.6,818.4L294.8,818.9L293.7,818.2M268.0,823.5L269.4,822.1L269.4,821.4L268.0,823.5M267.8,823.7L267.9,823.6L267.9,823.6L267.8,823.7M295.1,819.2L302.5,829.0L306.4,830.9L302.6,827.2L296.9,820.4L295.1,819.2M267.5,824.0L267.6,823.9L267.4,824.0L267.5,824.0M268.0,823.5L268.0,823.5L267.9,823.6L268.0,823.5M269.2,815.1L268.2,814.0L269.0,816.5L269.2,815.1M264.0,809.8L262.2,809.6L260.4,810.8L266.7,812.6L264.0,809.8M266.7,802.0L264.2,798.1L264.0,798.8L266.7,802.0M275.8,810.6L274.0,808.9L270.0,805.7L270.9,806.8L275.8,810.6M256.6,784.0L256.3,783.9L255.1,783.9L256.0,784.2L256.6,784.0M346.5,731.9L346.1,732.2L345.8,733.4L346.5,731.9M279.6,715.1L278.4,719.0L279.6,723.1M265.7,685.3L266.9,684.1L268.8,683.8L277.6,684.9L279.7,685.6M279.6,676.9L284.4,678.1L282.0,669.6M262.2,653.6L258.4,666.5L259.6,679.2L265.7,685.3M331.7,700.8L333.2,702.5L332.0,700.4M354.8,778.3L352.8,782.9L353.2,783.6L354.1,783.6L354.8,778.3M357.1,837.8L357.5,837.8L365.6,835.3M365.6,813.7L359.7,816.2L355.8,826.4L357.1,837.8M366.0,835.2L376.0,834.0L386.0,836.5L392.2,835.2L391.8,835.3L393.2,828.6L403.4,827.4L413.3,821.2L418.6,817.2L420.3,820.1L418.1,814.1L416.8,802.9L415.0,797.2L413.6,800.4M382.1,800.4L378.5,801.9L370.8,800.6M625.6,811.5L626.8,797.3L636.1,799.8L646.2,803.7L651.5,810.2L647.2,817.8L651.0,816.5L661.0,814.0L671.7,806.7M671.6,774.5L661.1,776.9L648.7,781.9L638.7,786.9L631.2,790.5L626.0,794.5L615.9,789.4L606.0,788.2L595.9,786.9L585.8,784.4L578.2,779.3L575.5,773.9L598.4,758.6L607.0,757.4L613.2,751.2L620.7,741.3L623.0,736.6L615.6,729.2L611.8,716.6L609.3,707.6L615.8,703.7L623.2,698.7L626.7,691.6L618.2,684.3L611.5,674.9L618.6,673.6L628.7,681.1L641.1,686.1L653.6,684.8L666.2,691.1L671.6,693.4M671.6,669.8L663.7,675.5L653.4,682.0L649.3,676.6L653.1,666.5L650.5,653.6M457.0,700.4L456.3,701.7L451.3,708.1L442.2,713.7L452.5,714.8L455.1,721.2L466.3,726.2L470.3,734.0L463.8,744.2L458.8,754.3L451.2,759.4L443.9,761.8L442.6,771.5L446.3,781.1L455.0,782.4L461.3,788.7L466.2,796.1L472.7,797.5L470.2,809.2L461.3,816.8L456.7,821.3L466.2,824.8L473.7,828.7L480.2,833.8M480.6,832.5L481.8,823.9L488.1,813.8L490.6,804.0L489.4,791.5L491.8,776.5L493.1,761.0L501.3,763.7L506.3,771.2L516.1,776.1L531.0,773.6L543.5,774.8L551.3,772.3L552.6,781.4L557.6,790.2L552.6,801.7L546.4,811.7L544.0,818.7L553.4,819.8L557.3,817.3L563.7,823.6L573.8,826.2L577.6,833.8L585.2,853.9L587.6,879.4L587.4,879.4L591.0,886.5L598.5,891.5L603.5,901.5L607.2,900.2L612.2,891.5L618.5,886.5L626.0,881.5L633.5,874.0L633.5,864.0L631.0,856.5L626.0,849.0L626.0,839.0L629.8,829.0L629.6,829.6L626.8,824.1L625.6,811.5M384.4,669.1L384.4,669.0L384.0,669.6M431.2,710.6L439.6,713.2L437.0,710.6L431.2,710.6M385.9,669.6L385.6,667.1L384.4,669.0L384.4,669.1M463.8,744.2L470.3,734.0L466.3,726.2L455.1,721.2L452.5,714.8L442.2,713.7L440.9,714.5L439.6,713.2L431.2,710.6L430.4,710.6M430.4,760.1L444.0,761.1L443.9,761.8L451.2,759.4L458.8,754.3L463.8,744.2M445.9,781.1L446.3,781.1L442.6,771.5L444.0,761.1L430.4,760.1M430.4,787.1L438.4,786.1L445.9,781.1M370.8,800.6L378.5,801.9L382.1,800.4M437.0,710.6L440.9,714.5L451.3,708.1L456.3,701.7L457.0,700.4M430.4,710.6L437.0,710.6M470.2,809.2L472.7,797.5L466.2,796.1L461.3,788.7L455.0,782.4L445.9,781.1L438.4,786.1L430.4,787.1M430.4,788.1L422.7,791.3L416.7,793.6L415.0,797.2L416.8,802.9L416.7,802.3L425.0,803.6L430.1,807.5L433.8,813.7L440.0,818.6L448.6,819.8L456.1,821.1L456.7,821.3L461.3,816.8L470.2,809.2M422.6,823.9L423.9,834.0L422.6,844.3L431.0,851.5L441.0,852.8L451.0,851.5L463.5,855.2L473.5,854.0L480.6,856.4M480.2,833.8L473.7,828.7L466.2,824.8L456.1,821.1L448.6,819.8L440.0,818.6L433.8,813.7L430.1,807.5L425.0,803.6L416.7,802.3L418.1,814.1L420.3,820.1L422.6,823.9M391.8,835.3L392.2,835.2L398.5,841.5L407.2,846.5L416.0,845.2L422.2,844.0L422.6,844.3L423.9,834.0L422.6,823.9L418.6,817.2L413.3,821.2L403.4,827.4L393.2,828.6L391.8,835.3M489.4,791.5L490.6,804.0L488.1,813.8L481.8,823.9L480.6,832.5L488.5,828.6L496.2,831.1L505.0,836.1L513.7,838.6L521.1,843.6L528.4,843.6L538.2,837.5L553.2,819.9L553.4,819.8L544.0,818.7L546.4,811.7L552.6,801.7L557.6,790.2L552.6,781.4L551.3,772.3L543.5,774.8L531.0,773.6L516.1,776.1L506.3,771.2L501.3,763.7L493.1,761.0L491.8,776.5L489.4,791.5M480.6,856.4L481.0,856.5L488.5,859.0L493.5,866.5L503.5,871.5L513.5,874.0L523.5,876.5L531.0,880.2L541.0,876.5L551.0,875.2L563.5,876.5L573.5,880.2L587.2,879.0L587.4,879.4L587.6,879.4L585.2,853.9L577.6,833.8L573.8,826.2L563.7,823.6L557.3,817.3L553.2,819.9L538.2,837.5L528.4,843.6L521.1,843.6L513.7,838.6L505.0,836.1L496.2,831.1L488.5,828.6L480.6,832.6M615.8,703.7L609.3,707.6L611.8,716.6L615.6,729.2L623.0,736.6L620.7,741.3L613.2,751.2L607.0,757.4L598.4,758.6L575.5,773.9L578.2,779.3L585.8,784.4L595.9,786.9L606.0,788.2L615.9,789.4L626.0,794.5L631.2,790.5L638.7,786.9L648.7,781.9L661.1,776.9L671.6,774.5M671.6,693.4L666.2,691.1L653.6,684.8L641.1,686.1L628.7,681.1L618.6,673.6L611.5,674.9L618.2,684.3L626.7,691.6L623.2,698.7L615.8,703.7M625.6,811.5L626.8,824.1L629.6,829.6L629.8,829.0L636.0,821.5L647.2,817.8L651.5,810.2L646.2,803.7L636.1,799.8L626.8,797.3L625.6,811.5M653.4,682.0L663.7,675.5L671.6,669.8M650.5,653.6L653.1,666.5L649.3,676.6L653.4,682.0M785.8,787.8L794.5,780.2L802.0,781.5L800.1,781.2L795.3,779.2L799.1,768.9L800.4,756.6L796.6,746.5L800.3,740.3M800.8,739.6L804.2,735.0L814.1,721.3L816.6,712.6L824.3,706.2L831.8,701.1L841.6,698.7L842.8,688.8L849.1,681.3L853.1,670.7L859.6,678.6L869.3,676.1L876.7,671.2L880.4,661.5L879.0,653.6M747.4,653.6L747.4,663.9L752.3,671.2L767.3,676.2L772.3,686.2L777.7,688.9L763.3,703.2L754.4,701.9L746.9,696.9L735.3,695.5L737.8,678.9L739.1,666.5L739.1,655.7L736.1,661.9L722.0,663.2L709.5,659.4L697.1,661.9L684.6,665.6L671.6,669.5M671.6,701.3L677.4,711.3L681.2,721.5L676.1,731.8L671.6,734.7M671.6,757.3L679.7,759.8L684.0,764.3L677.0,765.6L671.6,764.3M672.0,806.5L675.3,812.9L674.1,803.9L681.7,796.2L689.4,784.7L699.5,789.7L704.6,785.9L719.8,806.2L724.5,801.5L732.0,789.0L734.5,779.0L739.5,775.2L744.5,779.0L752.0,777.8L759.5,779.0L769.5,784.0L777.0,789.0L783.2,796.5L785.8,787.8M882.0,799.0L889.5,804.0L897.0,809.0L904.5,812.8L914.5,814.0L919.2,807.0L917.6,809.3M917.6,795.5L915.4,784.0L917.6,773.7M917.6,772.4L912.9,761.8L906.8,756.8L899.4,753.2L892.1,754.4L884.7,759.4L872.1,763.2L864.6,764.4L857.2,769.3L848.2,774.5L844.2,771.8L842.7,768.7L843.7,776.9L843.3,776.9L843.2,776.5L844.5,781.5L849.5,775.2L857.0,777.8L864.5,786.5L874.5,794.0L882.0,799.0M978.0,772.8L972.2,775.1L967.7,776.4L966.5,777.6L966.1,778.2L965.6,778.4L965.6,778.4L964.5,779.0L972.0,775.2L978.0,772.8M684.6,665.6L697.1,661.9L709.5,659.4L722.0,663.2L736.1,661.9L739.1,655.7L739.1,653.6M671.6,669.5L684.6,665.6M739.1,666.5L737.8,678.9L735.3,695.5L746.9,696.9L754.4,701.9L763.3,703.2L777.7,688.9L772.3,686.2L767.3,676.2L752.3,671.2L747.4,663.9L747.4,653.6M739.1,653.6L739.1,666.5M671.6,734.7L676.1,731.8L681.2,721.5L677.4,711.3L671.6,701.3M671.6,764.3L677.0,765.6L684.0,764.3L679.7,759.8L671.6,757.3M681.7,796.2L674.1,803.9L675.3,812.9L675.8,814.0L682.0,817.8L687.0,824.0L692.0,820.2L699.5,814.0L707.0,816.5L714.5,812.8L719.5,806.5L719.8,806.2L704.6,785.9L699.5,789.7L689.4,784.7L681.7,796.2M800.4,756.6L799.1,768.9L795.3,779.2L800.1,781.2L802.0,781.5L808.2,785.2L817.0,777.8L827.0,779.0L834.5,776.5L843.2,776.5L843.3,776.9L843.7,776.9L842.7,768.7L841.7,766.7L834.3,759.3L824.4,754.4L814.3,751.9L806.7,746.8L800.3,740.3L796.6,746.5L800.4,756.6M899.4,753.2L906.8,756.8L912.9,761.8L917.6,772.4M917.6,736.7L909.4,735.6L901.6,733.1L904.1,716.5L904.1,701.1L913.6,701.1L914.9,711.1L917.6,711.5M879.0,653.6L880.4,661.5L876.7,671.2L869.3,676.1L859.6,678.6L853.1,670.7L849.1,681.3L842.8,688.8L841.6,698.7L831.8,701.1L824.3,706.2L816.6,712.6L814.1,721.3L804.2,735.0L800.3,740.2L806.7,746.8L814.3,751.9L824.4,754.4L834.3,759.3L841.7,766.7L844.2,771.8L848.2,774.5L857.2,769.3L864.6,764.4L872.1,763.2L884.7,759.4L892.1,754.4L899.4,753.2M917.6,711.5L914.9,711.1L913.6,701.1L904.1,701.1L904.1,716.5L901.6,733.1L909.4,735.6L917.6,736.7M919.5,806.5L919.2,807.0L919.2,807.0L919.5,806.5M944.8,794.3L944.8,794.3L942.0,797.8L944.8,794.3M917.6,773.7L915.4,784.0L917.6,795.5M947.3,791.3L947.0,791.5L947.3,791.3L947.3,791.3M930.1,752.4L935.2,744.7L941.4,739.8L942.6,729.9L945.1,723.8L943.8,715.1L942.6,704.7L955.6,702.1L962.2,707.3L963.4,719.9L965.7,724.6L966.0,724.6L965.9,724.9L966.1,725.4L965.9,725.4L964.6,734.9L967.2,738.2L975.2,732.2L977.7,725.8L989.5,724.6L993.3,734.7L1008.0,742.1L1017.9,738.4L1027.3,736.0L1017.7,724.1L1012.9,720.4L1007.5,721.7L1010.1,709.9L1012.6,700.1L1007.6,692.6L1010.9,683.7L1005.7,687.9L995.5,690.4L986.6,686.5L980.2,680.2L977.5,672.2L986.7,670.8M994.9,669.7L992.7,664.1L984.9,660.1L992.7,649.7L1002.9,645.8L1013.1,645.8L1020.5,648.4L1025.3,647.1L1028.9,645.6L1028.8,645.0L1030.1,632.5L1031.4,618.6L1032.0,618.1L1028.3,607.1L992.8,607.1L985.2,614.7L975.2,622.2L971.5,630.8L960.5,632.1L950.4,629.6L939.2,637.0M939.7,637.3L937.2,647.4L946.0,657.5L938.1,665.5L927.8,660.3L917.6,654.0M917.6,706.9L925.8,709.7L930.8,719.8L937.2,729.8L939.8,735.3L928.0,736.6L917.6,736.6M917.6,773.3L930.5,775.8L941.4,774.6L942.6,764.1L932.7,760.3L930.1,752.4M972.2,775.1L978.0,772.8L985.5,772.5L993.0,775.0L1000.5,771.2L1009.2,772.5L1013.0,769.5L1012.7,769.8L1010.1,764.0L1005.1,755.1L1007.7,742.2L1008.0,742.1L993.3,734.7L989.5,724.6L977.7,725.8L975.2,732.2L967.2,738.2L968.5,740.0L962.2,747.7L960.9,755.2L953.8,762.3L964.5,764.7L967.2,776.3L967.1,776.5L972.2,775.1M1017.9,738.4L1007.7,742.2L1005.1,755.1L1010.1,764.0L1012.7,769.8L1013.0,769.5L1058.0,770.0L1063.0,765.0L1070.5,767.5L1074.2,755.0L1076.8,743.8L1080.5,745.0L1079.9,744.8L1075.2,737.7L1067.7,727.7L1062.1,720.7L1067.5,721.5L1065.9,719.8L1063.4,709.8L1055.7,702.2L1053.9,701.6L1048.0,700.4L1038.1,702.9L1028.3,707.8L1023.3,715.3L1013.1,720.4L1012.9,720.4L1017.7,724.1L1027.3,736.0L1017.9,738.4M1007.6,692.6L1012.6,700.1L1010.1,709.9L1007.5,721.7L1013.1,720.4L1023.3,715.3L1028.3,707.8L1038.1,702.9L1048.0,700.4L1054.1,701.6L1053.8,701.5L1055.1,692.4L1056.4,681.5L1045.3,677.9L1035.2,670.3L1030.1,657.6L1029.9,655.4L1025.7,647.0L1020.5,648.4L1021.0,648.5L1019.6,655.1L1015.8,662.7L1010.9,670.1L1012.2,682.7L1010.9,683.7L1007.6,692.6M1062.1,720.7L1067.7,727.7L1075.2,737.7L1079.9,744.8L1080.5,745.0L1085.5,732.5L1090.5,720.0L1098.0,710.0L1104.2,700.0L1110.2,692.8L1103.0,690.4L1093.2,692.9L1088.3,699.0L1085.9,704.0L1083.3,710.4L1073.5,709.3L1074.6,715.0L1072.0,723.1L1069.4,721.7L1062.1,720.7M1072.0,723.1L1074.6,715.0L1073.5,709.3L1083.3,710.4L1085.9,704.0L1088.3,699.0L1093.2,692.9L1103.0,690.4L1110.2,692.8L1110.5,692.5L1115.5,696.2L1120.5,690.0L1118.0,680.0L1118.1,680.4L1117.9,680.4L1110.2,674.1L1095.4,659.3L1090.5,661.6L1083.1,659.2L1073.3,667.8L1065.8,675.3L1056.9,681.6L1056.4,681.5L1055.1,692.4L1053.7,701.5L1055.7,702.2L1063.3,709.8L1065.8,719.8L1067.5,721.5L1069.5,721.8L1072.0,723.1M1028.4,649.6L1028.4,652.4L1029.9,655.5L1030.1,657.6L1035.2,670.3L1045.3,677.9L1056.9,681.6L1065.8,675.3L1073.3,667.8L1072.7,668.3L1070.1,652.5L1072.5,644.1L1065.2,642.8L1062.6,632.6L1060.1,618.7L1060.4,618.3L1055.8,614.7L1048.1,607.0L1046.4,607.6L1045.5,607.4L1042.5,608.9L1040.3,609.7L1031.4,618.6L1028.8,645.0L1029.1,648.1L1028.4,649.6M1062.6,632.6L1065.2,642.8L1072.5,644.1L1070.1,652.5L1072.7,668.3L1083.1,659.2L1090.5,661.6L1095.4,659.3L1102.7,666.5L1110.2,674.1L1117.9,680.4L1118.1,680.4L1118.0,680.0L1125.5,677.5L1135.5,670.0L1143.0,660.0L1150.5,650.0L1153.0,647.3L1158.3,640.2L1163.4,633.0L1158.0,632.0L1148.0,632.0L1140.5,624.5L1139.2,614.5L1135.5,602.0L1134.5,599.6M1087.9,599.6L1078.0,609.5L1078.0,604.5L1077.6,604.0L1077.6,604.8L1067.7,609.7L1060.1,618.7L1062.6,632.6M992.7,664.1L994.9,669.7M986.7,670.8L977.5,672.2L980.2,680.2L986.6,686.5L995.5,690.4L1005.7,687.9L1012.2,682.7L1010.9,670.1L1015.8,662.7L1019.6,655.1L1021.0,648.5L1013.1,645.8L1002.9,645.8L992.7,649.7L984.9,660.1L992.7,664.1M945.1,723.8L945.2,723.4L955.5,724.6L965.7,724.6L963.4,719.9L962.2,707.3L955.6,702.1L942.6,704.7L943.8,715.1L945.1,723.8M966.1,725.4L965.9,724.9L965.9,725.4L966.1,725.4M941.4,739.8L935.2,744.7L930.1,752.4L932.7,760.3L942.6,764.1L942.6,763.4L953.0,762.1L953.8,762.3L960.9,755.2L962.2,747.7L968.5,740.0L964.6,734.9L966.0,724.6L955.5,724.6L945.2,723.4L942.6,729.9L941.4,739.8M944.8,794.3L947.0,791.5L954.5,786.5L964.5,779.0L966.1,778.2L967.2,776.3L964.5,764.7L953.0,762.1L942.6,763.4L941.4,774.6L942.1,774.6L944.6,784.9L945.5,793.4L944.8,794.3L944.8,794.3M917.6,809.3L919.5,806.5L924.5,804.0L932.0,800.2L942.0,797.8L945.5,793.4L944.6,784.9L942.1,774.6L930.5,775.8L917.6,773.3M917.6,736.6L928.0,736.6L939.8,735.3L937.2,729.8L930.8,719.8L925.8,709.7L917.6,706.9M917.6,654.0L927.8,660.3L938.1,665.5L946.0,657.5L937.2,647.4L939.7,637.3L929.6,632.2L928.4,622.1L917.6,620.7M343.6,626.9L327.0,624.4L326.1,616.1L327.0,605.4L317.0,606.3L310.0,612.4L299.6,622.8M299.6,646.4L310.4,650.0L322.3,655.2L331.4,650.1L336.5,639.9L340.0,631.3L341.8,629.8L343.6,626.9M307.9,693.7L307.9,693.7L307.8,693.7L307.9,693.7M310.4,650.0L299.6,646.4M319.5,669.6L321.9,655.3L322.3,655.2L310.4,650.0M357.4,643.7L355.7,642.3L354.7,642.5L354.7,642.3L346.4,645.7L339.7,648.1L334.3,653.6L331.2,650.5L331.4,650.1L321.9,655.3L319.5,669.6M368.3,669.6L363.8,667.8L367.4,657.3L364.9,652.3L360.6,647.3L357.4,643.7M310.0,693.3L310.0,692.6L307.9,693.7L307.9,693.7L310.0,693.3M331.8,699.4L330.7,698.3L331.6,700.4M435.2,689.7L440.5,680.0L454.5,679.2L461.7,684.5L460.0,693.4L456.3,700.4M480.4,583.8L471.8,587.3L463.1,590.8L454.5,592.5L446.1,597.5L440.2,602.6L438.5,612.7L437.7,623.1L436.0,629.8L438.5,636.6L437.7,647.2L430.7,655.9L423.8,661.0L416.9,667.9L412.5,669.6M430.4,699.1L435.2,689.7M343.4,571.5L345.1,592.2L348.5,600.7L349.4,609.2L349.4,622.8L345.0,627.1L343.5,626.9L342.6,628.4L342.4,629.3L340.0,631.3L336.5,639.9L331.2,650.5L334.3,653.6L339.7,648.1L354.7,642.3L354.6,641.9L363.4,639.7L373.7,636.3L394.9,626.9L395.9,622.1L387.9,612.5L386.2,600.4L378.4,595.2L375.9,586.8L375.9,576.7L381.0,570.0L382.9,564.5L375.7,559.2L366.4,554.0L364.0,546.7L363.7,547.0L356.3,548.8L356.2,548.2L351.2,552.3L345.1,561.0L343.4,571.5M363.4,639.7L354.6,641.9L354.7,642.5L356.1,642.3L355.8,641.9L368.6,639.7L382.4,639.7L392.8,640.1L397.4,643.8L393.8,650.6L389.6,657.5L386.2,666.1L385.6,667.1L385.9,669.6M412.5,669.6L416.9,667.9L423.8,661.0L430.7,655.9L437.7,647.2L438.5,636.6L436.0,629.8L437.7,623.1L438.5,612.7L440.2,602.6L439.7,603.0L436.8,597.2L437.1,596.8L427.0,595.1L416.9,595.1L411.7,585.7L406.0,586.6L406.8,593.7L402.6,602.2L398.3,612.6L395.7,622.9L394.9,626.9L385.6,631.1L373.7,636.3L363.4,639.7M363.8,667.8L368.3,669.6M384.0,669.6L386.2,666.1L389.6,657.5L393.8,650.6L397.4,643.8L392.8,640.1L382.4,639.7L368.6,639.7L355.8,641.9L356.1,642.2L355.6,642.3L357.6,643.9L364.9,652.3L367.4,657.3L363.8,667.8M438.6,554.4L442.0,564.7L442.9,576.6L442.0,588.5L436.8,597.2L439.7,603.0L446.1,597.5L454.5,592.5L463.1,590.8L471.8,587.3L480.4,583.8M480.4,552.3L468.3,550.5L459.8,545.3L451.1,541.9L442.4,540.2L435.1,542.0L438.6,554.4M456.3,700.4L460.0,693.4L461.7,684.5L454.5,679.2L440.5,680.0L435.2,689.7L430.4,699.1M351.1,530.4L354.5,540.7L356.3,548.8L363.7,547.0L368.8,541.0L378.8,542.7L389.3,544.4L394.8,539.0L393.1,530.3L396.7,519.6M351.1,519.6L351.1,530.4M716.1,403.1L711.8,394.3L707.4,387.2L698.6,388.6L695.5,382.6L691.1,370.7L689.9,364.2L687.5,372.3L682.3,378.1L680.0,387.1L672.6,391.6L663.5,394.5L656.5,393.1L655.1,400.0L656.8,406.5L650.1,404.8L644.7,400.2L645.4,395.2L637.0,393.0L629.4,390.0L627.2,387.1L620.8,384.2L611.6,381.2L611.8,380.5L609.9,380.5L609.4,381.2L601.9,385.7L601.0,385.5L598.5,387.9L598.9,387.6L605.1,399.9L606.6,411.8L603.6,422.2L602.3,430.6L613.8,432.0L616.9,441.1L616.1,454.4M722.0,454.4L722.0,441.3L717.5,432.4L720.5,422.1L719.0,411.9L716.1,403.1M591.8,364.7L598.6,358.4L599.5,358.4L602.2,353.0L603.3,353.4L606.8,358.4L607.8,358.4L612.5,366.0L614.7,373.6L613.2,375.7L611.6,381.2L620.8,384.2L627.2,387.1L627.0,386.8L632.4,380.5L641.8,381.2L642.4,382.8L641.1,376.4L645.4,367.8L636.9,364.4L631.4,360.5L633.0,354.3L636.7,342.5L637.4,332.5L633.9,328.3L623.5,326.9L623.2,325.3L621.3,323.4L621.3,324.1L610.5,319.5L598.7,316.6L589.6,315.0M589.6,342.1L592.6,344.4L595.5,349.9L592.7,352.9L589.6,354.1M589.6,358.9L591.8,364.7M632.2,339.3L633.0,344.2L627.1,351.8L619.5,356.3L609.0,355.5L601.9,351.6L605.9,345.4L608.8,340.0L619.4,338.6L632.2,339.3M633.0,354.3L631.4,360.5L636.9,364.4L645.4,367.8L645.6,367.3L651.6,364.4L656.0,359.9L656.3,359.9L652.5,357.4L654.7,355.6L662.1,359.3L663.6,359.2L669.5,362.8L678.2,361.4L689.5,362.1L688.1,357.4L691.0,351.5L685.3,344.3L681.5,335.3L683.7,325.1L679.7,321.2L680.8,321.5L680.8,316.3L677.8,307.5L674.7,299.6M622.0,299.6L622.0,314.7L621.8,317.7L622.3,320.7L622.5,324.7L623.2,325.4L623.5,326.9L633.9,328.3L637.4,332.5L636.7,342.5L633.0,354.3M646.2,394.4L656.7,392.1L656.5,393.1L663.5,394.5L672.6,391.6L680.0,387.1L682.3,378.1L687.5,372.3L689.9,364.2L689.6,362.6L689.5,362.1L678.2,361.4L669.5,362.8L663.6,359.2L656.0,359.9L651.6,364.4L645.6,367.3L641.1,376.4L642.4,382.8L644.1,386.7L646.2,394.4M637.0,393.0L645.4,395.2L645.5,394.6L646.2,394.4L644.1,386.7L641.8,381.2L632.4,380.5L627.0,386.8L629.4,390.0L637.0,393.0M644.7,400.2L650.1,404.8L656.8,406.5L655.1,400.0L656.7,392.1L645.5,394.6L644.7,400.2M594.2,384.2L601.9,385.7L609.4,381.2L609.8,380.6L611.8,380.6L612.4,378.7L612.1,377.3L614.7,373.6L612.5,366.0L607.8,358.4L603.9,358.4L600.9,355.4L599.4,358.4L598.6,358.4L591.9,364.5L589.6,369.0M589.6,379.6L594.2,384.2M616.1,454.4L616.9,441.1L613.8,432.0L602.3,430.6L603.6,422.2L606.6,411.8L605.1,399.9L598.9,387.6L589.6,395.4M605.9,345.4L601.9,351.6L609.0,355.5L619.5,356.3L627.1,351.8L633.0,344.2L632.2,339.3L619.4,338.6L608.8,340.0L605.9,345.4M589.6,315.0L598.7,316.6L610.5,319.5L621.3,324.1L622.0,314.7L622.0,299.6M689.6,362.6L691.1,370.7L695.5,382.6L698.6,388.6L707.4,387.2L707.1,386.7L716.3,379.1L722.2,374.7L731.0,370.3L736.8,364.4L742.5,358.6L744.0,348.6L739.6,338.3L736.7,329.5L736.7,319.0L737.2,317.4L736.3,312.1L735.3,310.6L734.8,310.3L731.9,312.2L731.6,313.4L725.6,319.3L721.1,327.0L711.9,322.4L703.2,316.6L696.1,319.4L690.1,325.5L681.0,322.5L683.7,325.1L681.5,335.3L685.3,344.3L691.0,351.5L688.1,357.4L689.6,362.6M680.8,322.3L680.8,321.5L679.7,321.2L680.8,322.3M680.8,316.3L680.8,322.4L690.1,325.5L696.1,319.4L703.2,316.6L702.7,316.3L707.2,308.7L706.4,304.0L705.0,299.6M674.7,299.6L677.8,307.5L680.8,316.3M702.7,316.3L711.9,322.4L721.1,327.0L725.6,319.3L731.6,313.4L732.8,309.4L732.2,309.1L730.7,299.6M705.7,299.6L707.2,308.7L702.7,316.3M738.2,314.3L770.4,312.8M730.7,299.6L732.2,309.1L733.4,309.6L734.1,310.8L734.9,310.4L735.3,310.6L736.2,312.0L736.8,315.2L737.1,315.6L737.8,314.9L737.3,313.6L738.1,314.8L738.2,314.3M744.0,348.6L742.5,358.6L742.9,358.2L744.6,360.0L751.9,364.3L759.0,362.8L764.7,361.5L767.5,354.3L766.1,342.5L770.4,337.1M770.4,312.8L751.8,313.6L738.2,314.3L736.7,319.0L736.7,329.5L739.6,338.3L744.0,348.6M719.0,411.9L718.8,410.7L721.0,412.7L729.5,408.4L739.8,404.0L748.6,398.2L757.3,393.8L760.3,386.6L766.1,379.2L767.5,370.6L764.8,362.4L764.2,362.7L764.6,361.8L764.5,361.6L764.7,361.5L764.7,361.5L759.0,362.8L751.9,364.3L744.6,360.0L742.9,358.2L736.8,364.4L731.0,370.3L722.2,374.7L716.3,379.1L707.1,386.7L711.8,394.3L716.1,403.1L719.0,411.9M766.1,379.2L760.3,386.6L757.3,393.8L748.6,398.2L739.8,404.0L729.5,408.4L721.0,412.7L718.8,410.7L720.5,422.1L717.5,432.4L722.0,441.3L722.0,454.4M770.4,359.0L764.8,362.4L767.5,370.6L766.1,379.2M764.5,361.6L764.6,361.8L764.7,361.5L764.5,361.6M766.1,342.5L767.5,354.3L764.2,362.7L770.4,359.0M770.4,337.1L766.1,342.5M347.9,733.1L348.6,733.3L349.2,732.8L347.9,733.1M413.6,800.4L416.7,793.6L422.7,791.3L430.4,788.1M430.4,713.9L421.4,711.4L416.3,716.5L411.1,708.7L404.1,706.4L396.6,711.3L388.9,710.1L385.1,703.8L377.5,698.7L376.5,694.6L371.8,701.6L368.3,699.2L367.2,707.2L369.7,715.8L373.5,723.4L369.5,727.3L361.9,731.1L354.3,732.4L353.2,731.9L349.4,732.8L357.1,735.3L362.1,739.1L365.9,746.8L367.2,755.5L364.6,762.1L354.6,762.1L349.8,766.8L351.1,771.5L356.1,775.3L354.8,778.3L354.1,783.6L354.6,783.6L359.6,788.7L367.1,793.7L372.5,800.4M386.3,800.4L385.0,795.3L383.7,784.0L386.3,775.1L394.2,772.4L399.3,781.3L409.3,788.8L411.9,800.4M298.4,697.0L304.7,694.4L307.8,693.7L310.0,692.6L310.0,684.6L318.6,681.9L322.4,689.6L329.9,696.5L330.7,698.3L331.8,699.4L334.2,694.5L341.9,688.1L349.5,691.9L357.1,693.2L362.0,699.4L368.5,698.0L368.3,699.2L371.8,701.6L376.5,694.6L376.3,693.6L377.5,679.9L378.8,669.6M282.0,669.6L284.4,678.1L285.3,678.4L289.0,687.1L295.2,691.5L297.1,697.9L297.0,698.2L297.2,698.2L298.4,697.0M309.6,716.7L315.6,710.8L313.1,702.3L310.0,693.3L304.7,694.4L298.4,697.0L297.0,698.4L294.0,706.0L295.3,713.2L302.4,717.9L309.6,716.7M313.1,702.3L315.6,710.8L315.9,710.4L323.3,713.0L329.2,708.2L331.2,700.2M331.7,700.8L329.9,696.5L322.4,689.6L318.6,681.9L310.0,684.6L310.0,693.7L313.1,702.3M333.2,702.5L336.1,705.8L338.6,711.8L344.8,715.6L348.6,722.0L349.8,729.7L349.4,730.0L354.3,732.4L361.9,731.1L369.5,727.3L373.5,723.4L369.7,715.8L367.2,707.2L368.5,698.0L362.0,699.4L357.1,693.2L349.5,691.9L341.9,688.1L334.2,694.5L331.6,699.8L333.2,702.5M316.3,732.9L318.5,739.6M340.4,742.8L344.2,736.6L345.2,735.9L346.1,732.2L349.8,729.7L348.6,722.0L344.8,715.6L338.6,711.8L336.1,705.8L331.2,700.2L329.2,708.2L323.3,713.0L315.9,710.4L309.6,716.7L302.4,717.9L295.3,713.2L295.4,713.8L287.5,713.8L279.6,720.5M303.9,739.6L305.7,736.7L309.6,731.6L316.3,732.9M283.1,747.0L280.0,740.8L282.2,747.2L283.0,747.6L283.1,747.0M318.5,739.6L316.3,732.9L309.6,731.6L305.7,736.7L303.9,739.6M283.6,757.4L283.7,757.4L283.6,757.1L283.6,757.4M364.6,762.1L367.2,755.5L365.9,746.8L362.1,739.1L357.1,735.3L349.3,732.8L348.6,733.3L348.0,733.1L345.6,733.7L345.1,736.0L344.2,736.6L340.4,742.8M340.4,762.0L355.4,761.2L354.6,762.1L364.6,762.1M376.3,693.6L377.5,698.7L385.1,703.8L388.9,710.1L396.6,711.3L404.1,706.4L411.1,708.7L416.3,716.5L421.4,711.4L420.8,711.2L422.2,703.2L430.4,700.4M378.8,669.6L377.5,679.9L376.3,693.6M420.8,711.2L430.4,713.9M430.4,700.4L422.2,703.2L420.8,711.2M342.4,792.9L342.8,792.6L342.8,792.5L346.6,788.7L351.7,783.6L352.5,783.6L356.1,775.3L351.1,771.5L349.8,766.8L355.4,761.2L342.0,762.0L340.4,762.0M340.4,792.5L342.3,792.3L342.4,792.9M372.5,800.4L367.1,793.7L359.6,788.7L354.6,783.6L351.7,783.6L346.6,788.7L342.8,792.5L342.8,795.1L343.7,800.4M342.3,792.3L340.4,792.5M343.7,800.4L342.3,792.3M383.7,784.0L385.0,795.3L386.3,800.4M411.9,800.4L409.3,788.8L399.3,781.3L394.2,772.4L386.3,775.1L383.7,784.0M279.6,720.5L287.5,713.8L295.4,713.8L294.0,706.0L296.5,699.9L297.1,697.9L295.2,691.5L289.0,687.1L285.3,678.4L279.6,676.9M340.4,747.2L331.5,750.7L323.3,747.2L317.0,739.6M310.3,739.6L309.1,744.8L303.0,749.7L297.2,747.3L291.5,750.7L284.3,748.3L280.6,739.6M279.5,739.6L283.1,747.0L282.0,753.8L283.7,757.4L285.1,758.1L282.9,765.0L287.0,767.1L295.0,768.2L302.9,770.5L312.0,768.2L325.7,764.8L340.4,761.2M284.3,748.3L291.5,750.7L297.2,747.3L303.0,749.7L309.1,744.8L310.3,739.6M280.6,739.6L284.3,748.3M323.3,747.2L331.5,750.7L340.4,747.2M317.0,739.6L323.3,747.2M205.0,764.0L212.5,771.5L220.0,779.0L220.0,780.1L221.2,780.3L221.3,779.8L227.3,773.9L237.6,771.6L245.6,769.4L249.1,764.7L243.6,762.5L234.4,759.0L222.9,756.8L211.4,757.9L203.0,756.7L203.0,758.0L205.0,764.0M249.8,765.0L249.5,764.9L249.7,765.2L249.8,765.0M250.1,763.2L253.3,766.4L253.6,765.8L259.6,768.2L268.7,770.5L279.8,773.8L282.1,764.6L282.9,765.0L285.1,758.1L273.4,752.3L264.4,746.6L259.7,739.6M245.4,739.6L246.5,751.4L245.4,760.8L250.1,763.2M256.9,783.9L259.4,783.1L268.5,779.6L278.6,776.3L279.7,774.2M279.8,773.8L268.7,770.5L259.6,768.2L253.6,765.8L252.5,768.9L253.0,769.5L254.2,777.7L253.2,782.6L253.4,783.3L255.1,783.9L256.9,783.9M300.3,801.9L298.0,794.0L293.5,786.0L286.7,778.1L278.3,776.9L278.6,776.3L268.5,779.6L259.4,783.1L256.0,784.2L256.1,784.2L261.9,785.4L268.8,787.6L275.7,793.5L282.7,798.0L287.2,803.8L290.6,807.1L300.3,807.1M293.5,786.0L298.0,794.0L300.3,801.9M300.7,807.1L314.3,803.7L317.6,802.6L323.3,796.9L330.3,793.4L340.4,791.0M340.4,761.2L325.7,764.8L312.0,768.2L302.9,770.5L295.0,768.2L287.0,767.1L282.1,764.6L279.7,774.2L278.3,776.9L286.7,778.1L293.5,786.0M315.7,836.7L319.9,838.8L324.6,841.6L328.7,842.8L328.8,842.8L337.5,839.0L340.4,838.7M340.4,833.1L334.6,822.6L331.1,814.3L334.7,806.0L340.4,803.5M340.4,791.0L330.3,793.4L323.3,796.9L317.6,802.6L314.3,803.7L315.0,803.5L313.1,809.9L311.3,815.5L312.5,824.5L314.8,831.4L316.1,836.8L315.6,836.6L315.7,836.7M334.7,806.0L331.1,814.3L334.6,822.6L340.4,833.1M340.4,803.5L334.7,806.0M285.0,816.5L292.6,818.4L293.7,818.2L294.8,818.9L295.0,819.0L295.1,819.2L296.9,820.4L302.6,827.2L306.4,830.9L312.5,834.0L315.6,836.6L316.1,836.8L314.8,831.4L312.5,824.5L311.3,815.5L313.1,809.9L315.0,803.5L300.7,807.1L290.6,807.1L291.0,807.5L287.0,811.4L282.4,809.1L277.8,812.6L277.5,812.4L273.0,818.6L270.1,819.6L270.2,820.2L269.4,821.4L269.4,822.1L272.5,819.0L285.0,816.5M268.3,804.4L274.0,808.9L277.8,812.6L282.4,809.1L287.0,811.4L291.0,807.5L287.2,803.8L282.7,798.0L275.7,793.5L268.8,787.6L261.9,785.4L256.1,784.2L256.5,784.3L255.4,787.9L258.6,791.2L264.6,797.1L264.2,798.1L268.3,804.4M240.0,811.7L246.8,810.5L252.6,808.2L260.4,810.8L263.4,808.8L262.2,804.1L264.6,797.1L255.4,787.9L256.5,784.3L253.1,783.2L254.2,777.7L253.0,769.5L249.2,764.5L245.6,769.4L237.6,771.6L227.3,773.9L221.3,779.8L221.2,780.3L219.9,780.0L220.0,789.0L222.5,799.0L232.5,804.0L234.1,810.5L240.0,811.7M267.6,823.9L267.9,823.6L270.2,820.2L267.8,812.9L259.6,810.5L252.6,808.2L246.8,810.5L240.0,811.7L234.1,810.5L235.0,814.0L245.0,820.2L252.5,824.0L260.0,826.5L267.4,824.0L267.6,823.9M828.8,345.5L833.8,352.1L837.2,355.6L832.3,362.3L830.6,370.5M889.9,370.5L886.7,362.5L877.3,360.9L870.9,362.5L864.1,364.2L860.7,355.7L857.4,346.0L854.3,336.5L849.5,334.9L843.1,331.7L836.5,330.1L831.1,325.5L831.7,325.3L828.6,326.0L823.5,323.5L820.2,318.6L815.9,317.2L812.7,321.8L807.8,328.5L799.6,330.1L789.8,332.5L779.6,333.3M812.1,370.5L810.4,360.6L808.8,350.5L818.8,347.1L828.8,345.5M810.4,360.6L812.1,370.5M830.6,370.5L832.3,362.3L837.2,355.6L833.8,352.1L828.8,345.5L818.8,347.1L808.8,350.5L810.4,360.6M815.9,317.2L820.2,318.6L823.5,323.5L828.6,326.0L831.7,325.3L837.0,323.3L839.1,322.3L838.9,321.4L840.0,320.5L834.7,313.7L833.8,310.0L837.7,307.7L833.3,304.0L826.9,300.9M810.7,299.3L804.1,295.9L800.2,292.8L794.6,294.4L786.4,293.6L779.6,291.1M779.6,333.3L789.8,332.5L799.6,330.1L807.8,328.5L815.9,317.2M800.2,292.8L799.8,292.5L802.3,284.3L801.5,276.2L803.9,268.1L800.7,261.6L802.3,255.2L799.3,250.7L799.2,250.6L799.1,250.5L798.6,249.7L798.9,249.7L796.5,241.0L804.2,239.3L809.3,237.9L805.5,232.6L803.1,226.0L803.9,217.5L804.2,217.4L803.9,217.4L790.2,215.9L782.0,217.5L779.7,214.2M779.6,291.1L786.4,293.6L794.6,294.4L800.2,292.8M827.9,243.9L822.0,240.9L815.6,239.3L809.8,238.5L809.3,237.9L804.2,239.3L796.5,241.0L798.9,249.7L805.9,251.5L812.5,250.7L818.0,253.8L827.9,243.9M799.2,250.6L799.3,250.7L799.1,250.5L799.2,250.6M805.5,232.6L809.8,238.5L815.6,239.3L822.0,240.9L827.9,243.9L834.8,237.0L840.4,230.6L842.0,225.8L842.9,220.5L843.6,220.9L843.9,217.3L843.2,212.5L839.5,208.8L834.3,207.9L830.7,208.8L827.0,212.5L822.4,213.9L822.0,214.2L820.9,214.3L814.5,216.2L804.5,217.5L804.2,217.4L803.9,217.5L803.1,226.0L805.5,232.6M864.0,295.8L867.8,300.5M868.3,299.9L871.2,303.5L873.1,308.8L875.3,298.6L881.9,296.1L890.1,292.0L898.3,291.2L899.8,291.4L900.4,291.1L900.7,288.7L899.5,277.5L895.8,266.2L892.0,257.5L890.2,255.7L887.3,254.8L884.0,249.4L881.6,246.4L875.8,244.2L869.5,245.0L869.2,244.8L868.7,248.8L864.6,253.7L861.5,261.8L858.2,268.2L857.4,272.7L861.3,275.8L868.0,277.5L866.2,284.6L860.2,286.3L859.9,286.3L860.7,291.0L864.0,295.8M876.3,360.7L883.2,355.5L880.9,349.3L877.8,343.0L873.8,339.8L865.7,338.8L872.4,336.6L880.5,337.4L889.9,335.8L893.2,329.5L896.4,326.2L893.6,326.8L883.7,327.7L875.6,328.5L867.9,329.3L867.9,328.4L867.9,328.4L863.3,329.3L862.9,328.6L859.7,334.8L854.6,336.6L854.3,336.5L857.4,346.0L860.7,355.7L864.1,364.2L870.9,362.5L877.3,360.9L876.3,360.7M886.7,362.5L889.9,370.5M911.9,370.5L912.3,367.9L911.7,358.8L908.9,351.8L906.4,348.8L902.8,345.7L902.8,346.1L895.3,351.1L888.8,354.4L883.5,356.1L883.2,355.5L876.3,360.7L886.7,362.5M834.8,237.0L818.0,253.8L818.3,254.0L824.0,258.0L830.5,260.4L836.9,264.5L842.7,269.4L846.8,274.4L850.0,280.9L854.1,284.8L854.6,285.6L860.2,286.3L866.2,284.6L868.0,277.5L861.3,275.8L857.4,272.7L858.2,268.2L861.5,261.8L864.6,253.7L868.7,248.8L869.2,244.8L862.0,238.8L858.3,236.7L856.4,236.1L855.2,234.9L853.2,233.8L853.0,232.8L852.6,232.3L852.9,231.7L852.0,226.2L845.0,221.6L842.9,220.5L842.0,225.8L840.4,230.6L834.8,237.0M800.7,261.6L803.9,268.1L801.5,276.2L802.3,284.3L799.8,292.5L804.1,295.9L810.7,299.3M826.9,300.9L833.3,304.0L837.7,307.7L838.2,307.4L843.9,305.8L848.5,303.4L850.1,295.6L848.5,287.5L849.4,280.3L850.0,280.9L846.8,274.4L842.7,269.4L836.9,264.5L830.5,260.4L824.0,258.0L818.3,254.0L812.5,250.7L805.9,251.5L798.6,249.7L802.3,255.2L800.7,261.6M848.5,303.4L843.9,305.8L838.2,307.4L833.8,310.0L834.7,313.7L839.7,320.3L843.5,324.1L844.9,324.4L851.2,326.8L854.3,324.5L857.8,318.3L860.6,323.0L863.1,328.1L862.9,328.6L863.3,329.3L867.9,328.4L867.9,328.1L867.9,320.1L865.6,313.8L860.6,310.3L863.2,305.2L863.7,304.6L861.5,297.2L858.1,290.6L854.1,284.8L849.4,280.3L848.5,287.5L850.1,295.6L848.5,303.4M836.5,330.1L843.1,331.7L849.5,334.9L854.6,336.6L859.7,334.8L863.1,328.1L860.6,323.0L857.8,318.3L854.3,324.5L851.2,326.8L844.9,324.4L838.4,322.8L831.1,325.5L836.5,330.1M867.9,329.3L893.6,326.8L896.4,326.2L900.6,324.4L901.8,323.6L902.1,323.0L902.0,322.5L904.5,312.5L907.0,305.0L905.6,299.4L905.2,298.8L905.3,298.2L904.5,295.0L901.1,290.3L900.4,290.7L900.3,291.0L899.7,291.3L898.3,291.2L890.1,292.0L881.9,296.1L875.3,298.6L873.1,308.8L871.2,303.5L868.3,299.9L863.2,305.2L860.6,310.3L865.6,313.8L867.9,320.1L867.9,329.3M893.2,329.5L889.9,335.8L880.5,337.4L872.4,336.6L865.7,338.8L873.8,339.8L877.8,343.0L880.9,349.3L883.5,356.1L888.8,354.4L895.3,351.1L902.8,346.1L902.8,345.8L903.5,345.3L903.3,345.0L904.6,332.5L902.2,323.4L900.6,324.4L896.5,326.1L893.2,329.5" fill="none" stroke="#151515" stroke-width="0.95" stroke-linejoin="round" stroke-linecap="round"/>
<path d="M262.6,681.1L271.4,677.5L280.5,674.9M280.5,674.9L281.7,671.5M282.8,668.9L287.1,657.5M287.1,657.5L284.3,654.4M298.9,654.5L287.1,657.5M602.0,392.0L606.8,383.6M476.5,586.2L479.6,586.7M356.8,775.2L361.0,771.8M361.0,771.8L354.1,763.7M369.1,711.0L377.4,710.9L385.3,713.3M385.3,713.3L388.0,710.1M385.1,835.5L379.7,829.7L373.8,824.3M373.8,824.3L366.4,825.3M361.0,771.8L369.4,774.1L377.9,775.9M377.9,775.9L380.7,774.6M380.7,774.6L384.4,766.7L389.7,760.0L394.5,752.9L399.4,745.8M399.4,745.8L396.0,739.6L394.5,732.5L390.1,726.6L387.1,720.2L385.3,713.3M373.8,824.3L374.4,816.9L375.2,809.6L375.7,802.2M375.9,799.6L377.2,791.8L376.0,783.7L377.9,775.9M438.2,624.0L444.1,623.6M444.1,623.6L447.1,617.0L452.1,611.4L453.5,603.9L458.0,598.1L461.6,591.9M415.7,794.0L410.6,791.1M385.0,776.9L380.7,774.6M431.1,690.9L433.3,691.9M465.8,640.0L458.6,634.4L451.7,628.6L444.1,623.6M429.6,744.5L422.1,744.4L414.5,744.8L407.0,746.2L399.4,745.8M495.7,640.0L498.7,633.1M559.6,640.0L563.1,633.0L565.7,625.6M565.7,625.6L563.8,622.0M590.0,627.5L581.8,628.0L573.8,626.3L565.7,625.6M553.3,598.1L558.1,590.7M780.4,311.5L783.3,312.0M783.3,312.0L788.2,303.8L791.7,294.9M705.3,392.0L704.1,388.5M706.9,392.0L708.6,390.6M809.8,392.0L810.4,384.7L808.6,377.3L808.7,370.0L810.0,362.6M810.1,349.3L810.2,340.3M810.2,340.3L803.1,336.9L795.3,335.3M795.3,335.3L789.9,340.7L782.5,343.4L777.8,349.7L771.2,353.4M795.3,335.3L790.4,328.0L787.6,319.6L783.3,312.0M850.4,381.8L852.6,375.1L853.4,368.1L855.7,361.4L855.9,354.3L857.1,347.4M855.0,341.2L844.4,333.2M839.2,331.5L831.9,333.4L824.9,336.6L817.7,338.9L810.2,340.3M909.5,635.6L896.0,633.5M896.0,604.3L905.2,599.8M901.9,436.3L909.4,433.6L915.5,428.0L923.1,425.2L930.3,421.7M930.3,421.7L929.9,416.9M920.5,474.2L921.2,471.8M921.2,471.8L913.6,467.1L907.7,460.4M921.2,471.8L928.9,470.1L936.6,467.9L944.3,465.9L952.3,465.5M952.3,465.5L950.7,452.3M933.1,423.4L930.3,421.7M940.1,734.2L941.3,726.2L942.6,718.1M942.6,718.1L941.4,716.3M940.0,669.0L949.0,664.0L956.8,657.3M956.8,657.3L955.1,645.2M955.1,645.2L947.7,641.6L940.3,637.9M972.8,733.1L975.4,729.7M976.7,726.4L970.3,719.6M970.3,719.6L964.1,719.3M941.4,716.3L942.6,711.3M944.4,703.5L947.3,691.3M947.3,691.3L940.0,683.0M955.1,645.2L960.2,638.8L965.2,632.5M958.7,485.4L956.9,476.7L955.5,468.0M955.5,468.0L952.3,465.5M955.5,468.0L962.7,466.2M947.3,691.3L955.9,689.6L964.5,689.4L973.2,689.4M974.6,688.1L972.1,680.7L969.1,673.4L964.1,667.1L961.4,659.8M961.4,659.8L956.8,657.3M961.4,659.8L968.5,658.3L975.4,656.1L982.7,655.5L989.5,652.8M991.6,649.9L993.9,639.9M993.9,639.9L988.3,633.9M988.3,633.9L980.6,633.3L972.8,634.2L965.2,632.5M970.3,719.6L971.4,712.1L972.0,704.5L972.1,696.9L973.2,689.4M996.8,599.9L1003.0,595.9M1003.0,595.9L1002.6,585.8L1000.1,576.1M974.6,688.1L985.2,686.2M989.1,723.9L994.5,717.8L1001.4,713.5L1007.3,708.0M1007.3,708.0L1006.3,702.5M1006.3,702.5L999.0,696.5L992.2,689.8M988.3,633.9L986.8,625.6L987.8,617.2L987.5,608.9M1021.3,736.8L1022.4,731.0M1009.4,709.6L1007.3,708.0M1043.6,567.9L1047.1,576.0L1051.8,583.4M1051.8,583.4L1064.0,578.6M993.9,639.9L1003.0,637.7M1003.0,637.7L1007.4,630.6L1013.8,625.1L1018.8,618.5M1018.8,618.5L1018.6,610.3L1016.1,602.4M1016.1,602.4L1009.9,598.6L1003.0,595.9M1006.3,702.5L1010.5,698.2M1020.8,647.5L1012.2,642.0L1003.0,637.7M1016.1,602.4L1022.3,598.2L1029.8,597.0L1036.4,593.8L1043.3,591.2L1049.6,587.3M1049.6,587.3L1051.6,585.0M1030.1,625.0L1018.8,618.5M1048.2,606.3L1048.0,596.7L1049.6,587.3M1073.6,605.9L1067.6,601.2L1062.0,596.0L1057.4,589.8L1051.6,585.0M101.8,632.9L99.8,631.1M101.8,632.9L109.8,633.2M109.8,633.2L112.2,626.4L116.5,620.6L119.9,614.4M119.9,614.4L116.4,607.6M110.8,596.7L108.1,591.3M108.1,591.3L103.2,592.4M108.1,591.3L110.7,586.6M110.7,586.6L108.1,578.9L107.7,570.7M124.4,686.0L125.7,682.3M125.7,682.3L119.5,677.8M113.7,663.7L115.8,653.8L117.5,643.8M117.5,643.8L109.8,633.2M119.9,614.4L125.5,613.8M144.5,593.5L149.8,583.8M149.8,583.8L149.5,581.2M149.5,581.2L147.7,579.4M147.7,579.4L140.2,580.2L132.8,581.7L125.6,584.1L118.2,585.4L110.7,586.6M113.9,550.8L112.1,552.0M147.7,579.4L147.0,572.3L144.7,565.6M144.7,565.6L138.7,561.5L133.6,556.6L128.3,551.7M128.3,551.7L121.0,552.5L113.9,550.8M113.9,550.8L113.8,548.6M133.3,475.3L138.3,473.1M138.3,473.1L142.2,465.7M142.2,465.7L136.5,460.8L129.8,457.3L124.0,452.5M142.2,465.7L148.0,463.3M148.0,463.3L149.1,455.6L150.3,448.0L150.4,440.2L152.7,432.7M152.7,432.7L146.8,426.0L139.8,420.5M139.8,420.5L131.3,423.5M147.0,690.2L146.9,687.1M146.9,687.1L138.4,681.7M138.4,681.7L125.7,682.3M128.3,551.7L133.4,543.1M139.8,420.5L141.4,414.3M172.3,338.4L178.9,334.9M178.9,334.9L180.4,331.0M180.4,331.0L178.3,317.9M144.7,565.6L150.9,560.0L155.8,553.4L160.6,546.6M117.5,643.8L126.7,643.9L135.9,644.0L145.0,645.4M147.6,623.9L145.3,622.0M143.7,620.8L137.5,615.8M139.3,477.5L138.3,473.1M138.4,681.7L140.5,674.9L143.5,668.3L143.2,660.8L146.3,654.2M187.1,499.8L182.4,497.7M163.9,655.2L173.3,658.3M173.3,658.3L177.2,652.3L181.5,646.5L184.2,639.9M184.2,639.9L175.8,632.7M158.5,595.8L155.1,589.1L149.8,583.8M149.5,581.2L159.0,578.2L168.9,576.2M175.4,573.9L178.1,567.0L180.6,559.9M180.6,559.9L175.0,552.4L169.8,544.6M172.7,693.2L166.3,689.6L160.7,684.9M154.3,685.9L146.9,687.1M169.5,484.6L166.0,476.6L164.4,468.1M164.4,468.1L156.0,466.3L148.0,463.3M149.0,405.5L157.2,402.0L164.7,397.3M164.7,397.3L164.9,387.4L165.3,377.4M165.3,377.4L161.7,375.0M152.7,432.7L160.6,430.9L168.7,430.0L176.9,430.1M176.9,430.1L177.3,423.7M177.8,416.9L178.5,407.8M178.5,407.8L171.1,403.2L164.7,397.3M160.7,684.9L164.8,676.8L169.4,669.0L174.1,661.2M174.1,661.2L173.3,658.3M178.8,605.6L180.8,604.9M178.5,407.8L183.3,405.7M192.9,398.1L194.9,390.1L196.3,381.9M196.3,381.9L192.4,375.1L186.9,369.6M186.9,369.6L179.4,371.4L172.0,373.6L165.3,377.4M177.6,317.1L178.4,312.5M164.4,468.1L170.3,463.5L177.1,460.4L183.7,456.8M183.7,456.8L184.9,448.5L188.2,440.8M188.2,440.8L183.3,434.6L176.9,430.1M186.9,369.6L188.2,365.5M188.2,365.5L186.9,357.5L183.0,350.3L180.4,342.8L178.9,334.9M174.1,661.2L181.9,666.2L189.4,671.7L197.4,676.3M197.4,676.3L206.2,668.3M206.2,668.3L207.3,660.1L206.0,651.8L206.6,643.6M206.6,643.6L196.3,636.6M196.3,636.6L184.2,639.9M181.5,696.9L189.1,691.0L196.6,684.9M196.6,684.9L197.4,676.3M187.1,499.8L197.8,490.7M198.3,490.3L203.1,486.2M203.1,486.2L203.5,479.2M203.5,479.2L197.7,474.4L194.0,467.7L188.5,462.5L183.7,456.8M180.6,559.9L187.8,558.5L195.1,557.6L202.3,555.8M202.3,555.8L203.4,550.9M188.2,440.8L192.7,439.7M178.3,317.9L185.8,314.3L193.8,312.0L201.1,308.0L209.3,306.0L216.7,302.2M217.7,300.5L212.2,295.5L206.9,290.4M196.3,636.6L196.7,626.3L199.4,616.5M199.4,616.5L193.5,609.2M188.2,365.5L196.3,361.2L205.1,358.6L213.5,355.0M213.5,355.0L214.4,346.4L213.0,337.8M213.0,337.8L204.6,337.3L196.5,335.2L188.3,334.0L180.4,331.0M198.9,585.7L201.8,578.6L204.3,571.3M205.5,561.4L202.3,555.8M222.6,497.0L216.3,492.9L209.9,489.2L203.1,486.2M199.4,616.5L207.8,614.7L216.0,612.5L223.8,609.0M223.8,609.0L222.3,601.5L221.8,593.9M221.8,593.9L214.7,591.0L207.5,588.8M204.5,691.6L196.6,684.9M239.1,758.9L234.9,752.4L233.2,744.9M233.2,744.9L224.0,741.2M224.0,741.2L217.6,745.9L211.6,750.9L206.0,756.3M203.5,479.2L209.4,472.7L215.4,466.3L222.5,461.0M222.5,461.0L221.4,452.3L222.0,443.5M222.0,443.5L214.9,439.0M206.6,643.6L213.9,642.2L221.1,640.4L228.6,639.7M229.1,638.9L227.9,629.9L227.8,620.8L227.1,611.7M227.1,611.7L223.8,609.0M216.7,302.2L216.3,309.6L217.5,317.0L219.1,324.2L219.7,331.6M219.7,331.6L232.0,333.9M251.9,321.0L253.5,314.4M253.5,314.4L247.2,310.8L240.5,308.1L234.5,304.2L227.7,301.5L221.0,298.9M221.0,298.9L217.7,300.5M196.3,381.9L203.5,381.3L210.6,383.1L217.9,383.2M217.9,383.2L224.2,376.5L231.4,370.6M231.4,370.6L225.0,365.9L219.9,359.7L213.5,355.0M218.5,395.4L217.9,383.2M224.0,741.2L221.3,736.8M231.8,684.5L229.6,672.5M229.6,672.5L221.9,670.5L214.1,669.2L206.2,668.3M233.2,744.9L244.2,736.6M213.0,337.8L219.7,331.6M231.8,370.6L235.4,362.2L240.3,354.3L243.5,345.7M224.8,462.8L222.5,461.0M221.8,593.9L227.7,585.9M221.0,298.9L224.7,292.3L229.3,286.2L232.7,279.5L235.7,272.5M235.7,272.5L228.1,268.1M227.1,611.7L234.3,610.7M229.6,672.5L237.8,661.5M237.8,661.5L234.7,654.2L232.7,646.5L228.6,639.7M248.4,246.9L244.2,239.5L238.2,233.5M235.7,272.5L240.0,270.9M240.0,270.9L243.3,263.1L246.5,255.2L248.4,246.9M248.4,246.9L257.1,245.0L266.1,243.8L274.9,242.0M274.9,242.0L274.1,234.4L273.6,226.7L273.3,219.0M273.3,219.0L266.7,214.4L261.5,208.4M261.5,208.4L254.6,210.3L247.5,211.7L240.7,213.9M257.2,689.7L260.2,680.9M258.8,662.3L251.8,662.7L244.8,662.1L237.8,661.5M241.9,401.1L245.7,396.8M245.7,396.8L241.4,388.8L238.1,380.3L234.2,372.1M234.2,372.1L231.8,370.6M229.1,638.9L236.8,636.7L244.6,634.8L252.4,632.9M252.4,632.9L252.6,629.4M256.4,449.1L249.4,446.9L242.0,446.0L235.4,442.7M250.6,422.7L256.8,423.3M256.8,423.3L258.4,420.9M263.4,407.0L257.5,398.1M257.5,398.1L245.7,396.8M234.2,372.1L244.3,372.5L254.4,371.2M253.5,314.4L261.7,309.7L268.4,303.1M268.7,302.4L267.8,293.9L266.7,285.5M266.7,285.5L260.3,281.2L253.5,278.0L247.0,273.9L240.0,270.9M244.7,759.8L239.1,758.9M263.2,652.8L264.2,642.1M264.2,642.1L258.1,637.8L252.4,632.9M256.4,449.1L263.2,438.3M263.2,438.3L259.3,431.1L256.8,423.3M268.8,497.3L274.0,492.0L277.1,485.1L281.3,479.0L286.4,473.6M286.4,473.6L285.2,469.6M285.2,469.6L278.2,467.9L272.4,463.2L265.6,461.0M264.2,642.1L268.2,639.6M283.7,185.4L293.9,184.5M293.9,184.5L297.9,180.4M261.5,208.4L262.8,201.3L264.7,194.3M285.6,555.4L281.5,549.3M281.5,549.3L268.7,550.9M257.5,398.1L262.6,392.3L265.8,385.1L270.8,379.3M285.2,469.6L288.8,460.4L292.1,451.0M292.1,451.0L287.8,445.5M266.8,437.7L263.2,438.3M286.1,335.6L287.4,331.4M279.2,319.3L273.4,311.5L268.4,303.1M266.7,285.5L275.6,276.6M275.6,276.6L276.3,268.8L277.4,261.2L279.0,253.5L279.6,245.8M279.6,245.8L274.9,242.0M281.5,549.3L284.0,542.5L288.2,536.4L290.2,529.3L293.2,522.7M293.2,522.7L285.7,518.7L278.8,513.7L270.9,510.3M273.3,219.0L280.2,215.2L288.0,213.3L295.0,209.5M295.0,209.5L295.5,201.1L295.2,192.8L293.9,184.5M279.6,245.8L290.6,245.6M311.6,228.8L309.6,219.6M309.6,219.6L302.9,213.7L295.0,209.5M283.3,406.1L285.6,398.8L289.2,392.2M289.2,392.2L283.2,381.0M283.2,381.0L272.0,379.1M283.2,381.0L284.8,378.9M293.7,522.7L299.0,517.4L303.6,511.5L308.7,506.0L312.3,499.4M312.3,499.4L309.1,491.1L307.2,482.5M307.2,482.5L300.1,480.0L293.3,476.7L286.4,473.6M268.7,302.4L275.9,301.2L283.1,301.1L290.4,302.7L297.5,300.7L304.8,301.2M304.8,301.2L309.4,295.3M309.4,295.3L303.5,287.3L299.8,278.0M299.8,278.0L291.8,277.0L283.7,276.3L275.6,276.6M311.9,577.2L307.1,567.4M307.1,567.4L296.8,567.2M292.1,451.0L300.2,447.7L308.3,444.4L316.5,441.5M316.5,441.5L317.2,436.0M293.3,420.1L291.1,420.0M340.1,156.0L346.1,160.2M346.1,160.2L357.5,156.8M357.5,156.8L362.0,150.9M307.2,482.5L313.5,477.6L319.2,472.1L324.5,466.1L330.9,461.5M330.9,461.5L325.3,455.4L321.4,448.1L316.5,441.5M311.6,356.6L321.5,348.9M321.5,348.9L318.3,338.9L316.6,328.6M316.6,328.6L305.8,322.2M305.8,322.2L296.6,326.8L287.4,331.4M305.8,322.2L304.8,315.2L304.9,308.2L304.8,301.2M305.4,395.4L297.4,393.4L289.2,392.2M307.1,567.4L312.0,561.5L316.5,555.3L322.0,549.9M322.0,549.9L320.6,541.0M320.6,541.0L313.5,536.9L306.5,532.8L300.0,527.9L293.7,522.7M299.8,278.0L304.0,269.1M309.4,295.3L314.8,294.6M314.8,294.6L320.0,286.9L325.2,279.2L331.1,272.0M309.6,219.6L314.1,213.6L318.9,208.0L324.1,202.7L329.1,197.3L333.7,191.4M333.5,191.0L325.8,187.3L317.9,184.3L310.0,181.0L301.6,179.1M316.6,328.6L322.9,324.8L329.1,320.9L334.7,316.2M334.9,315.3L332.3,304.4M332.3,304.4L323.1,300.2L314.8,294.6M310.7,393.6L319.0,383.3M319.0,383.3L315.1,375.3L310.9,367.4M321.3,422.7L328.3,421.1L334.8,417.8M334.8,417.8L338.7,409.4L341.6,400.6L344.8,392.0M344.8,392.0L343.1,385.2M343.1,385.2L335.1,384.0L327.1,383.2L319.0,383.3M320.6,541.0L326.2,536.1L331.2,530.7L336.1,525.2M338.1,260.6L346.5,249.5M346.5,249.5L341.4,237.7M341.4,237.7L331.4,236.3L321.3,235.2M324.8,584.7L332.3,582.3L340.1,581.9M340.1,581.9L340.4,574.6L340.3,567.4L341.8,560.2M341.8,560.2L334.7,557.8L329.0,552.7L322.0,549.9M343.1,385.2L346.3,378.9L349.5,372.6M349.5,372.6L344.2,366.1L341.2,358.1L336.5,351.2M336.5,351.2L329.1,348.9L321.5,348.9M341.4,237.7L345.5,230.0M345.5,230.0L342.8,223.0L341.7,215.5L338.9,208.5L337.3,201.2L336.4,193.8M336.4,193.8L333.7,191.4M332.3,304.4L338.2,299.4L343.7,294.0L349.4,288.9M349.4,288.9L343.6,282.9L336.5,278.4L331.1,272.0M350.7,486.1L350.5,475.5M350.5,475.5L343.0,464.4M343.0,464.4L330.9,461.5M343.0,464.4L347.0,458.3L351.3,452.4L355.4,446.4L358.4,439.6L363.3,434.1M363.3,434.1L355.9,430.5L348.9,426.1L341.5,422.5L334.8,417.8M336.4,193.8L345.3,195.5L354.1,197.9L363.2,198.4M363.2,198.4L373.4,190.6M371.0,173.1L366.0,168.1L362.6,161.8L357.5,156.8M346.1,160.2L344.1,168.3L339.7,175.5L336.4,183.2L333.5,191.0M342.0,809.7L349.2,809.4M349.2,809.4L357.3,801.2M349.4,288.9L357.3,289.1M357.3,289.1L364.5,281.5M364.5,281.5L363.4,273.3L361.5,265.2L361.7,256.8M361.7,256.8L353.9,253.5L346.5,249.5M327.4,610.9L335.1,607.6L342.4,603.5M342.4,603.5L344.2,591.4M343.8,585.8L340.1,581.9M336.5,351.2L340.5,346.2M347.1,327.5L345.6,322.0M345.6,322.0L343.3,320.7M341.8,560.2L345.7,558.9M350.3,528.6L348.6,527.6M363.9,433.9L367.0,427.2L366.9,419.4L369.7,412.6L372.2,405.6M372.2,405.6L365.5,401.8L358.0,399.8L351.7,395.3L344.8,392.0M348.5,608.1L342.4,603.5M345.6,322.0L351.3,317.1L358.0,313.4L363.4,308.2M363.4,308.2L359.6,298.9L357.3,289.1M349.5,372.6L354.6,371.3M367.8,339.3L364.8,338.7M355.2,825.9L353.1,817.3L349.2,809.4M509.7,644.8L510.0,633.1M510.0,633.1L504.6,628.4L498.1,625.6M372.2,405.6L380.6,400.7M380.6,400.7L379.5,393.4L378.7,386.0L377.3,378.7M377.3,378.7L367.2,372.2M364.8,499.8L360.4,497.6M370.3,337.1L374.7,330.8L379.6,324.7L383.1,317.8M383.1,317.8L376.0,315.6L369.5,312.4L363.4,308.2M350.5,475.5L359.2,474.6L367.8,472.9L376.1,469.7L384.8,468.7M384.8,468.7L381.7,461.6L380.7,454.0L378.3,446.7L377.1,439.2M377.1,439.2L370.3,436.9L363.9,433.9M361.7,256.8L369.3,254.8L376.5,251.5L383.5,247.8M383.5,247.8L380.2,240.1L378.2,232.0L376.5,223.8M376.5,223.8L367.8,220.5M367.8,220.5L360.7,224.4L353.1,227.1L345.5,230.0M367.8,220.5L367.1,212.9L363.6,206.0L363.2,198.4M380.0,561.3L389.5,561.8L398.8,563.6M398.8,563.6L402.0,557.2L403.1,549.9L406.9,543.7L409.0,536.9M409.0,536.9L401.7,535.5L395.1,532.1M390.3,497.8L396.1,493.6M396.1,493.6L393.1,486.5L391.0,479.2L389.6,471.7M389.6,471.7L384.8,468.7M383.1,317.8L385.9,317.1M385.9,317.1L388.7,310.3L390.3,303.0L394.5,296.8L397.0,289.8M397.0,289.8L393.2,284.7M393.2,284.7L386.0,284.0L378.7,284.2L371.5,283.3L364.5,281.5M377.3,378.7L385.2,375.1M383.9,352.2L379.5,351.4M380.0,594.9L387.7,593.8L394.9,591.1L402.1,588.4M402.1,588.4L407.7,577.5M407.7,577.5L402.6,570.9L398.8,563.6M376.5,223.8L381.7,218.6L388.7,215.7L394.0,210.7M394.0,210.7L389.8,202.6L384.2,195.3M377.1,439.2L385.9,437.4L394.1,433.9L402.6,431.3M402.6,431.3L401.1,424.4L398.5,417.7L398.3,410.5L395.9,403.8M395.9,403.8L388.1,402.9L380.6,400.7M396.6,325.1L385.9,317.1M394.4,265.9L394.9,258.7M394.9,258.7L389.7,250.1M389.7,250.1L383.5,247.8M406.3,327.4L413.7,323.4L420.2,317.8M415.2,294.7L413.6,290.8M413.6,290.8L405.3,290.1L397.0,289.8M389.6,471.7L395.4,466.3L402.1,462.3L409.3,458.9L414.9,453.4M414.9,453.4L411.1,447.0L408.8,439.8L405.9,432.9M405.9,432.9L402.6,431.3M389.7,250.1L392.0,248.0M404.5,221.2L399.2,216.3L394.4,210.8M394.4,210.8L404.0,202.5M403.2,591.9L402.1,588.4M395.9,403.8L402.0,398.8M409.6,392.4L411.3,391.1M409.0,536.9L415.9,533.1M415.9,533.1L414.5,526.0L412.7,518.9L413.0,511.5L410.3,504.6L409.3,497.4M409.3,497.4L396.1,493.6M413.6,290.8L419.5,286.9L425.0,282.6M425.0,282.6L424.4,275.2L425.1,267.7L424.0,260.4M424.0,260.4L416.7,259.5L409.4,259.2L402.1,259.6L394.9,258.7M407.7,577.5L417.2,576.8L426.8,577.0M426.8,577.0L429.8,569.3L431.7,561.1L435.5,553.7M435.5,553.7L431.2,547.7L427.7,541.2L424.3,534.6M424.3,534.6L415.9,533.1M405.9,432.9L412.0,428.5L418.9,425.5M423.6,392.4L411.3,391.1M438.7,377.5L439.1,373.5M439.1,373.5L433.0,366.6L428.5,358.7M439.1,587.3L433.4,581.6L426.8,577.0M409.3,497.4L416.0,494.3L423.1,492.0L429.5,488.1M429.5,488.1L430.4,478.8L430.6,469.6L429.5,460.3M429.5,460.3L422.7,455.8L414.9,453.4M424.0,260.4L431.0,251.1M429.5,460.3L432.7,458.5M437.8,324.3L436.2,318.9M436.2,318.9L425.3,315.7M436.2,318.9L438.6,316.4M443.5,300.0L442.4,292.5L439.0,285.7M439.0,285.7L432.2,283.2L425.0,282.6M424.3,534.6L430.5,529.7L437.4,525.7L444.2,521.6M444.2,521.6L444.9,513.4L445.1,505.1L444.9,496.8M444.9,496.8L437.6,491.8L429.5,488.1M439.0,285.7L450.7,278.6M456.1,259.3L453.1,253.3M453.1,253.3L440.5,249.3M453.1,253.3L459.3,245.6L465.4,237.9M469.5,232.9L476.0,224.7M476.0,224.7L476.1,220.0M476.1,220.0L470.2,213.6L463.2,208.5M463.2,208.5L455.5,209.3L448.4,212.4M468.2,549.5L470.9,536.3M470.9,536.3L464.5,532.2L457.3,529.5L451.0,525.2L444.2,521.6M444.7,336.2L452.9,339.4L461.1,342.4M461.1,342.4L464.8,335.0L468.6,327.8L472.7,320.7M472.7,320.7L470.9,313.8L467.7,307.4M467.7,307.4L461.9,307.7M444.9,496.8L452.6,495.6L459.8,492.5L467.0,489.7M467.0,489.7L469.2,486.3M469.2,486.3L467.6,478.1L463.6,470.8L460.0,463.3L458.1,455.2M458.1,455.2L449.4,453.8L440.6,454.0M439.1,373.5L446.5,369.5L452.1,363.0L459.2,358.4L466.0,353.5M466.0,353.5L461.1,342.4M463.2,208.5L463.9,200.7L463.6,193.0L462.7,185.2M462.7,185.2L454.5,181.6L445.4,180.3L437.2,176.5M462.7,185.2L465.9,181.4M465.9,181.4L466.5,173.8L465.0,166.4L465.1,158.8M467.7,307.4L473.8,295.1M461.6,285.2L453.7,278.7M491.7,570.5L497.9,570.8M497.9,570.8L502.3,563.4L508.3,557.0L511.9,549.0M490.7,529.3L484.2,525.6M484.2,525.6L478.0,531.4L470.9,536.3M484.3,525.0L480.5,518.1L477.5,510.8L473.5,504.0L471.6,496.2L467.0,489.7M494.5,616.2L494.9,607.2M494.9,607.2L490.6,605.3M468.0,446.3L458.1,455.2M469.2,486.3L477.5,482.5L486.7,481.4L495.1,477.8M495.1,477.8L494.3,470.5L493.3,463.4L490.7,456.5M490.7,456.5L483.6,452.3L475.1,450.8L468.0,446.3M468.0,446.3L469.2,439.5M473.8,295.1L484.2,289.4M484.2,289.4L484.1,279.4M459.5,260.1L456.1,259.3M472.7,320.7L480.3,322.4L487.8,324.4L495.3,326.4M495.3,326.4L499.1,324.2M493.8,292.8L484.2,289.4M476.1,220.0L484.3,215.7L493.0,212.9M492.3,176.6L483.5,178.3L474.8,180.3L465.9,181.4M464.3,390.4L468.1,383.9L471.7,377.4L476.9,371.9M476.9,371.9L472.9,362.9L467.7,354.5M467.7,354.5L466.0,353.5M491.9,258.0L496.1,253.5M496.1,253.5L492.0,247.8L488.2,241.9L485.1,235.5L481.1,229.8L476.0,224.7M486.6,402.1L493.1,393.9L500.6,386.5M500.6,386.5L494.8,377.5M494.8,377.5L486.0,374.1L476.9,371.9M467.7,354.5L476.0,352.0L483.8,348.3L492.0,345.7M492.0,345.7L493.0,335.9L495.3,326.4M473.5,433.8L481.0,430.8L488.4,427.2L496.4,425.3M496.4,425.3L492.5,418.7L489.4,411.8L485.3,405.4M484.3,525.0L489.8,519.3M495.5,513.4L501.0,507.7M501.9,488.5L495.7,478.0M503.7,170.7L503.2,168.2M490.7,456.5L498.3,449.3L504.4,440.8M504.4,440.8L501.6,433.0L497.5,425.7M503.7,170.7L511.0,171.0L518.3,172.0L525.4,173.6L532.8,173.1M532.8,173.1L538.7,167.5L543.8,161.3M505.3,146.4L504.2,148.9M494.8,377.5L496.8,369.9L500.4,362.9L503.7,355.8M503.7,355.8L498.6,349.8L492.0,345.7M497.5,425.7L503.3,421.7L509.2,417.7L514.6,412.9M514.0,402.5L510.8,394.9L506.0,388.1M506.0,388.1L500.6,386.5M496.1,253.5L507.6,253.9M507.6,253.9L510.0,251.7M523.5,239.6L522.2,237.7M512.3,264.6L507.6,253.9M503.7,355.8L513.2,354.7L522.4,352.0M522.4,352.0L522.8,344.2M494.9,607.2L503.3,601.7L510.6,594.8M510.6,594.8L510.9,588.1M510.9,588.1L507.3,581.8L502.6,576.4L497.9,570.8M495.7,478.0L503.6,474.2M521.3,465.8L527.4,462.9M527.4,462.9L523.8,455.6L520.4,448.2M512.9,443.6L504.4,440.8M506.0,388.1L509.7,386.0M523.5,369.1L521.8,360.8L522.7,352.4M510.0,633.1L518.3,627.5L527.1,622.7M527.1,622.7L528.9,611.8M528.9,611.8L523.5,605.4L516.0,601.2L510.6,594.8M510.9,588.1L518.5,585.3L524.9,580.0L532.3,576.8L539.3,572.9M539.3,572.9L535.3,563.0M541.9,250.2L537.4,244.3L532.0,239.0M532.0,239.0L523.5,239.6M538.8,196.3L537.6,188.4L534.8,180.8L532.8,173.1M534.3,630.8L527.1,622.7M538.3,490.2L537.3,482.6L536.6,475.1L536.8,467.5M536.8,467.5L527.4,462.9M532.0,239.0L536.7,233.5L540.4,227.3M522.7,352.4L529.8,352.9L536.6,354.1L543.3,356.4L550.3,357.3M550.3,357.3L554.3,352.3M536.8,467.5L539.8,465.8M539.8,465.8L545.8,455.7M548.2,451.9L553.3,443.4M553.3,443.4L550.2,433.2M550.2,433.2L548.3,432.7M528.9,611.8L535.2,608.3L542.3,606.7L548.5,603.2M548.5,603.2L548.9,598.8M547.2,576.7L539.3,572.9M543.8,161.3L553.4,165.5M558.2,167.6L569.1,172.4M569.1,172.4L574.6,167.3M567.7,510.6L571.2,506.5M571.2,506.5L566.8,495.9M566.8,495.9L559.5,495.3L552.5,493.2L545.3,492.1L538.3,490.2M560.4,612.5L553.7,608.7L548.5,603.2M546.9,200.7L554.2,195.7L562.1,192.0L570.3,188.7M570.3,188.7L570.7,180.5L569.1,172.4M550.9,362.5L550.3,357.3M550.2,433.2L551.4,431.4M562.9,415.9L573.0,417.0L583.1,416.3M583.1,416.3L587.2,409.3M580.7,390.8L577.0,380.5M577.0,380.5L574.6,380.5M577.0,380.5L582.7,375.0L587.3,368.4M587.3,368.4L587.4,358.3M567.5,225.2L558.1,223.3L549.4,219.5M566.8,495.9L569.8,487.5L575.5,480.4L578.3,472.0M578.3,472.0L569.5,470.5M547.2,467.0L539.8,465.8M579.8,509.5L571.2,506.5M553.3,443.4L556.6,444.3M588.8,433.1L586.5,424.5L583.1,416.3M579.0,205.8L578.3,194.8M578.3,194.8L570.3,188.7M572.2,305.7L575.2,304.1M580.8,298.5L575.4,291.8L572.1,283.9M578.3,472.0L581.4,469.8M598.5,166.8L607.6,175.3M607.6,175.3L616.7,169.3M578.3,194.8L585.4,193.3L592.6,192.6L599.5,189.9L606.8,189.2M606.8,189.2L607.6,175.3M589.5,508.4L596.3,502.1M598.6,484.1L592.8,479.5L586.8,475.1L581.4,469.8M606.8,189.2L612.6,197.4M612.6,197.4L618.7,198.5M643.5,193.5L647.1,184.3M602.7,221.3L604.9,212.8L610.5,205.8L612.6,197.4M628.0,291.3L621.4,289.7M622.5,260.5L632.2,258.5M632.2,258.5L637.8,248.7M622.0,232.1L617.3,232.0M647.1,184.3L649.2,183.5M637.7,269.8L632.2,258.5M644.9,216.2L646.0,213.9M646.0,213.9L644.7,211.3M660.8,215.9L653.5,214.4L646.0,213.9M680.0,211.0L680.3,203.8M704.9,248.3L702.7,246.3M702.7,246.3L698.2,247.9M702.7,246.3L704.1,240.8M721.2,298.8L726.8,287.3M732.6,242.0L728.1,236.2L724.5,229.8M724.5,229.8L716.2,229.3L708.0,230.7M724.5,229.8L729.3,221.1L733.4,212.1M759.2,278.9L763.8,279.0M771.2,312.6L777.8,309.8M657.7,393.6L658.8,404.5L657.8,412.1L656.2,419.5L649.4,422.0L642.5,424.5L634.9,425.0L627.5,427.0L615.0,433.2L614.4,433.0M609.8,431.3L605.0,429.5L603.7,430.5M615.0,433.2L617.5,442.0L623.8,450.8L632.5,458.2L643.8,464.5L656.2,467.0M656.2,467.0L665.0,472.0L672.0,476.2L680.0,478.2L690.0,483.2L702.5,478.2L712.5,472.0L718.8,467.0M690.0,483.2L700.0,492.0L707.5,502.0L717.5,509.5M717.5,509.5L721.6,503.1L726.2,497.0L730.4,490.6L735.0,484.5L739.1,480.9M717.5,509.5L713.8,522.0L710.0,534.5L707.5,544.5L702.1,549.1L697.5,554.5L693.8,560.8M656.2,467.0L652.5,477.0L648.4,484.1L646.2,492.0L643.8,502.0L648.1,507.9L651.2,514.5L658.8,524.5L662.5,537.0L662.4,547.0L662.5,557.0L668.8,564.5L676.2,564.5L684.8,561.8L693.8,560.8M632.5,487.0L640.3,490.0L648.0,493.2M604.6,543.7L610.0,545.8L617.5,548.2L625.0,547.0L635.0,549.5L643.8,554.5L650.0,564.5L656.2,572.0L665.0,578.2L672.5,584.5L676.2,584.5M676.2,564.5L675.1,574.5L676.2,584.5L678.0,594.4L677.5,604.5L683.7,605.8M693.8,560.8L700.0,567.0L703.1,573.6L707.5,579.5L715.0,589.5L721.2,599.5L715.0,607.0L710.0,612.0L711.6,620.2M710.0,612.0L709.3,619.3M707.5,639.4L707.5,639.5L704.6,646.5L703.8,654.0M798.8,547.0L790.0,552.0L787.5,562.0L783.8,570.0L780.0,577.0L774.5,582.8L770.0,589.5L766.0,593.5M783.8,570.0L790.0,577.0L800.0,582.0L810.0,589.5L822.5,589.5L835.0,584.5L842.5,589.5L844.2,596.2M770.0,589.5L771.8,596.9L772.5,604.5L774.7,612.0M853.7,599.5L855.0,599.5L867.2,599.5M879.1,600.7L880.0,600.8L882.5,612.0L888.8,622.0L880.0,629.5L867.5,632.0L872.5,642.0L876.4,647.9L880.0,654.0M466.2,640.0L472.5,642.5L477.5,655.0L478.8,667.5L473.8,677.5L466.2,687.5L462.5,697.5L457.5,707.5M478.8,665.0L487.5,662.5L497.5,657.5L505.0,652.5L503.8,647.5M505.0,652.5L515.0,655.0L527.5,652.5L540.0,650.0L550.0,646.2M550.0,646.2L548.9,653.1L547.5,660.0L545.0,672.5L542.5,685.0L538.8,690.0L540.0,698.8M540.0,698.8L532.5,702.5L525.0,703.8L515.0,708.8L508.8,712.5L507.5,720.0L500.0,723.8M457.5,707.5L461.0,714.6L466.4,720.5L470.0,727.5L480.0,725.0L490.0,720.0L500.0,723.8M470.0,727.5L472.5,715.0L482.5,707.5L493.8,703.8L502.5,706.2L508.8,712.5M540.0,698.8L550.0,701.2L560.0,700.0L570.0,698.8L575.0,707.5L582.5,706.2L590.0,702.5L592.5,711.2L602.5,707.5L612.5,705.0M508.8,712.5L520.0,717.5L530.0,725.0L535.0,735.0L538.8,747.5L537.5,760.0L540.0,772.5M540.0,772.5L547.0,773.4M550.4,772.3L552.5,765.0L557.5,760.0L555.0,767.5L560.0,772.5L567.5,772.6L575.0,772.5L580.0,767.5L590.0,762.5L600.0,760.0L606.7,757.0L612.5,752.5L617.1,746.7L620.0,740.0M500.0,723.8L490.0,730.0L482.5,737.5L480.0,747.5L486.2,757.5L492.8,761.9M512.3,773.9L515.0,775.0L518.8,775.4M535.6,773.8L540.0,772.5M557.2,791.8L557.5,792.5L552.6,800.8L550.0,810.0L545.1,818.5M546.1,818.7L555.0,817.5L555.7,818.0M573.4,825.8L577.5,826.2L590.0,830.0L594.7,835.3L600.0,840.0L605.0,832.5L615.0,825.0L625.0,817.5M625.0,792.5L626.1,803.5M625.5,812.7L625.0,817.5M672.5,698.8L685.0,700.0L690.0,700.4M675.0,702.5L679.3,708.9L684.9,714.2L690.0,720.0M683.1,764.7L686.3,772.1L687.5,780.0L689.3,784.6M685.3,790.3L680.0,795.0L672.5,802.5M651.2,812.5L659.0,814.2M623.8,738.8L632.5,732.5L645.0,727.5L651.5,724.1L657.5,720.0L667.5,717.5L671.3,715.3M690.0,700.0L700.0,701.2L710.0,695.0L717.5,691.2L727.5,693.8L735.2,694.9M710.0,695.0L708.8,705.0L717.5,712.5L725.0,717.5L727.5,727.5L736.2,730.0L737.5,740.0L733.8,747.5M690.0,725.0L697.2,729.4L705.0,732.5L711.8,738.6L720.0,742.5L726.8,745.4L733.8,747.5M737.5,730.0L747.5,725.0L757.5,722.5L765.0,715.0L761.2,710.0M761.2,710.0L767.5,700.0L770.5,696.4M777.5,687.5L790.0,692.5L802.5,697.5L815.0,702.5L826.2,707.5M765.0,715.0L775.0,720.0L785.0,727.5L792.5,737.5L797.5,742.5L802.5,737.5M791.0,654.0L790.0,657.5L783.8,667.5L780.0,677.5L777.5,687.5M733.8,747.5L727.5,760.0L730.0,772.5L733.9,780.3M690.0,780.0L700.0,775.0L707.6,774.2L715.0,772.5L721.2,768.7L727.5,765.0M872.5,762.5L875.0,775.0L887.5,777.5L894.8,775.1L902.5,775.0L912.5,780.0L915.0,775.0M850.0,772.5L856.5,777.4M857.8,778.4L860.0,780.0L864.8,785.2L870.0,790.0L878.4,796.3M912.5,780.0L916.1,789.0M802.5,736.2L810.0,725.0L815.0,715.0L826.2,707.5L833.4,704.4L840.0,700.0L852.5,697.5L860.0,691.2L870.0,695.0L880.0,701.2L888.8,701.2L897.5,700.0L904.0,701.0M914.7,736.5L907.5,745.0L900.0,750.0L892.5,750.0M840.0,700.0L842.5,687.5L850.0,680.0L855.0,672.5L857.5,677.5L865.0,677.4L872.5,677.5L870.0,687.5L870.0,695.0M872.5,677.5L880.0,670.0L885.0,675.0L895.0,675.0L905.0,672.5L908.4,679.7L910.0,687.5L908.8,695.0L905.2,700.8M877.6,654.0L880.0,660.0L882.5,667.5L880.0,670.0M940.0,682.5L930.0,680.0L920.0,685.0L910.0,687.5M908.8,695.0L915.0,700.0L918.5,707.0M938.0,731.1L940.0,735.0M940.0,710.0L940.0,718.3L938.8,726.7L940.0,735.0M940.0,682.5L940.8,675.0L940.0,667.5M318.8,235.0L316.6,242.9L312.5,250.0L311.4,257.1L308.8,263.8M131.2,489.5L142.5,495.8L155.0,492.0L160.0,485.8M122.5,513.2L135.0,515.8L146.2,512.0L146.6,521.2L146.5,530.3L146.2,539.5M172.5,497.0L174.4,506.9L173.8,517.0L177.5,527.0M122.5,528.2L135.0,534.5L146.2,535.8" fill="none" stroke="#151515" stroke-width="0.95" stroke-linejoin="round" stroke-linecap="round"/>
<path d="M156.2,392.0L152.5,399.5L145.0,409.5L135.0,419.5L122.5,429.5L118.8,439.5L121.2,449.5L127.5,459.5L132.5,469.5L132.5,478.2L123.8,487.0L120.0,499.5L121.2,512.0L122.5,524.5L121.2,534.5L116.2,542.0L110.0,554.5L107.5,567.0L105.0,582.0L101.2,597.0L100.0,609.5L101.2,622.0L98.8,632.0L92.5,642.0L87.5,654.0L80.0,661.5L75.0,671.5L73.8,681.5L77.5,691.5L85.0,700.2L95.0,705.2L101.2,710.2L105.0,716.5L107.5,710.2L110.0,702.8L117.5,696.5L127.5,691.5L135.0,695.2L142.5,697.8L146.2,691.5L153.8,687.8L158.8,681.5L160.0,691.5L165.0,699.0L172.5,694.0L180.0,697.8L185.0,706.5L190.0,707.8L196.2,714.0L198.8,722.8L203.8,731.5L205.0,739.0L201.2,746.5L202.5,756.5L205.0,764.0L212.5,771.5L220.0,779.0L220.0,789.0L222.5,799.0L232.5,804.0L235.0,814.0L245.0,820.2L252.5,824.0L260.0,826.5L267.5,824.0L272.5,819.0L285.0,816.5L295.0,819.0L302.5,829.0L312.5,834.0L320.0,840.2L328.8,842.8L337.5,839.0L347.5,837.8L357.5,837.8L366.0,835.2L376.0,834.0L386.0,836.5L392.2,835.2L398.5,841.5L407.2,846.5L416.0,845.2L422.2,844.0L431.0,851.5L441.0,852.8L451.0,851.5L463.5,855.2L473.5,854.0L481.0,856.5L488.5,859.0L493.5,866.5L503.5,871.5L513.5,874.0L523.5,876.5L531.0,880.2L541.0,876.5L551.0,875.2L563.5,876.5L573.5,880.2L587.2,879.0L591.0,886.5L598.5,891.5L603.5,901.5L607.2,900.2L612.2,891.5L618.5,886.5L626.0,881.5L633.5,874.0L633.5,864.0L631.0,856.5L626.0,849.0L626.0,839.0L629.8,829.0L636.0,821.5L651.0,816.5L661.0,814.0L672.0,806.5L675.8,814.0L682.0,817.8L687.0,824.0L692.0,820.2L699.5,814.0L707.0,816.5L714.5,812.8L719.5,806.5L724.5,801.5L732.0,789.0L734.5,779.0L739.5,775.2L744.5,779.0L752.0,777.8L759.5,779.0L769.5,784.0L777.0,789.0L783.2,796.5L785.8,787.8L794.5,780.2L802.0,781.5L808.2,785.2L817.0,777.8L827.0,779.0L834.5,776.5L843.2,776.5L844.5,781.5L849.5,775.2L857.0,777.8L864.5,786.5L874.5,794.0L882.0,799.0L889.5,804.0L897.0,809.0L904.5,812.8L914.5,814.0L919.5,806.5L924.5,804.0L932.0,800.2L942.0,797.8L947.0,791.5L954.5,786.5L964.5,779.0L972.0,775.2L978.0,772.8L985.5,772.5L993.0,775.0L1000.5,771.2L1009.2,772.5L1013.0,769.5L1058.0,770.0L1063.0,765.0L1070.5,767.5L1074.2,755.0L1076.8,743.8L1080.5,745.0L1085.5,732.5L1090.5,720.0L1098.0,710.0L1104.2,700.0L1110.5,692.5L1115.5,696.2L1120.5,690.0L1118.0,680.0L1125.5,677.5L1135.5,670.0L1143.0,660.0L1150.5,650.0L1158.0,642.0L1164.2,633.2L1158.0,632.0L1148.0,632.0L1140.5,624.5L1139.2,614.5L1135.5,602.0L1130.5,589.5L1133.0,574.5L1125.5,569.5L1115.5,565.8L1108.0,567.0L1100.5,579.5L1089.2,585.8L1088.0,599.5L1078.0,609.5L1078.0,604.5L1070.5,594.5L1074.2,589.5L1074.2,577.0L1076.8,575.8L1075.5,564.5L1079.2,554.5L1085.5,543.2L1078.0,535.8L1070.5,530.8L1060.5,534.5L1054.2,530.8L1043.0,534.5L1035.5,532.0L1028.0,528.2L1014.2,529.5L1004.2,528.2L998.0,523.2L993.0,529.5L980.5,533.2L973.1,532.2L971.0,532.8L968.0,535.8L962.3,534.5L962.0,534.5L950.8,532.0L949.5,524.5L952.6,516.2L953.0,514.5L954.2,502.0L960.5,494.5L963.0,482.0L963.1,482.4L963.2,482.0L969.5,472.0L957.0,459.5L949.5,449.5L942.0,437.0L934.5,424.5L929.5,414.5L922.0,404.5L918.2,395.8L909.5,392.0L910.8,377.5L913.2,362.5L909.5,352.5L903.2,345.0L904.5,332.5L902.0,322.5L904.5,312.5L907.0,305.0L904.5,295.0L900.8,290.0L899.5,277.5L895.8,266.2L892.0,257.5L884.5,250.0L879.5,243.8L869.5,245.0L862.0,238.8L853.2,233.8L852.0,226.2L844.5,221.2L843.2,212.5L839.5,208.8L832.0,207.5L827.0,212.5L814.5,216.2L804.5,217.5L794.5,215.0L782.0,217.5L779.5,213.8L774.5,210.0L767.0,212.5L754.5,216.2L749.5,212.5L743.2,210.0L734.5,211.2L729.5,207.5L724.5,210.0L717.0,217.5L708.2,216.2L704.5,205.0L697.0,196.2L688.2,188.8L679.5,187.5L672.0,191.2L663.5,187.5L653.5,183.8L643.5,181.2L637.2,172.5L628.5,167.5L618.5,167.5L609.8,165.0L599.8,165.0L592.2,170.0L583.5,168.8L573.5,166.2L563.5,165.0L556.0,167.5L551.0,161.2L541.0,157.5L531.0,158.8L519.8,151.2L509.8,147.5L501.0,142.5L493.5,140.0L486.0,139.5L483.5,143.8L481.0,158.8L476.0,162.5L468.5,157.5L459.8,158.8L448.5,157.5L436.0,156.2L427.2,156.2L419.8,157.5L416.0,152.5L407.2,148.8L401.0,151.2L389.8,156.2L377.2,155.0L366.0,152.5L356.2,146.2L347.5,147.5L337.5,157.5L321.2,160.0L311.2,175.0L300.0,178.8L285.0,183.8L273.8,190.0L257.5,196.2L246.2,206.2L240.0,212.5L238.8,228.8L232.5,250.0L231.2,260.0L225.0,272.5L223.8,281.2L210.0,288.8L196.2,292.5L187.5,300.0L180.0,307.5L176.2,315.0L172.5,330.0L171.2,341.2L167.5,355.0L161.2,373.8Z" fill="none" stroke="#111" stroke-width="1.1" stroke-linejoin="round"/>
<g font-size="7.8" text-anchor="middle" fill="#1e1e1e" stroke="#1e1e1e" stroke-width="0.3">
<text x="394.0" y="177.0">Terra</text>
<text x="394.0" y="184.6">Rica</text>
<text x="256.5" y="223.2">Querencia</text>
<text x="256.5" y="230.8">do</text>
<text x="256.5" y="238.4">Norte</text>
<text x="329.0" y="220.3">Loanda</text>
<text x="425.0" y="219.8">Paranavai</text>
<text x="509.0" y="199.8">Colorado</text>
<text x="475.0" y="258.5">Nova</text>
<text x="475.0" y="266.1">Esperanca</text>
<text x="500.0" y="277.8">Mandaguacu</text>
<text x="558.5" y="276.3">Astorga</text>
<text x="603.5" y="277.8">Rolandia</text>
<text x="620.0" y="249.3">Cambe</text>
<text x="244.5" y="297.8">Icaraima</text>
<text x="204.5" y="321.5">Alto</text>
<text x="204.5" y="329.1">Parana</text>
<text x="514.0" y="297.8">Maringa</text>
<text x="557.5" y="312.3">Mandaguari</text>
<text x="601.5" y="308.8">Arapongas</text>
<text x="487.5" y="313.3">Paicandu</text>
<text x="526.0" y="319.3">Sarandi</text>
<text x="531.5" y="330.3">Marialva</text>
<text x="560.0" y="335.2">Jandaia</text>
<text x="560.0" y="342.8">do</text>
<text x="560.0" y="350.4">Sul</text>
<text x="596.0" y="333.8">Apucarana</text>
<text x="285.0" y="364.8">Umuarama</text>
<text x="327.0" y="363.7">Cruzeiro</text>
<text x="327.0" y="371.3">do</text>
<text x="327.0" y="378.9">Oeste</text>
<text x="401.0" y="363.3">Cianorte</text>
<text x="443.5" y="352.0">Terra</text>
<text x="443.5" y="359.6">Boa</text>
<text x="366.0" y="383.7">Tuneiras</text>
<text x="366.0" y="391.3">do</text>
<text x="366.0" y="398.9">Oeste</text>
<text x="181.5" y="392.8">Altonia</text>
<text x="227.5" y="421.3">Ipora</text>
<text x="445.5" y="424.0">Campo</text>
<text x="445.5" y="431.6">Mourao</text>
<text x="136.0" y="445.8">Guaira</text>
<text x="165.5" y="446.5">Terra</text>
<text x="165.5" y="454.1">Roxa</text>
<text x="204.0" y="461.3">Palotina</text>
<text x="339.0" y="441.3">Goioere</text>
<text x="568.5" y="460.3">Ivaipora</text>
<text x="244.0" y="485.0">Assis</text>
<text x="244.0" y="492.6">Chateaubriand</text>
<text x="410.0" y="476.8">Mambore</text>
<text x="449.0" y="476.8">Luiziana</text>
<text x="337.0" y="502.8">Ubirata</text>
<text x="377.0" y="515.2">Campina</text>
<text x="377.0" y="522.8">da</text>
<text x="377.0" y="530.4">Lagoa</text>
<text x="461.5" y="515.8">Roncador</text>
<text x="159.0" y="510.7">Marechal</text>
<text x="159.0" y="518.3">Candido</text>
<text x="159.0" y="525.9">Rondon</text>
<text x="210.5" y="531.3">Toledo</text>
<text x="548.5" y="539.8">Pitanga</text>
<text x="793.0" y="231.3">Andira</text>
<text x="823.5" y="229.3">Cambara</text>
<text x="846.0" y="253.8">Jacarezinho</text>
<text x="780.5" y="260.3">Bandeirantes</text>
<text x="735.0" y="268.5">Cornelio</text>
<text x="735.0" y="276.1">Procopio</text>
<text x="666.0" y="272.8">Ibipora</text>
<text x="824.5" y="272.9">Santo</text>
<text x="824.5" y="280.5">Antonio</text>
<text x="824.5" y="288.1">da</text>
<text x="824.5" y="295.7">Platina</text>
<text x="879.5" y="271.0">Ribeirao</text>
<text x="879.5" y="278.6">Claro</text>
<text x="654.5" y="322.3">Londrina</text>
<text x="712.0" y="351.4">Sao</text>
<text x="712.0" y="359.0">Jeronimo</text>
<text x="712.0" y="366.6">da</text>
<text x="712.0" y="374.2">Serra</text>
<text x="870.5" y="350.0">Siqueira</text>
<text x="870.5" y="357.6">Campos</text>
<text x="790.0" y="370.8">Ibaiti</text>
<text x="874.5" y="376.0">Wenceslau</text>
<text x="874.5" y="383.6">Braz</text>
<text x="738.0" y="387.8">Sapopema</text>
<text x="626.0" y="409.8">Faxinal</text>
<text x="685.0" y="436.8">Ortigueira</text>
<text x="797.0" y="432.8">Ventania</text>
<text x="846.5" y="427.8">Arapoti</text>
<text x="751.5" y="454.0">Telemaco</text>
<text x="751.5" y="461.6">Borba</text>
<text x="926.5" y="451.3">Senges</text>
<text x="884.5" y="468.8">Jaguariaiva</text>
<text x="842.5" y="488.2">Pirai</text>
<text x="842.5" y="495.8">do</text>
<text x="842.5" y="503.4">Sul</text>
<text x="624.5" y="514.2">Candido</text>
<text x="624.5" y="521.8">de</text>
<text x="624.5" y="529.4">Abreu</text>
<text x="680.0" y="519.3">Reserva</text>
<text x="761.0" y="525.8">Tibagi</text>
<text x="936.0" y="520.5">Doutor</text>
<text x="936.0" y="528.1">Ulysses</text>
<text x="867.0" y="557.8">Castro</text>
<text x="1009.5" y="552.8">Adrianopolis</text>
<text x="124.0" y="569.0">Santa</text>
<text x="124.0" y="576.6">Helena</text>
<text x="280.0" y="599.8">Cascavel</text>
<text x="364.0" y="603.8">Guaraniacu</text>
<text x="464.0" y="570.3">Palmital</text>
<text x="519.0" y="559.4">Santa</text>
<text x="519.0" y="567.0">Maria</text>
<text x="519.0" y="574.6">do</text>
<text x="519.0" y="582.2">Oeste</text>
<text x="576.5" y="557.6">Boa</text>
<text x="576.5" y="565.2">Ventura</text>
<text x="576.5" y="572.8">de</text>
<text x="576.5" y="580.4">Sao</text>
<text x="576.5" y="588.0">Roque</text>
<text x="592.0" y="601.3">Turvo</text>
<text x="510.0" y="619.3">Goioxim</text>
<text x="214.5" y="624.5">Ceu</text>
<text x="214.5" y="632.1">Azul</text>
<text x="415.0" y="628.5">Nova</text>
<text x="415.0" y="636.1">Laranjeiras</text>
<text x="160.0" y="640.8">Medianeira</text>
<text x="131.0" y="651.4">Sao</text>
<text x="131.0" y="659.0">Miguel</text>
<text x="131.0" y="666.6">do</text>
<text x="131.0" y="674.2">Iguacu</text>
<text x="192.5" y="660.3">Matelandia</text>
<text x="587.5" y="659.3">Guarapuava</text>
<text x="441.0" y="656.7">Laranjeiras</text>
<text x="441.0" y="664.3">do</text>
<text x="441.0" y="671.9">Sul</text>
<text x="349.0" y="667.7">Quedas</text>
<text x="349.0" y="675.3">do</text>
<text x="349.0" y="682.9">Iguacu</text>
<text x="85.0" y="672.7">Foz</text>
<text x="85.0" y="680.3">do</text>
<text x="85.0" y="687.9">Iguacu</text>
<text x="509.0" y="684.8">Candoi</text>
<text x="408.5" y="680.4">Rio</text>
<text x="408.5" y="688.0">Bonito</text>
<text x="408.5" y="695.6">do</text>
<text x="408.5" y="703.2">Iguacu</text>
<text x="208.5" y="711.3">Capanema</text>
<text x="252.0" y="716.3">Realeza</text>
<text x="331.5" y="727.5">Dois</text>
<text x="331.5" y="735.1">Vizinhos</text>
<text x="571.5" y="736.8">Pinhao</text>
<text x="435.0" y="740.8">Chopinzinho</text>
<text x="513.0" y="743.7">Reserva</text>
<text x="513.0" y="751.3">do</text>
<text x="513.0" y="758.9">Iguacu</text>
<text x="263.5" y="761.3">Ampere</text>
<text x="418.5" y="771.0">Coronel</text>
<text x="418.5" y="778.6">Vivida</text>
<text x="472.0" y="773.3">Mangueirinha</text>
<text x="321.5" y="781.0">Francisco</text>
<text x="321.5" y="788.6">Beltrao</text>
<text x="235.0" y="776.4">Santo</text>
<text x="235.0" y="784.0">Antonio</text>
<text x="235.0" y="791.6">do</text>
<text x="235.0" y="799.2">Sudoeste</text>
<text x="398.5" y="807.0">Pato</text>
<text x="398.5" y="814.6">Branco</text>
<text x="519.5" y="801.2">Coronel</text>
<text x="519.5" y="808.8">Domingos</text>
<text x="519.5" y="816.4">Soares</text>
<text x="589.0" y="809.8">Bituruna</text>
<text x="450.0" y="841.8">Clevelandia</text>
<text x="553.5" y="858.3">Palmas</text>
<text x="608.5" y="863.5">General</text>
<text x="608.5" y="871.1">Carneiro</text>
<text x="810.5" y="572.8">Carambei</text>
<text x="962.5" y="575.5">Cerro</text>
<text x="962.5" y="583.1">Azul</text>
<text x="1020.5" y="576.7">Tunas</text>
<text x="1020.5" y="584.3">do</text>
<text x="1020.5" y="591.9">Parana</text>
<text x="739.5" y="591.3">Ipiranga</text>
<text x="946.0" y="599.9">Rio</text>
<text x="946.0" y="607.5">Branco</text>
<text x="946.0" y="615.1">do</text>
<text x="946.0" y="622.7">Sul</text>
<text x="917.0" y="613.8">Itaperucu</text>
<text x="1002.0" y="613.7">Bocaiuva</text>
<text x="1002.0" y="621.3">do</text>
<text x="1002.0" y="628.9">Sul</text>
<text x="823.5" y="616.5">Ponta</text>
<text x="823.5" y="624.1">Grossa</text>
<text x="664.5" y="627.8">Prudentopolis</text>
<text x="731.0" y="633.8">Imbituva</text>
<text x="1022.0" y="626.4">Campina</text>
<text x="1022.0" y="634.0">Grande</text>
<text x="1022.0" y="641.6">do</text>
<text x="1022.0" y="649.2">Sul</text>
<text x="1108.5" y="631.3">Guaraquecaba</text>
<text x="927.0" y="642.5">Campo</text>
<text x="927.0" y="650.1">Magro</text>
<text x="770.5" y="646.5">Teixeira</text>
<text x="770.5" y="654.1">Soares</text>
<text x="899.5" y="650.0">Campo</text>
<text x="899.5" y="657.6">Largo</text>
<text x="972.0" y="649.3">Colombo</text>
<text x="1049.5" y="649.3">Antonina</text>
<text x="1005.5" y="655.5">Quatro</text>
<text x="1005.5" y="663.1">Barras</text>
<text x="977.0" y="669.3">Pinhais</text>
<text x="956.5" y="678.8">Curitiba</text>
<text x="994.5" y="678.8">Piraquara</text>
<text x="703.0" y="681.3">Irati</text>
<text x="822.5" y="678.3">Palmeira</text>
<text x="1027.0" y="687.8">Morretes</text>
<text x="1078.0" y="685.8">Paranagua</text>
<text x="1096.0" y="694.2">Pontal</text>
<text x="1096.0" y="701.8">do</text>
<text x="1096.0" y="709.4">Parana</text>
<text x="931.0" y="701.3">Araucaria</text>
<text x="984.5" y="698.9">Sao</text>
<text x="984.5" y="706.5">Jose</text>
<text x="984.5" y="714.1">dos</text>
<text x="984.5" y="721.7">Pinhais</text>
<text x="642.0" y="706.5">Inacio</text>
<text x="642.0" y="714.1">Martins</text>
<text x="790.5" y="703.4">Sao</text>
<text x="790.5" y="711.0">Joao</text>
<text x="790.5" y="718.6">do</text>
<text x="790.5" y="726.2">Triunfo</text>
<text x="954.0" y="709.2">Fazenda</text>
<text x="954.0" y="716.8">Rio</text>
<text x="954.0" y="724.4">Grande</text>
<text x="859.5" y="732.3">Lapa</text>
<text x="1077.0" y="735.8">Matinhos</text>
<text x="1047.0" y="742.8">Guaratuba</text>
<text x="950.0" y="747.3">Mandirituba</text>
<text x="695.5" y="753.3">Mallet</text>
<text x="920.0" y="754.3">Quitandinha</text>
<text x="766.5" y="746.4">Sao</text>
<text x="766.5" y="754.0">Mateus</text>
<text x="766.5" y="761.6">do</text>
<text x="766.5" y="769.2">Sul</text>
<text x="985.5" y="749.2">Tijucas</text>
<text x="985.5" y="756.8">do</text>
<text x="985.5" y="764.4">Sul</text>
<text x="638.0" y="757.5">Cruz</text>
<text x="638.0" y="765.1">Machado</text>
<text x="661.0" y="785.2">Uniao</text>
<text x="661.0" y="792.8">da</text>
<text x="661.0" y="800.4">Vitoria</text>
<text x="900.5" y="793.5">Rio</text>
<text x="900.5" y="801.1">Negro</text>
</g>
<rect x="30.2" y="30.2" width="1178.2" height="981" fill="none" stroke="#6e6e6e" stroke-width="1.5"/>
<line x1="175.7" y1="1011" x2="175.7" y2="1016" stroke="#555" stroke-width="1"/>
<text x="176.1" y="1024.6" font-size="12.1" text-anchor="middle">54°W</text>
<line x1="341.2" y1="1011" x2="341.2" y2="1016" stroke="#555" stroke-width="1"/>
<text x="341.59999999999997" y="1024.6" font-size="12.1" text-anchor="middle">53°W</text>
<line x1="506.7" y1="1011" x2="506.7" y2="1016" stroke="#555" stroke-width="1"/>
<text x="507.09999999999997" y="1024.6" font-size="12.1" text-anchor="middle">52°W</text>
<line x1="672.2" y1="1011" x2="672.2" y2="1016" stroke="#555" stroke-width="1"/>
<text x="672.6" y="1024.6" font-size="12.1" text-anchor="middle">51°W</text>
<line x1="837.7" y1="1011" x2="837.7" y2="1016" stroke="#555" stroke-width="1"/>
<text x="838.1" y="1024.6" font-size="12.1" text-anchor="middle">50°W</text>
<line x1="1003.3" y1="1011" x2="1003.3" y2="1016" stroke="#555" stroke-width="1"/>
<text x="1003.6999999999999" y="1024.6" font-size="12.1" text-anchor="middle">49°W</text>
<line x1="1168.8" y1="1011" x2="1168.8" y2="1016" stroke="#555" stroke-width="1"/>
<text x="1169.2" y="1024.6" font-size="12.1" text-anchor="middle">48°W</text>
<line x1="26.6" y1="44.1" x2="30" y2="44.1" stroke="#555" stroke-width="1"/>
<text transform="translate(21.2,44.4) rotate(-90)" font-size="12.1" text-anchor="middle">22°S</text>
<line x1="26.6" y1="226.2" x2="30" y2="226.2" stroke="#555" stroke-width="1"/>
<text transform="translate(21.2,226.5) rotate(-90)" font-size="12.1" text-anchor="middle">23°S</text>
<line x1="26.6" y1="408.3" x2="30" y2="408.3" stroke="#555" stroke-width="1"/>
<text transform="translate(21.2,408.6) rotate(-90)" font-size="12.1" text-anchor="middle">24°S</text>
<line x1="26.6" y1="590.3" x2="30" y2="590.3" stroke="#555" stroke-width="1"/>
<text transform="translate(21.2,590.5999999999999) rotate(-90)" font-size="12.1" text-anchor="middle">25°S</text>
<line x1="26.6" y1="772.4" x2="30" y2="772.4" stroke="#555" stroke-width="1"/>
<text transform="translate(21.2,772.6999999999999) rotate(-90)" font-size="12.1" text-anchor="middle">26°S</text>
<line x1="26.6" y1="954.5" x2="30" y2="954.5" stroke="#555" stroke-width="1"/>
<text transform="translate(21.2,954.8) rotate(-90)" font-size="12.1" text-anchor="middle">27°S</text>
<text x="622.85" y="48.9" font-size="16.93" text-anchor="middle">Situação das vazões estimadas dos mananciais agrupados por município, classificadas segundo o valor da média mensal das vazões de Fevereiro/2026</text>
<text x="622.85" y="66.3" font-size="16.93" text-anchor="middle">em relação ao comportamento das vazões mensais de longo prazo</text>
<rect x="709.8" y="847.5" width="498.6" height="163.7" fill="#fff" stroke="#6e6e6e" stroke-width="1.5"/>
<line x1="723.6" y1="866.2" x2="751.2" y2="866.2" stroke="#4a9050" stroke-width="9.6" stroke-linecap="round"/>
<text x="764.3" y="871.7" font-size="15.15">Vazão média mensal muito acima da esperada no longo prazo</text>
<line x1="723.6" y1="884.4" x2="751.2" y2="884.4" stroke="#a6c8a6" stroke-width="9.6" stroke-linecap="round"/>
<text x="764.3" y="889.9" font-size="15.15">Vazão média mensal acima da esperada no longo prazo</text>
<line x1="723.6" y1="902.7" x2="751.2" y2="902.7" stroke="#f0f0f0" stroke-width="9.6" stroke-linecap="round"/>
<text x="764.3" y="908.1" font-size="15.15">Vazão média mensal dentro do intervalo de normalidade</text>
<line x1="723.6" y1="920.9" x2="751.2" y2="920.9" stroke="#f5cb9d" stroke-width="9.6" stroke-linecap="round"/>
<text x="764.3" y="926.4" font-size="15.15">Vazão média mensal abaixo da esperada no longo prazo</text>
<line x1="723.6" y1="939.2" x2="751.2" y2="939.2" stroke="#ff8a0b" stroke-width="9.6" stroke-linecap="round"/>
<text x="764.3" y="944.6" font-size="15.15">Vazão média mensal muito abaixo da esperada no longo prazo</text>
<line x1="723.6" y1="957.4" x2="751.2" y2="957.4" stroke="#f4bcc2" stroke-width="9.6" stroke-linecap="round"/>
<text x="764.3" y="962.9" font-size="15.15">Municípios com dados de mananciais ainda em desenvolvimento</text>
<line x1="723.6" y1="975.6" x2="751.2" y2="975.6" stroke="#f5f4b8" stroke-width="9.6" stroke-linecap="round"/>
<text x="764.3" y="981.1" font-size="15.15">Municípios com abastecimento subterrâneo</text>
<line x1="723.6" y1="993.9" x2="751.2" y2="993.9" stroke="#adadad" stroke-width="9.6" stroke-linecap="round"/>
<text x="764.3" y="999.3" font-size="15.15">Municípios sem atendimento da SANEPAR</text>
</svg></body></html>
